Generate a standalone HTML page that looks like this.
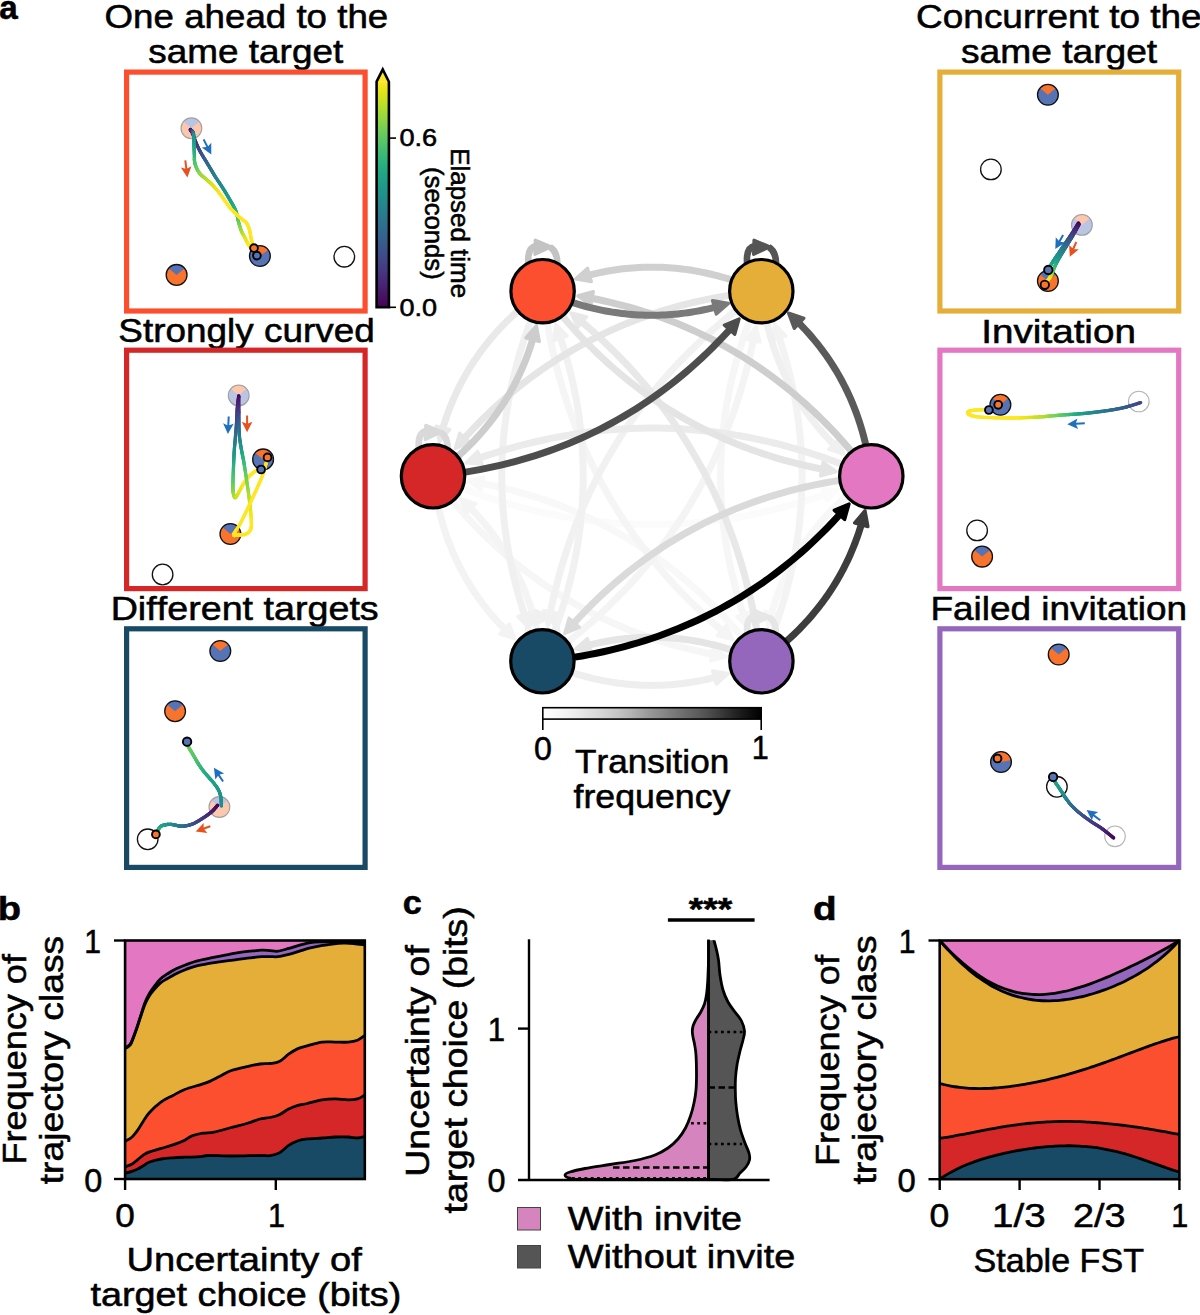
<!DOCTYPE html>
<html><head><meta charset="utf-8"><style>html,body{margin:0;padding:0;background:#fff;width:1200px;height:1315px;overflow:hidden}text{font-family:"Liberation Sans", sans-serif;font-kerning:none;stroke:#000;stroke-width:0.55px;paint-order:fill}</style></head><body>
<svg width="1200" height="1315" viewBox="0 0 1200 1315" style="display:block;font-family:'Liberation Sans', sans-serif"><text transform="translate(-0.67,18.60) scale(0.9763,1)" font-size="34" font-weight="bold" fill="#000">a</text>
<text transform="translate(-2.21,920.00) scale(1.1207,1)" font-size="34" font-weight="bold" fill="#000">b</text>
<text transform="translate(402.66,913.70) scale(1.0069,1)" font-size="34" font-weight="bold" fill="#000">c</text>
<text transform="translate(812.91,919.70) scale(1.1382,1)" font-size="34" font-weight="bold" fill="#000">d</text>
<text transform="translate(104.56,28.00) scale(1.0799,1)" font-size="34" fill="#000">One ahead to the</text>
<text transform="translate(148.37,63.30) scale(1.0856,1)" font-size="34" fill="#000">same target</text>
<text transform="translate(916.12,28.00) scale(1.0868,1)" font-size="34" fill="#000">Concurrent to the</text>
<text transform="translate(960.97,63.30) scale(1.0935,1)" font-size="34" fill="#000">same target</text>
<text transform="translate(118.32,341.50) scale(1.0861,1)" font-size="34" fill="#000">Strongly curved</text>
<text transform="translate(981.33,342.50) scale(1.1366,1)" font-size="34" fill="#000">Invitation</text>
<text transform="translate(110.66,620.00) scale(1.1088,1)" font-size="34" fill="#000">Different targets</text>
<text transform="translate(930.47,619.70) scale(1.0867,1)" font-size="34" fill="#000">Failed invitation</text>
<rect x="126.60" y="72.10" width="238.50" height="238.90" fill="none" stroke="#fc4f30" stroke-width="5.2"/>
<rect x="126.60" y="350.20" width="238.50" height="238.40" fill="none" stroke="#d62728" stroke-width="5.2"/>
<rect x="126.60" y="628.80" width="238.50" height="238.60" fill="none" stroke="#184a66" stroke-width="5.2"/>
<rect x="939.90" y="72.10" width="238.80" height="238.90" fill="none" stroke="#e5ae38" stroke-width="5.2"/>
<rect x="939.90" y="350.20" width="238.80" height="238.40" fill="none" stroke="#e377c2" stroke-width="5.2"/>
<rect x="939.90" y="628.80" width="238.80" height="238.60" fill="none" stroke="#9467bd" stroke-width="5.2"/>
<defs><linearGradient id="vg" x1="0" y1="1" x2="0" y2="0"><stop offset="0.00" stop-color="#440154"/><stop offset="0.05" stop-color="#471365"/><stop offset="0.10" stop-color="#482475"/><stop offset="0.15" stop-color="#463480"/><stop offset="0.20" stop-color="#414487"/><stop offset="0.25" stop-color="#3b528b"/><stop offset="0.30" stop-color="#355f8d"/><stop offset="0.35" stop-color="#2f6c8e"/><stop offset="0.40" stop-color="#2a788e"/><stop offset="0.45" stop-color="#25848e"/><stop offset="0.50" stop-color="#21918c"/><stop offset="0.55" stop-color="#1e9c89"/><stop offset="0.60" stop-color="#22a884"/><stop offset="0.65" stop-color="#2fb47c"/><stop offset="0.70" stop-color="#44bf70"/><stop offset="0.75" stop-color="#5ec962"/><stop offset="0.80" stop-color="#7ad151"/><stop offset="0.85" stop-color="#9bd93c"/><stop offset="0.90" stop-color="#bddf26"/><stop offset="0.95" stop-color="#dfe318"/><stop offset="1.00" stop-color="#fde725"/></linearGradient><linearGradient id="gg" x1="0" y1="0" x2="1" y2="0"><stop offset="0.00" stop-color="#ffffff"/><stop offset="0.05" stop-color="#f9f9f9"/><stop offset="0.10" stop-color="#f3f3f3"/><stop offset="0.15" stop-color="#ececec"/><stop offset="0.20" stop-color="#e2e2e2"/><stop offset="0.25" stop-color="#d9d9d9"/><stop offset="0.30" stop-color="#cecece"/><stop offset="0.35" stop-color="#c3c3c3"/><stop offset="0.40" stop-color="#b5b5b5"/><stop offset="0.45" stop-color="#a5a5a5"/><stop offset="0.50" stop-color="#959595"/><stop offset="0.55" stop-color="#888888"/><stop offset="0.60" stop-color="#7a7a7a"/><stop offset="0.65" stop-color="#6c6c6c"/><stop offset="0.70" stop-color="#5f5f5f"/><stop offset="0.75" stop-color="#515151"/><stop offset="0.80" stop-color="#404040"/><stop offset="0.85" stop-color="#2e2e2e"/><stop offset="0.90" stop-color="#1d1d1d"/><stop offset="0.95" stop-color="#0e0e0e"/><stop offset="1.00" stop-color="#000000"/></linearGradient></defs>
<rect x="376.6" y="81.7" width="12.299999999999955" height="225.60000000000002" fill="url(#vg)"/>
<path d="M376.6,81.7 L382.75,69.5 L388.9,81.7 Z" fill="#fde725"/>
<path d="M376.6,81.7 L382.75,69.5 L388.9,81.7 L388.9,307.3 L376.6,307.3 Z" fill="none" stroke="#000" stroke-width="2.6" stroke-linejoin="miter"/>
<line x1="388.9" y1="138.1" x2="396" y2="138.1" stroke="#000" stroke-width="1.6"/>
<line x1="388.9" y1="307.3" x2="396" y2="307.3" stroke="#000" stroke-width="1.6"/>
<text transform="translate(399.44,146.40) scale(1.1557,1)" font-size="23.5" fill="#000">0.6</text>
<text transform="translate(399.44,316.20) scale(1.1514,1)" font-size="23.5" fill="#000">0.0</text>
<text transform="translate(451.40,148.17) rotate(90) scale(0.9828,1)" font-size="26.4" fill="#000">Elapsed time</text>
<text transform="translate(425.20,167.01) rotate(90) scale(1.0275,1)" font-size="25" fill="#000">(seconds)</text>
<rect x="542.8" y="707.7" width="218.4" height="11.4" fill="url(#gg)" stroke="#000" stroke-width="1.6"/>
<line x1="542.8" y1="719" x2="542.8" y2="730" stroke="#000" stroke-width="1.6"/>
<line x1="761.2" y1="719" x2="761.2" y2="730" stroke="#000" stroke-width="1.6"/>
<text transform="translate(533.94,759.50) scale(0.9475,1)" font-size="34" fill="#000">0</text>
<text transform="translate(751.67,759.00) scale(0.9005,1)" font-size="34" fill="#000">1</text>
<text transform="translate(575.01,773.30) scale(1.0334,1)" font-size="34" fill="#000">Transition</text>
<text transform="translate(573.49,807.50) scale(1.0513,1)" font-size="34" fill="#000">frequency</text>
<path d="M125.10,940.50 C165.05,940.50 324.85,940.50 364.80,940.50 L364.80,942.50 C363.50,942.38 359.80,941.97 357.00,941.80 C354.20,941.63 351.67,941.55 348.00,941.50 C344.33,941.45 339.67,941.45 335.00,941.50 C330.33,941.55 324.10,941.62 320.00,941.80 C315.90,941.98 313.80,942.03 310.40,942.60 C307.00,943.17 303.20,944.23 299.60,945.20 C296.00,946.17 292.42,947.40 288.80,948.40 C285.18,949.40 281.03,950.83 277.90,951.20 C274.77,951.57 272.70,950.77 270.00,950.60 C267.30,950.43 265.03,950.10 261.70,950.20 C258.37,950.30 253.62,950.85 250.00,951.20 C246.38,951.55 243.62,951.74 240.00,952.30 C236.38,952.86 232.05,953.85 228.30,954.56 C224.55,955.28 221.10,955.89 217.50,956.61 C213.90,957.32 210.45,958.03 206.70,958.85 C202.95,959.66 198.47,960.52 195.00,961.50 C191.53,962.48 188.95,963.52 185.90,964.70 C182.85,965.88 179.75,967.10 176.70,968.60 C173.65,970.10 170.33,971.95 167.60,973.70 C164.87,975.45 162.58,976.88 160.30,979.08 C158.02,981.27 155.72,984.48 153.90,986.89 C152.08,989.30 150.92,990.84 149.40,993.55 C147.88,996.25 146.33,999.18 144.80,1003.12 C143.27,1007.06 141.72,1012.57 140.20,1017.18 C138.68,1021.80 137.22,1026.55 135.70,1030.80 C134.18,1035.05 132.38,1040.15 131.10,1042.70 C129.82,1045.25 129.00,1045.28 128.00,1046.10 C127.00,1046.92 125.58,1047.35 125.10,1047.60 Z" fill="#e377c2"/>
<path d="M125.10,1047.60 C125.58,1047.35 127.00,1046.92 128.00,1046.10 C129.00,1045.28 129.82,1045.25 131.10,1042.70 C132.38,1040.15 134.18,1035.05 135.70,1030.80 C137.22,1026.55 138.68,1021.80 140.20,1017.18 C141.72,1012.57 143.27,1007.06 144.80,1003.12 C146.33,999.18 147.88,996.25 149.40,993.55 C150.92,990.84 152.08,989.30 153.90,986.89 C155.72,984.48 158.02,981.27 160.30,979.08 C162.58,976.88 164.87,975.45 167.60,973.70 C170.33,971.95 173.65,970.10 176.70,968.60 C179.75,967.10 182.85,965.88 185.90,964.70 C188.95,963.52 191.53,962.48 195.00,961.50 C198.47,960.52 202.95,959.66 206.70,958.85 C210.45,958.03 213.90,957.32 217.50,956.61 C221.10,955.89 224.55,955.28 228.30,954.56 C232.05,953.85 236.38,952.86 240.00,952.30 C243.62,951.74 246.38,951.55 250.00,951.20 C253.62,950.85 258.37,950.30 261.70,950.20 C265.03,950.10 267.30,950.43 270.00,950.60 C272.70,950.77 274.77,951.57 277.90,951.20 C281.03,950.83 285.18,949.40 288.80,948.40 C292.42,947.40 296.00,946.17 299.60,945.20 C303.20,944.23 307.00,943.17 310.40,942.60 C313.80,942.03 315.90,941.98 320.00,941.80 C324.10,941.62 330.33,941.55 335.00,941.50 C339.67,941.45 344.33,941.45 348.00,941.50 C351.67,941.55 354.20,941.63 357.00,941.80 C359.80,941.97 363.50,942.38 364.80,942.50 L364.80,945.00 C362.97,944.75 357.45,943.80 353.80,943.50 C350.15,943.20 346.52,943.10 342.90,943.20 C339.28,943.30 335.70,943.68 332.10,944.10 C328.50,944.52 324.92,945.07 321.30,945.70 C317.68,946.33 314.02,947.00 310.40,947.90 C306.78,948.80 303.20,950.02 299.60,951.10 C296.00,952.18 292.42,953.47 288.80,954.40 C285.18,955.33 281.03,956.33 277.90,956.70 C274.77,957.07 272.70,956.60 270.00,956.60 C267.30,956.60 265.03,956.48 261.70,956.70 C258.37,956.92 253.62,957.48 250.00,957.90 C246.38,958.32 243.62,958.74 240.00,959.20 C236.38,959.66 232.05,960.14 228.30,960.64 C224.55,961.14 221.10,961.64 217.50,962.19 C213.90,962.75 210.45,963.27 206.70,963.95 C202.95,964.64 198.47,965.38 195.00,966.30 C191.53,967.22 188.95,968.32 185.90,969.50 C182.85,970.68 179.75,971.90 176.70,973.40 C173.65,974.90 170.33,976.88 167.60,978.50 C164.87,980.12 162.58,981.22 160.30,983.12 C158.02,985.03 155.72,987.79 153.90,989.91 C152.08,992.03 150.92,993.39 149.40,995.85 C147.88,998.31 146.33,1000.99 144.80,1004.68 C143.27,1008.38 141.72,1013.53 140.20,1018.02 C138.68,1022.50 137.22,1027.35 135.70,1031.60 C134.18,1035.85 132.38,1040.95 131.10,1043.50 C129.82,1046.05 129.00,1046.08 128.00,1046.90 C127.00,1047.72 125.58,1048.15 125.10,1048.40 Z" fill="#9467bd"/>
<path d="M125.10,1048.40 C125.58,1048.15 127.00,1047.72 128.00,1046.90 C129.00,1046.08 129.82,1046.05 131.10,1043.50 C132.38,1040.95 134.18,1035.85 135.70,1031.60 C137.22,1027.35 138.68,1022.50 140.20,1018.02 C141.72,1013.53 143.27,1008.38 144.80,1004.68 C146.33,1000.99 147.88,998.31 149.40,995.85 C150.92,993.39 152.08,992.03 153.90,989.91 C155.72,987.79 158.02,985.03 160.30,983.12 C162.58,981.22 164.87,980.12 167.60,978.50 C170.33,976.88 173.65,974.90 176.70,973.40 C179.75,971.90 182.85,970.68 185.90,969.50 C188.95,968.32 191.53,967.22 195.00,966.30 C198.47,965.38 202.95,964.64 206.70,963.95 C210.45,963.27 213.90,962.75 217.50,962.19 C221.10,961.64 224.55,961.14 228.30,960.64 C232.05,960.14 236.38,959.66 240.00,959.20 C243.62,958.74 246.38,958.32 250.00,957.90 C253.62,957.48 258.37,956.92 261.70,956.70 C265.03,956.48 267.30,956.60 270.00,956.60 C272.70,956.60 274.77,957.07 277.90,956.70 C281.03,956.33 285.18,955.33 288.80,954.40 C292.42,953.47 296.00,952.18 299.60,951.10 C303.20,950.02 306.78,948.80 310.40,947.90 C314.02,947.00 317.68,946.33 321.30,945.70 C324.92,945.07 328.50,944.52 332.10,944.10 C335.70,943.68 339.28,943.30 342.90,943.20 C346.52,943.10 350.15,943.20 353.80,943.50 C357.45,943.80 362.97,944.75 364.80,945.00 L364.80,1035.50 C363.58,1036.28 360.27,1039.10 357.50,1040.20 C354.73,1041.30 351.92,1041.78 348.20,1042.10 C344.48,1042.42 339.55,1042.10 335.20,1042.10 C330.85,1042.10 326.77,1041.48 322.10,1042.10 C317.43,1042.72 311.23,1044.72 307.20,1045.80 C303.17,1046.88 301.00,1047.20 297.90,1048.60 C294.80,1050.00 291.70,1052.03 288.60,1054.20 C285.50,1056.37 282.40,1060.05 279.30,1061.60 C276.20,1063.15 273.25,1063.10 270.00,1063.50 C266.75,1063.90 263.40,1063.53 259.80,1064.00 C256.20,1064.47 253.15,1065.22 248.40,1066.30 C243.65,1067.38 236.05,1068.85 231.30,1070.50 C226.55,1072.15 223.70,1074.30 219.90,1076.20 C216.10,1078.10 211.82,1080.47 208.50,1081.90 C205.18,1083.33 203.95,1083.53 200.00,1084.80 C196.05,1086.07 189.30,1087.73 184.80,1089.50 C180.30,1091.27 176.93,1093.33 173.00,1095.40 C169.07,1097.47 165.12,1099.05 161.20,1101.90 C157.28,1104.75 152.43,1109.37 149.50,1112.50 C146.57,1115.63 145.57,1117.77 143.60,1120.70 C141.63,1123.63 139.67,1127.35 137.70,1130.10 C135.73,1132.85 133.90,1135.33 131.80,1137.20 C129.70,1139.07 126.22,1140.62 125.10,1141.30 Z" fill="#e5ae38"/>
<path d="M125.10,1141.30 C126.22,1140.62 129.70,1139.07 131.80,1137.20 C133.90,1135.33 135.73,1132.85 137.70,1130.10 C139.67,1127.35 141.63,1123.63 143.60,1120.70 C145.57,1117.77 146.57,1115.63 149.50,1112.50 C152.43,1109.37 157.28,1104.75 161.20,1101.90 C165.12,1099.05 169.07,1097.47 173.00,1095.40 C176.93,1093.33 180.30,1091.27 184.80,1089.50 C189.30,1087.73 196.05,1086.07 200.00,1084.80 C203.95,1083.53 205.18,1083.33 208.50,1081.90 C211.82,1080.47 216.10,1078.10 219.90,1076.20 C223.70,1074.30 226.55,1072.15 231.30,1070.50 C236.05,1068.85 243.65,1067.38 248.40,1066.30 C253.15,1065.22 256.20,1064.47 259.80,1064.00 C263.40,1063.53 266.75,1063.90 270.00,1063.50 C273.25,1063.10 276.20,1063.15 279.30,1061.60 C282.40,1060.05 285.50,1056.37 288.60,1054.20 C291.70,1052.03 294.80,1050.00 297.90,1048.60 C301.00,1047.20 303.17,1046.88 307.20,1045.80 C311.23,1044.72 317.43,1042.72 322.10,1042.10 C326.77,1041.48 330.85,1042.10 335.20,1042.10 C339.55,1042.10 344.48,1042.42 348.20,1042.10 C351.92,1041.78 354.73,1041.30 357.50,1040.20 C360.27,1039.10 363.58,1036.28 364.80,1035.50 L364.80,1095.00 C363.58,1095.65 360.27,1098.10 357.50,1098.90 C354.73,1099.70 351.92,1099.80 348.20,1099.80 C344.48,1099.80 339.55,1098.90 335.20,1098.90 C330.85,1098.90 326.77,1099.03 322.10,1099.80 C317.43,1100.57 311.23,1102.57 307.20,1103.50 C303.17,1104.43 301.00,1104.47 297.90,1105.40 C294.80,1106.33 291.70,1107.55 288.60,1109.10 C285.50,1110.65 282.40,1113.30 279.30,1114.70 C276.20,1116.10 273.25,1116.78 270.00,1117.50 C266.75,1118.22 263.40,1118.08 259.80,1119.00 C256.20,1119.92 253.15,1121.58 248.40,1123.00 C243.65,1124.42 237.00,1125.98 231.30,1127.50 C225.60,1129.02 218.95,1131.15 214.20,1132.10 C209.45,1133.05 206.60,1132.53 202.80,1133.20 C199.00,1133.87 194.40,1134.93 191.40,1136.10 C188.40,1137.27 187.87,1138.73 184.80,1140.20 C181.73,1141.67 176.93,1143.53 173.00,1144.90 C169.07,1146.27 165.12,1147.23 161.20,1148.40 C157.28,1149.57 152.43,1150.82 149.50,1151.90 C146.57,1152.98 145.57,1153.62 143.60,1154.90 C141.63,1156.18 139.67,1158.03 137.70,1159.60 C135.73,1161.17 133.90,1163.12 131.80,1164.30 C129.70,1165.48 126.22,1166.30 125.10,1166.70 Z" fill="#fc4f30"/>
<path d="M125.10,1166.70 C126.22,1166.30 129.70,1165.48 131.80,1164.30 C133.90,1163.12 135.73,1161.17 137.70,1159.60 C139.67,1158.03 141.63,1156.18 143.60,1154.90 C145.57,1153.62 146.57,1152.98 149.50,1151.90 C152.43,1150.82 157.28,1149.57 161.20,1148.40 C165.12,1147.23 169.07,1146.27 173.00,1144.90 C176.93,1143.53 181.73,1141.67 184.80,1140.20 C187.87,1138.73 188.40,1137.27 191.40,1136.10 C194.40,1134.93 199.00,1133.87 202.80,1133.20 C206.60,1132.53 209.45,1133.05 214.20,1132.10 C218.95,1131.15 225.60,1129.02 231.30,1127.50 C237.00,1125.98 243.65,1124.42 248.40,1123.00 C253.15,1121.58 256.20,1119.92 259.80,1119.00 C263.40,1118.08 266.75,1118.22 270.00,1117.50 C273.25,1116.78 276.20,1116.10 279.30,1114.70 C282.40,1113.30 285.50,1110.65 288.60,1109.10 C291.70,1107.55 294.80,1106.33 297.90,1105.40 C301.00,1104.47 303.17,1104.43 307.20,1103.50 C311.23,1102.57 317.43,1100.57 322.10,1099.80 C326.77,1099.03 330.85,1098.90 335.20,1098.90 C339.55,1098.90 344.48,1099.80 348.20,1099.80 C351.92,1099.80 354.73,1099.70 357.50,1098.90 C360.27,1098.10 363.58,1095.65 364.80,1095.00 L364.80,1136.50 C363.58,1136.75 360.27,1137.92 357.50,1138.00 C354.73,1138.08 351.92,1137.17 348.20,1137.00 C344.48,1136.83 339.55,1136.83 335.20,1137.00 C330.85,1137.17 326.77,1137.68 322.10,1138.00 C317.43,1138.32 311.23,1138.43 307.20,1138.90 C303.17,1139.37 301.00,1139.72 297.90,1140.80 C294.80,1141.88 291.70,1143.38 288.60,1145.40 C285.50,1147.42 282.40,1151.18 279.30,1152.90 C276.20,1154.62 273.25,1155.27 270.00,1155.70 C266.75,1156.13 266.25,1155.45 259.80,1155.50 C253.35,1155.55 239.85,1156.00 231.30,1156.00 C222.75,1156.00 213.72,1155.38 208.50,1155.50 C203.28,1155.62 203.95,1156.42 200.00,1156.70 C196.05,1156.98 189.30,1157.02 184.80,1157.20 C180.30,1157.38 176.93,1157.50 173.00,1157.80 C169.07,1158.10 165.12,1158.30 161.20,1159.00 C157.28,1159.70 152.43,1160.92 149.50,1162.00 C146.57,1163.08 145.57,1164.33 143.60,1165.50 C141.63,1166.67 139.67,1168.02 137.70,1169.00 C135.73,1169.98 133.90,1170.70 131.80,1171.40 C129.70,1172.10 126.22,1172.90 125.10,1173.20 Z" fill="#d62728"/>
<path d="M125.10,1173.20 C126.22,1172.90 129.70,1172.10 131.80,1171.40 C133.90,1170.70 135.73,1169.98 137.70,1169.00 C139.67,1168.02 141.63,1166.67 143.60,1165.50 C145.57,1164.33 146.57,1163.08 149.50,1162.00 C152.43,1160.92 157.28,1159.70 161.20,1159.00 C165.12,1158.30 169.07,1158.10 173.00,1157.80 C176.93,1157.50 180.30,1157.38 184.80,1157.20 C189.30,1157.02 196.05,1156.98 200.00,1156.70 C203.95,1156.42 203.28,1155.62 208.50,1155.50 C213.72,1155.38 222.75,1156.00 231.30,1156.00 C239.85,1156.00 253.35,1155.55 259.80,1155.50 C266.25,1155.45 266.75,1156.13 270.00,1155.70 C273.25,1155.27 276.20,1154.62 279.30,1152.90 C282.40,1151.18 285.50,1147.42 288.60,1145.40 C291.70,1143.38 294.80,1141.88 297.90,1140.80 C301.00,1139.72 303.17,1139.37 307.20,1138.90 C311.23,1138.43 317.43,1138.32 322.10,1138.00 C326.77,1137.68 330.85,1137.17 335.20,1137.00 C339.55,1136.83 344.48,1136.83 348.20,1137.00 C351.92,1137.17 354.73,1138.08 357.50,1138.00 C360.27,1137.92 363.58,1136.75 364.80,1136.50 L364.80,1179.00 C324.85,1179.00 165.05,1179.00 125.10,1179.00 Z" fill="#184a66"/>
<path d="M125.10,1047.60 C125.58,1047.35 127.00,1046.92 128.00,1046.10 C129.00,1045.28 129.82,1045.25 131.10,1042.70 C132.38,1040.15 134.18,1035.05 135.70,1030.80 C137.22,1026.55 138.68,1021.80 140.20,1017.18 C141.72,1012.57 143.27,1007.06 144.80,1003.12 C146.33,999.18 147.88,996.25 149.40,993.55 C150.92,990.84 152.08,989.30 153.90,986.89 C155.72,984.48 158.02,981.27 160.30,979.08 C162.58,976.88 164.87,975.45 167.60,973.70 C170.33,971.95 173.65,970.10 176.70,968.60 C179.75,967.10 182.85,965.88 185.90,964.70 C188.95,963.52 191.53,962.48 195.00,961.50 C198.47,960.52 202.95,959.66 206.70,958.85 C210.45,958.03 213.90,957.32 217.50,956.61 C221.10,955.89 224.55,955.28 228.30,954.56 C232.05,953.85 236.38,952.86 240.00,952.30 C243.62,951.74 246.38,951.55 250.00,951.20 C253.62,950.85 258.37,950.30 261.70,950.20 C265.03,950.10 267.30,950.43 270.00,950.60 C272.70,950.77 274.77,951.57 277.90,951.20 C281.03,950.83 285.18,949.40 288.80,948.40 C292.42,947.40 296.00,946.17 299.60,945.20 C303.20,944.23 307.00,943.17 310.40,942.60 C313.80,942.03 315.90,941.98 320.00,941.80 C324.10,941.62 330.33,941.55 335.00,941.50 C339.67,941.45 344.33,941.45 348.00,941.50 C351.67,941.55 354.20,941.63 357.00,941.80 C359.80,941.97 363.50,942.38 364.80,942.50" fill="none" stroke="#000" stroke-width="2.8" stroke-linejoin="round"/>
<path d="M125.10,1048.40 C125.58,1048.15 127.00,1047.72 128.00,1046.90 C129.00,1046.08 129.82,1046.05 131.10,1043.50 C132.38,1040.95 134.18,1035.85 135.70,1031.60 C137.22,1027.35 138.68,1022.50 140.20,1018.02 C141.72,1013.53 143.27,1008.38 144.80,1004.68 C146.33,1000.99 147.88,998.31 149.40,995.85 C150.92,993.39 152.08,992.03 153.90,989.91 C155.72,987.79 158.02,985.03 160.30,983.12 C162.58,981.22 164.87,980.12 167.60,978.50 C170.33,976.88 173.65,974.90 176.70,973.40 C179.75,971.90 182.85,970.68 185.90,969.50 C188.95,968.32 191.53,967.22 195.00,966.30 C198.47,965.38 202.95,964.64 206.70,963.95 C210.45,963.27 213.90,962.75 217.50,962.19 C221.10,961.64 224.55,961.14 228.30,960.64 C232.05,960.14 236.38,959.66 240.00,959.20 C243.62,958.74 246.38,958.32 250.00,957.90 C253.62,957.48 258.37,956.92 261.70,956.70 C265.03,956.48 267.30,956.60 270.00,956.60 C272.70,956.60 274.77,957.07 277.90,956.70 C281.03,956.33 285.18,955.33 288.80,954.40 C292.42,953.47 296.00,952.18 299.60,951.10 C303.20,950.02 306.78,948.80 310.40,947.90 C314.02,947.00 317.68,946.33 321.30,945.70 C324.92,945.07 328.50,944.52 332.10,944.10 C335.70,943.68 339.28,943.30 342.90,943.20 C346.52,943.10 350.15,943.20 353.80,943.50 C357.45,943.80 362.97,944.75 364.80,945.00" fill="none" stroke="#000" stroke-width="2.8" stroke-linejoin="round"/>
<path d="M125.10,1141.30 C126.22,1140.62 129.70,1139.07 131.80,1137.20 C133.90,1135.33 135.73,1132.85 137.70,1130.10 C139.67,1127.35 141.63,1123.63 143.60,1120.70 C145.57,1117.77 146.57,1115.63 149.50,1112.50 C152.43,1109.37 157.28,1104.75 161.20,1101.90 C165.12,1099.05 169.07,1097.47 173.00,1095.40 C176.93,1093.33 180.30,1091.27 184.80,1089.50 C189.30,1087.73 196.05,1086.07 200.00,1084.80 C203.95,1083.53 205.18,1083.33 208.50,1081.90 C211.82,1080.47 216.10,1078.10 219.90,1076.20 C223.70,1074.30 226.55,1072.15 231.30,1070.50 C236.05,1068.85 243.65,1067.38 248.40,1066.30 C253.15,1065.22 256.20,1064.47 259.80,1064.00 C263.40,1063.53 266.75,1063.90 270.00,1063.50 C273.25,1063.10 276.20,1063.15 279.30,1061.60 C282.40,1060.05 285.50,1056.37 288.60,1054.20 C291.70,1052.03 294.80,1050.00 297.90,1048.60 C301.00,1047.20 303.17,1046.88 307.20,1045.80 C311.23,1044.72 317.43,1042.72 322.10,1042.10 C326.77,1041.48 330.85,1042.10 335.20,1042.10 C339.55,1042.10 344.48,1042.42 348.20,1042.10 C351.92,1041.78 354.73,1041.30 357.50,1040.20 C360.27,1039.10 363.58,1036.28 364.80,1035.50" fill="none" stroke="#000" stroke-width="2.8" stroke-linejoin="round"/>
<path d="M125.10,1166.70 C126.22,1166.30 129.70,1165.48 131.80,1164.30 C133.90,1163.12 135.73,1161.17 137.70,1159.60 C139.67,1158.03 141.63,1156.18 143.60,1154.90 C145.57,1153.62 146.57,1152.98 149.50,1151.90 C152.43,1150.82 157.28,1149.57 161.20,1148.40 C165.12,1147.23 169.07,1146.27 173.00,1144.90 C176.93,1143.53 181.73,1141.67 184.80,1140.20 C187.87,1138.73 188.40,1137.27 191.40,1136.10 C194.40,1134.93 199.00,1133.87 202.80,1133.20 C206.60,1132.53 209.45,1133.05 214.20,1132.10 C218.95,1131.15 225.60,1129.02 231.30,1127.50 C237.00,1125.98 243.65,1124.42 248.40,1123.00 C253.15,1121.58 256.20,1119.92 259.80,1119.00 C263.40,1118.08 266.75,1118.22 270.00,1117.50 C273.25,1116.78 276.20,1116.10 279.30,1114.70 C282.40,1113.30 285.50,1110.65 288.60,1109.10 C291.70,1107.55 294.80,1106.33 297.90,1105.40 C301.00,1104.47 303.17,1104.43 307.20,1103.50 C311.23,1102.57 317.43,1100.57 322.10,1099.80 C326.77,1099.03 330.85,1098.90 335.20,1098.90 C339.55,1098.90 344.48,1099.80 348.20,1099.80 C351.92,1099.80 354.73,1099.70 357.50,1098.90 C360.27,1098.10 363.58,1095.65 364.80,1095.00" fill="none" stroke="#000" stroke-width="2.8" stroke-linejoin="round"/>
<path d="M125.10,1173.20 C126.22,1172.90 129.70,1172.10 131.80,1171.40 C133.90,1170.70 135.73,1169.98 137.70,1169.00 C139.67,1168.02 141.63,1166.67 143.60,1165.50 C145.57,1164.33 146.57,1163.08 149.50,1162.00 C152.43,1160.92 157.28,1159.70 161.20,1159.00 C165.12,1158.30 169.07,1158.10 173.00,1157.80 C176.93,1157.50 180.30,1157.38 184.80,1157.20 C189.30,1157.02 196.05,1156.98 200.00,1156.70 C203.95,1156.42 203.28,1155.62 208.50,1155.50 C213.72,1155.38 222.75,1156.00 231.30,1156.00 C239.85,1156.00 253.35,1155.55 259.80,1155.50 C266.25,1155.45 266.75,1156.13 270.00,1155.70 C273.25,1155.27 276.20,1154.62 279.30,1152.90 C282.40,1151.18 285.50,1147.42 288.60,1145.40 C291.70,1143.38 294.80,1141.88 297.90,1140.80 C301.00,1139.72 303.17,1139.37 307.20,1138.90 C311.23,1138.43 317.43,1138.32 322.10,1138.00 C326.77,1137.68 330.85,1137.17 335.20,1137.00 C339.55,1136.83 344.48,1136.83 348.20,1137.00 C351.92,1137.17 354.73,1138.08 357.50,1138.00 C360.27,1137.92 363.58,1136.75 364.80,1136.50" fill="none" stroke="#000" stroke-width="2.8" stroke-linejoin="round"/>
<rect x="125.1" y="940.5" width="239.70000000000002" height="238.5" fill="none" stroke="#000" stroke-width="2.6"/>
<line x1="125.1" y1="1179.0" x2="125.1" y2="1190" stroke="#000" stroke-width="2.4"/>
<line x1="275.8" y1="1179.0" x2="275.8" y2="1190" stroke="#000" stroke-width="2.4"/>
<line x1="114" y1="940.5" x2="125.1" y2="940.5" stroke="#000" stroke-width="2.4"/>
<line x1="114" y1="1179.0" x2="125.1" y2="1179.0" stroke="#000" stroke-width="2.4"/>
<text transform="translate(84.20,953.00) scale(0.8868,1)" font-size="34" fill="#000">1</text>
<text transform="translate(84.23,1191.50) scale(0.9537,1)" font-size="34" fill="#000">0</text>
<text transform="translate(115.13,1227.00) scale(1.0337,1)" font-size="34" fill="#000">0</text>
<text transform="translate(267.97,1226.50) scale(0.9005,1)" font-size="34" fill="#000">1</text>
<text transform="translate(126.56,1271.30) scale(1.1217,1)" font-size="34" fill="#000">Uncertainty of</text>
<text transform="translate(90.43,1305.60) scale(1.1117,1)" font-size="34" fill="#000">target choice (bits)</text>
<text transform="translate(25.50,1164.46) rotate(-90) scale(1.0603,1)" font-size="34" fill="#000">Frequency of</text>
<text transform="translate(62.80,1184.36) rotate(-90) scale(1.0970,1)" font-size="34" fill="#000">trajectory class</text>
<path d="M939.70,940.50 C979.65,940.50 1139.45,940.50 1179.40,940.50 L1179.40,940.48 C1178.57,940.99 1176.07,942.53 1174.41,943.53 C1172.74,944.53 1171.08,945.50 1169.41,946.46 C1167.75,947.42 1166.08,948.36 1164.42,949.29 C1162.75,950.21 1161.09,951.13 1159.43,952.03 C1157.76,952.93 1156.10,953.81 1154.43,954.69 C1152.77,955.57 1151.10,956.43 1149.44,957.29 C1147.77,958.15 1146.11,958.99 1144.44,959.83 C1142.78,960.67 1141.11,961.50 1139.45,962.32 C1137.79,963.14 1136.12,963.95 1134.46,964.75 C1132.79,965.56 1131.13,966.35 1129.46,967.14 C1127.80,967.93 1126.13,968.71 1124.47,969.48 C1122.80,970.25 1121.14,971.01 1119.48,971.77 C1117.81,972.52 1116.15,973.26 1114.48,974.00 C1112.82,974.73 1111.15,975.45 1109.49,976.17 C1107.82,976.88 1106.16,977.58 1104.49,978.27 C1102.83,978.95 1101.16,979.63 1099.50,980.29 C1097.84,980.95 1096.17,981.60 1094.51,982.23 C1092.84,982.86 1091.18,983.47 1089.51,984.07 C1087.85,984.66 1086.18,985.24 1084.52,985.80 C1082.85,986.36 1081.19,986.90 1079.53,987.42 C1077.86,987.93 1076.20,988.43 1074.53,988.90 C1072.87,989.37 1071.20,989.82 1069.54,990.24 C1067.87,990.66 1066.21,991.06 1064.54,991.42 C1062.88,991.79 1061.21,992.13 1059.55,992.44 C1057.89,992.74 1056.22,993.02 1054.56,993.27 C1052.89,993.51 1051.23,993.73 1049.56,993.90 C1047.90,994.08 1046.23,994.22 1044.57,994.33 C1042.90,994.43 1041.24,994.50 1039.58,994.53 C1037.91,994.56 1036.25,994.55 1034.58,994.49 C1032.92,994.44 1031.25,994.35 1029.59,994.22 C1027.92,994.08 1026.26,993.90 1024.59,993.68 C1022.93,993.46 1021.26,993.19 1019.60,992.88 C1017.94,992.56 1016.27,992.20 1014.61,991.79 C1012.94,991.39 1011.28,990.93 1009.61,990.43 C1007.95,989.92 1006.28,989.37 1004.62,988.77 C1002.95,988.17 1001.29,987.52 999.62,986.82 C997.96,986.11 996.30,985.36 994.63,984.56 C992.97,983.75 991.30,982.90 989.64,982.00 C987.97,981.09 986.31,980.14 984.64,979.13 C982.98,978.12 981.31,977.07 979.65,975.96 C977.99,974.85 976.32,973.69 974.66,972.49 C972.99,971.28 971.33,970.02 969.66,968.72 C968.00,967.41 966.33,966.06 964.67,964.66 C963.00,963.26 961.34,961.81 959.68,960.32 C958.01,958.83 956.35,957.30 954.68,955.72 C953.02,954.14 951.35,952.52 949.69,950.87 C948.02,949.21 946.36,947.51 944.69,945.78 C943.03,944.04 940.53,941.35 939.70,940.47 Z" fill="#e377c2"/>
<path d="M939.70,940.47 C940.53,941.35 943.03,944.04 944.69,945.78 C946.36,947.51 948.02,949.21 949.69,950.87 C951.35,952.52 953.02,954.14 954.68,955.72 C956.35,957.30 958.01,958.83 959.68,960.32 C961.34,961.81 963.00,963.26 964.67,964.66 C966.33,966.06 968.00,967.41 969.66,968.72 C971.33,970.02 972.99,971.28 974.66,972.49 C976.32,973.69 977.99,974.85 979.65,975.96 C981.31,977.07 982.98,978.12 984.64,979.13 C986.31,980.14 987.97,981.09 989.64,982.00 C991.30,982.90 992.97,983.75 994.63,984.56 C996.30,985.36 997.96,986.11 999.62,986.82 C1001.29,987.52 1002.95,988.17 1004.62,988.77 C1006.28,989.37 1007.95,989.92 1009.61,990.43 C1011.28,990.93 1012.94,991.39 1014.61,991.79 C1016.27,992.20 1017.94,992.56 1019.60,992.88 C1021.26,993.19 1022.93,993.46 1024.59,993.68 C1026.26,993.90 1027.92,994.08 1029.59,994.22 C1031.25,994.35 1032.92,994.44 1034.58,994.49 C1036.25,994.55 1037.91,994.56 1039.58,994.53 C1041.24,994.50 1042.90,994.43 1044.57,994.33 C1046.23,994.22 1047.90,994.08 1049.56,993.90 C1051.23,993.73 1052.89,993.51 1054.56,993.27 C1056.22,993.02 1057.89,992.74 1059.55,992.44 C1061.21,992.13 1062.88,991.79 1064.54,991.42 C1066.21,991.06 1067.87,990.66 1069.54,990.24 C1071.20,989.82 1072.87,989.37 1074.53,988.90 C1076.20,988.43 1077.86,987.93 1079.53,987.42 C1081.19,986.90 1082.85,986.36 1084.52,985.80 C1086.18,985.24 1087.85,984.66 1089.51,984.07 C1091.18,983.47 1092.84,982.86 1094.51,982.23 C1096.17,981.60 1097.84,980.95 1099.50,980.29 C1101.16,979.63 1102.83,978.95 1104.49,978.27 C1106.16,977.58 1107.82,976.88 1109.49,976.17 C1111.15,975.45 1112.82,974.73 1114.48,974.00 C1116.15,973.26 1117.81,972.52 1119.48,971.77 C1121.14,971.01 1122.80,970.25 1124.47,969.48 C1126.13,968.71 1127.80,967.93 1129.46,967.14 C1131.13,966.35 1132.79,965.56 1134.46,964.75 C1136.12,963.95 1137.79,963.14 1139.45,962.32 C1141.11,961.50 1142.78,960.67 1144.44,959.83 C1146.11,958.99 1147.77,958.15 1149.44,957.29 C1151.10,956.43 1152.77,955.57 1154.43,954.69 C1156.10,953.81 1157.76,952.93 1159.43,952.03 C1161.09,951.13 1162.75,950.21 1164.42,949.29 C1166.08,948.36 1167.75,947.42 1169.41,946.46 C1171.08,945.50 1172.74,944.53 1174.41,943.53 C1176.07,942.53 1178.57,940.99 1179.40,940.48 L1179.40,940.49 C1178.57,941.37 1176.07,944.07 1174.41,945.76 C1172.74,947.45 1171.08,949.07 1169.41,950.63 C1167.75,952.20 1166.08,953.69 1164.42,955.14 C1162.75,956.58 1161.09,957.97 1159.43,959.31 C1157.76,960.65 1156.10,961.94 1154.43,963.18 C1152.77,964.43 1151.10,965.62 1149.44,966.78 C1147.77,967.94 1146.11,969.05 1144.44,970.13 C1142.78,971.20 1141.11,972.24 1139.45,973.25 C1137.79,974.25 1136.12,975.22 1134.46,976.15 C1132.79,977.09 1131.13,977.99 1129.46,978.86 C1127.80,979.74 1126.13,980.58 1124.47,981.40 C1122.80,982.21 1121.14,983.00 1119.48,983.76 C1117.81,984.52 1116.15,985.25 1114.48,985.96 C1112.82,986.66 1111.15,987.34 1109.49,988.00 C1107.82,988.66 1106.16,989.29 1104.49,989.90 C1102.83,990.51 1101.16,991.09 1099.50,991.65 C1097.84,992.21 1096.17,992.75 1094.51,993.26 C1092.84,993.77 1091.18,994.26 1089.51,994.72 C1087.85,995.18 1086.18,995.62 1084.52,996.04 C1082.85,996.45 1081.19,996.84 1079.53,997.20 C1077.86,997.57 1076.20,997.90 1074.53,998.22 C1072.87,998.53 1071.20,998.81 1069.54,999.07 C1067.87,999.33 1066.21,999.56 1064.54,999.76 C1062.88,999.97 1061.21,1000.14 1059.55,1000.28 C1057.89,1000.43 1056.22,1000.54 1054.56,1000.63 C1052.89,1000.71 1051.23,1000.76 1049.56,1000.78 C1047.90,1000.80 1046.23,1000.79 1044.57,1000.74 C1042.90,1000.69 1041.24,1000.61 1039.58,1000.49 C1037.91,1000.37 1036.25,1000.22 1034.58,1000.03 C1032.92,999.84 1031.25,999.61 1029.59,999.34 C1027.92,999.07 1026.26,998.77 1024.59,998.42 C1022.93,998.07 1021.26,997.69 1019.60,997.26 C1017.94,996.83 1016.27,996.36 1014.61,995.84 C1012.94,995.33 1011.28,994.77 1009.61,994.17 C1007.95,993.56 1006.28,992.92 1004.62,992.22 C1002.95,991.53 1001.29,990.79 999.62,990.00 C997.96,989.21 996.30,988.38 994.63,987.50 C992.97,986.61 991.30,985.68 989.64,984.70 C987.97,983.72 986.31,982.70 984.64,981.62 C982.98,980.54 981.31,979.41 979.65,978.23 C977.99,977.06 976.32,975.83 974.66,974.55 C972.99,973.27 971.33,971.94 969.66,970.56 C968.00,969.19 966.33,967.76 964.67,966.28 C963.00,964.80 961.34,963.27 959.68,961.69 C958.01,960.12 956.35,958.49 954.68,956.82 C953.02,955.14 951.35,953.42 949.69,951.65 C948.02,949.88 946.36,948.06 944.69,946.20 C943.03,944.33 940.53,941.43 939.70,940.47 Z" fill="#9467bd"/>
<path d="M939.70,940.47 C940.53,941.43 943.03,944.33 944.69,946.20 C946.36,948.06 948.02,949.88 949.69,951.65 C951.35,953.42 953.02,955.14 954.68,956.82 C956.35,958.49 958.01,960.12 959.68,961.69 C961.34,963.27 963.00,964.80 964.67,966.28 C966.33,967.76 968.00,969.19 969.66,970.56 C971.33,971.94 972.99,973.27 974.66,974.55 C976.32,975.83 977.99,977.06 979.65,978.23 C981.31,979.41 982.98,980.54 984.64,981.62 C986.31,982.70 987.97,983.72 989.64,984.70 C991.30,985.68 992.97,986.61 994.63,987.50 C996.30,988.38 997.96,989.21 999.62,990.00 C1001.29,990.79 1002.95,991.53 1004.62,992.22 C1006.28,992.92 1007.95,993.56 1009.61,994.17 C1011.28,994.77 1012.94,995.33 1014.61,995.84 C1016.27,996.36 1017.94,996.83 1019.60,997.26 C1021.26,997.69 1022.93,998.07 1024.59,998.42 C1026.26,998.77 1027.92,999.07 1029.59,999.34 C1031.25,999.61 1032.92,999.84 1034.58,1000.03 C1036.25,1000.22 1037.91,1000.37 1039.58,1000.49 C1041.24,1000.61 1042.90,1000.69 1044.57,1000.74 C1046.23,1000.79 1047.90,1000.80 1049.56,1000.78 C1051.23,1000.76 1052.89,1000.71 1054.56,1000.63 C1056.22,1000.54 1057.89,1000.43 1059.55,1000.28 C1061.21,1000.14 1062.88,999.97 1064.54,999.76 C1066.21,999.56 1067.87,999.33 1069.54,999.07 C1071.20,998.81 1072.87,998.53 1074.53,998.22 C1076.20,997.90 1077.86,997.57 1079.53,997.20 C1081.19,996.84 1082.85,996.45 1084.52,996.04 C1086.18,995.62 1087.85,995.18 1089.51,994.72 C1091.18,994.26 1092.84,993.77 1094.51,993.26 C1096.17,992.75 1097.84,992.21 1099.50,991.65 C1101.16,991.09 1102.83,990.51 1104.49,989.90 C1106.16,989.29 1107.82,988.66 1109.49,988.00 C1111.15,987.34 1112.82,986.66 1114.48,985.96 C1116.15,985.25 1117.81,984.52 1119.48,983.76 C1121.14,983.00 1122.80,982.21 1124.47,981.40 C1126.13,980.58 1127.80,979.74 1129.46,978.86 C1131.13,977.99 1132.79,977.09 1134.46,976.15 C1136.12,975.22 1137.79,974.25 1139.45,973.25 C1141.11,972.24 1142.78,971.20 1144.44,970.13 C1146.11,969.05 1147.77,967.94 1149.44,966.78 C1151.10,965.62 1152.77,964.43 1154.43,963.18 C1156.10,961.94 1157.76,960.65 1159.43,959.31 C1161.09,957.97 1162.75,956.58 1164.42,955.14 C1166.08,953.69 1167.75,952.20 1169.41,950.63 C1171.08,949.07 1172.74,947.45 1174.41,945.76 C1176.07,944.07 1178.57,941.37 1179.40,940.49 L1179.40,1036.70 C1178.57,1036.91 1176.07,1037.51 1174.41,1037.95 C1172.74,1038.39 1171.08,1038.86 1169.41,1039.34 C1167.75,1039.83 1166.08,1040.33 1164.42,1040.86 C1162.75,1041.38 1161.09,1041.92 1159.43,1042.48 C1157.76,1043.03 1156.10,1043.60 1154.43,1044.18 C1152.77,1044.75 1151.10,1045.35 1149.44,1045.94 C1147.77,1046.54 1146.11,1047.15 1144.44,1047.76 C1142.78,1048.37 1141.11,1048.99 1139.45,1049.61 C1137.79,1050.23 1136.12,1050.86 1134.46,1051.48 C1132.79,1052.11 1131.13,1052.74 1129.46,1053.36 C1127.80,1053.99 1126.13,1054.62 1124.47,1055.25 C1122.80,1055.87 1121.14,1056.50 1119.48,1057.12 C1117.81,1057.74 1116.15,1058.36 1114.48,1058.97 C1112.82,1059.58 1111.15,1060.19 1109.49,1060.80 C1107.82,1061.40 1106.16,1062.00 1104.49,1062.60 C1102.83,1063.19 1101.16,1063.78 1099.50,1064.36 C1097.84,1064.93 1096.17,1065.51 1094.51,1066.07 C1092.84,1066.64 1091.18,1067.20 1089.51,1067.75 C1087.85,1068.29 1086.18,1068.84 1084.52,1069.37 C1082.85,1069.90 1081.19,1070.43 1079.53,1070.94 C1077.86,1071.46 1076.20,1071.96 1074.53,1072.46 C1072.87,1072.96 1071.20,1073.44 1069.54,1073.92 C1067.87,1074.40 1066.21,1074.87 1064.54,1075.33 C1062.88,1075.78 1061.21,1076.23 1059.55,1076.67 C1057.89,1077.11 1056.22,1077.54 1054.56,1077.95 C1052.89,1078.37 1051.23,1078.78 1049.56,1079.18 C1047.90,1079.58 1046.23,1079.96 1044.57,1080.34 C1042.90,1080.71 1041.24,1081.08 1039.58,1081.43 C1037.91,1081.79 1036.25,1082.13 1034.58,1082.46 C1032.92,1082.80 1031.25,1083.12 1029.59,1083.43 C1027.92,1083.74 1026.26,1084.03 1024.59,1084.32 C1022.93,1084.60 1021.26,1084.88 1019.60,1085.14 C1017.94,1085.40 1016.27,1085.65 1014.61,1085.88 C1012.94,1086.12 1011.28,1086.34 1009.61,1086.55 C1007.95,1086.76 1006.28,1086.95 1004.62,1087.13 C1002.95,1087.31 1001.29,1087.47 999.62,1087.62 C997.96,1087.77 996.30,1087.90 994.63,1088.02 C992.97,1088.14 991.30,1088.24 989.64,1088.32 C987.97,1088.40 986.31,1088.46 984.64,1088.50 C982.98,1088.55 981.31,1088.57 979.65,1088.57 C977.99,1088.57 976.32,1088.56 974.66,1088.51 C972.99,1088.47 971.33,1088.41 969.66,1088.32 C968.00,1088.22 966.33,1088.11 964.67,1087.97 C963.00,1087.82 961.34,1087.65 959.68,1087.45 C958.01,1087.25 956.35,1087.02 954.68,1086.75 C953.02,1086.49 951.35,1086.19 949.69,1085.86 C948.02,1085.52 946.36,1085.16 944.69,1084.75 C943.03,1084.34 940.53,1083.62 939.70,1083.40 Z" fill="#e5ae38"/>
<path d="M939.70,1083.40 C940.53,1083.62 943.03,1084.34 944.69,1084.75 C946.36,1085.16 948.02,1085.52 949.69,1085.86 C951.35,1086.19 953.02,1086.49 954.68,1086.75 C956.35,1087.02 958.01,1087.25 959.68,1087.45 C961.34,1087.65 963.00,1087.82 964.67,1087.97 C966.33,1088.11 968.00,1088.22 969.66,1088.32 C971.33,1088.41 972.99,1088.47 974.66,1088.51 C976.32,1088.56 977.99,1088.57 979.65,1088.57 C981.31,1088.57 982.98,1088.55 984.64,1088.50 C986.31,1088.46 987.97,1088.40 989.64,1088.32 C991.30,1088.24 992.97,1088.14 994.63,1088.02 C996.30,1087.90 997.96,1087.77 999.62,1087.62 C1001.29,1087.47 1002.95,1087.31 1004.62,1087.13 C1006.28,1086.95 1007.95,1086.76 1009.61,1086.55 C1011.28,1086.34 1012.94,1086.12 1014.61,1085.88 C1016.27,1085.65 1017.94,1085.40 1019.60,1085.14 C1021.26,1084.88 1022.93,1084.60 1024.59,1084.32 C1026.26,1084.03 1027.92,1083.74 1029.59,1083.43 C1031.25,1083.12 1032.92,1082.80 1034.58,1082.46 C1036.25,1082.13 1037.91,1081.79 1039.58,1081.43 C1041.24,1081.08 1042.90,1080.71 1044.57,1080.34 C1046.23,1079.96 1047.90,1079.58 1049.56,1079.18 C1051.23,1078.78 1052.89,1078.37 1054.56,1077.95 C1056.22,1077.54 1057.89,1077.11 1059.55,1076.67 C1061.21,1076.23 1062.88,1075.78 1064.54,1075.33 C1066.21,1074.87 1067.87,1074.40 1069.54,1073.92 C1071.20,1073.44 1072.87,1072.96 1074.53,1072.46 C1076.20,1071.96 1077.86,1071.46 1079.53,1070.94 C1081.19,1070.43 1082.85,1069.90 1084.52,1069.37 C1086.18,1068.84 1087.85,1068.29 1089.51,1067.75 C1091.18,1067.20 1092.84,1066.64 1094.51,1066.07 C1096.17,1065.51 1097.84,1064.93 1099.50,1064.36 C1101.16,1063.78 1102.83,1063.19 1104.49,1062.60 C1106.16,1062.00 1107.82,1061.40 1109.49,1060.80 C1111.15,1060.19 1112.82,1059.58 1114.48,1058.97 C1116.15,1058.36 1117.81,1057.74 1119.48,1057.12 C1121.14,1056.50 1122.80,1055.87 1124.47,1055.25 C1126.13,1054.62 1127.80,1053.99 1129.46,1053.36 C1131.13,1052.74 1132.79,1052.11 1134.46,1051.48 C1136.12,1050.86 1137.79,1050.23 1139.45,1049.61 C1141.11,1048.99 1142.78,1048.37 1144.44,1047.76 C1146.11,1047.15 1147.77,1046.54 1149.44,1045.94 C1151.10,1045.35 1152.77,1044.75 1154.43,1044.18 C1156.10,1043.60 1157.76,1043.03 1159.43,1042.48 C1161.09,1041.92 1162.75,1041.38 1164.42,1040.86 C1166.08,1040.33 1167.75,1039.83 1169.41,1039.34 C1171.08,1038.86 1172.74,1038.39 1174.41,1037.95 C1176.07,1037.51 1178.57,1036.91 1179.40,1036.70 L1179.40,1134.50 C1178.57,1134.33 1176.07,1133.84 1174.41,1133.52 C1172.74,1133.20 1171.08,1132.89 1169.41,1132.58 C1167.75,1132.27 1166.08,1131.96 1164.42,1131.66 C1162.75,1131.36 1161.09,1131.07 1159.43,1130.78 C1157.76,1130.49 1156.10,1130.21 1154.43,1129.93 C1152.77,1129.65 1151.10,1129.38 1149.44,1129.11 C1147.77,1128.84 1146.11,1128.58 1144.44,1128.32 C1142.78,1128.06 1141.11,1127.81 1139.45,1127.56 C1137.79,1127.32 1136.12,1127.07 1134.46,1126.84 C1132.79,1126.60 1131.13,1126.37 1129.46,1126.15 C1127.80,1125.93 1126.13,1125.71 1124.47,1125.50 C1122.80,1125.29 1121.14,1125.08 1119.48,1124.89 C1117.81,1124.69 1116.15,1124.50 1114.48,1124.31 C1112.82,1124.13 1111.15,1123.95 1109.49,1123.79 C1107.82,1123.62 1106.16,1123.46 1104.49,1123.31 C1102.83,1123.15 1101.16,1123.01 1099.50,1122.88 C1097.84,1122.74 1096.17,1122.61 1094.51,1122.50 C1092.84,1122.38 1091.18,1122.27 1089.51,1122.17 C1087.85,1122.07 1086.18,1121.98 1084.52,1121.90 C1082.85,1121.82 1081.19,1121.75 1079.53,1121.69 C1077.86,1121.64 1076.20,1121.59 1074.53,1121.55 C1072.87,1121.51 1071.20,1121.48 1069.54,1121.47 C1067.87,1121.45 1066.21,1121.44 1064.54,1121.45 C1062.88,1121.45 1061.21,1121.47 1059.55,1121.50 C1057.89,1121.53 1056.22,1121.57 1054.56,1121.62 C1052.89,1121.67 1051.23,1121.73 1049.56,1121.81 C1047.90,1121.88 1046.23,1121.97 1044.57,1122.06 C1042.90,1122.16 1041.24,1122.27 1039.58,1122.39 C1037.91,1122.51 1036.25,1122.65 1034.58,1122.79 C1032.92,1122.94 1031.25,1123.09 1029.59,1123.26 C1027.92,1123.43 1026.26,1123.61 1024.59,1123.79 C1022.93,1123.98 1021.26,1124.19 1019.60,1124.40 C1017.94,1124.61 1016.27,1124.83 1014.61,1125.06 C1012.94,1125.29 1011.28,1125.53 1009.61,1125.78 C1007.95,1126.03 1006.28,1126.29 1004.62,1126.56 C1002.95,1126.83 1001.29,1127.11 999.62,1127.39 C997.96,1127.67 996.30,1127.97 994.63,1128.27 C992.97,1128.56 991.30,1128.87 989.64,1129.18 C987.97,1129.49 986.31,1129.80 984.64,1130.12 C982.98,1130.44 981.31,1130.76 979.65,1131.09 C977.99,1131.41 976.32,1131.74 974.66,1132.07 C972.99,1132.39 971.33,1132.72 969.66,1133.05 C968.00,1133.38 966.33,1133.70 964.67,1134.03 C963.00,1134.35 961.34,1134.67 959.68,1134.98 C958.01,1135.29 956.35,1135.60 954.68,1135.90 C953.02,1136.20 951.35,1136.49 949.69,1136.77 C948.02,1137.05 946.36,1137.32 944.69,1137.57 C943.03,1137.83 940.53,1138.18 939.70,1138.30 Z" fill="#fc4f30"/>
<path d="M939.70,1138.30 C940.53,1138.18 943.03,1137.83 944.69,1137.57 C946.36,1137.32 948.02,1137.05 949.69,1136.77 C951.35,1136.49 953.02,1136.20 954.68,1135.90 C956.35,1135.60 958.01,1135.29 959.68,1134.98 C961.34,1134.67 963.00,1134.35 964.67,1134.03 C966.33,1133.70 968.00,1133.38 969.66,1133.05 C971.33,1132.72 972.99,1132.39 974.66,1132.07 C976.32,1131.74 977.99,1131.41 979.65,1131.09 C981.31,1130.76 982.98,1130.44 984.64,1130.12 C986.31,1129.80 987.97,1129.49 989.64,1129.18 C991.30,1128.87 992.97,1128.56 994.63,1128.27 C996.30,1127.97 997.96,1127.67 999.62,1127.39 C1001.29,1127.11 1002.95,1126.83 1004.62,1126.56 C1006.28,1126.29 1007.95,1126.03 1009.61,1125.78 C1011.28,1125.53 1012.94,1125.29 1014.61,1125.06 C1016.27,1124.83 1017.94,1124.61 1019.60,1124.40 C1021.26,1124.19 1022.93,1123.98 1024.59,1123.79 C1026.26,1123.61 1027.92,1123.43 1029.59,1123.26 C1031.25,1123.09 1032.92,1122.94 1034.58,1122.79 C1036.25,1122.65 1037.91,1122.51 1039.58,1122.39 C1041.24,1122.27 1042.90,1122.16 1044.57,1122.06 C1046.23,1121.97 1047.90,1121.88 1049.56,1121.81 C1051.23,1121.73 1052.89,1121.67 1054.56,1121.62 C1056.22,1121.57 1057.89,1121.53 1059.55,1121.50 C1061.21,1121.47 1062.88,1121.45 1064.54,1121.45 C1066.21,1121.44 1067.87,1121.45 1069.54,1121.47 C1071.20,1121.48 1072.87,1121.51 1074.53,1121.55 C1076.20,1121.59 1077.86,1121.64 1079.53,1121.69 C1081.19,1121.75 1082.85,1121.82 1084.52,1121.90 C1086.18,1121.98 1087.85,1122.07 1089.51,1122.17 C1091.18,1122.27 1092.84,1122.38 1094.51,1122.50 C1096.17,1122.61 1097.84,1122.74 1099.50,1122.88 C1101.16,1123.01 1102.83,1123.15 1104.49,1123.31 C1106.16,1123.46 1107.82,1123.62 1109.49,1123.79 C1111.15,1123.95 1112.82,1124.13 1114.48,1124.31 C1116.15,1124.50 1117.81,1124.69 1119.48,1124.89 C1121.14,1125.08 1122.80,1125.29 1124.47,1125.50 C1126.13,1125.71 1127.80,1125.93 1129.46,1126.15 C1131.13,1126.37 1132.79,1126.60 1134.46,1126.84 C1136.12,1127.07 1137.79,1127.32 1139.45,1127.56 C1141.11,1127.81 1142.78,1128.06 1144.44,1128.32 C1146.11,1128.58 1147.77,1128.84 1149.44,1129.11 C1151.10,1129.38 1152.77,1129.65 1154.43,1129.93 C1156.10,1130.21 1157.76,1130.49 1159.43,1130.78 C1161.09,1131.07 1162.75,1131.36 1164.42,1131.66 C1166.08,1131.96 1167.75,1132.27 1169.41,1132.58 C1171.08,1132.89 1172.74,1133.20 1174.41,1133.52 C1176.07,1133.84 1178.57,1134.33 1179.40,1134.50 L1179.40,1172.00 C1178.57,1171.75 1176.07,1171.02 1174.41,1170.50 C1172.74,1169.98 1171.08,1169.43 1169.41,1168.87 C1167.75,1168.31 1166.08,1167.74 1164.42,1167.16 C1162.75,1166.58 1161.09,1165.98 1159.43,1165.39 C1157.76,1164.80 1156.10,1164.20 1154.43,1163.60 C1152.77,1163.01 1151.10,1162.41 1149.44,1161.82 C1147.77,1161.23 1146.11,1160.64 1144.44,1160.06 C1142.78,1159.49 1141.11,1158.92 1139.45,1158.36 C1137.79,1157.81 1136.12,1157.26 1134.46,1156.73 C1132.79,1156.20 1131.13,1155.68 1129.46,1155.18 C1127.80,1154.68 1126.13,1154.19 1124.47,1153.72 C1122.80,1153.26 1121.14,1152.81 1119.48,1152.38 C1117.81,1151.95 1116.15,1151.54 1114.48,1151.15 C1112.82,1150.76 1111.15,1150.39 1109.49,1150.04 C1107.82,1149.69 1106.16,1149.36 1104.49,1149.06 C1102.83,1148.75 1101.16,1148.47 1099.50,1148.21 C1097.84,1147.94 1096.17,1147.70 1094.51,1147.48 C1092.84,1147.26 1091.18,1147.07 1089.51,1146.89 C1087.85,1146.71 1086.18,1146.56 1084.52,1146.42 C1082.85,1146.29 1081.19,1146.18 1079.53,1146.09 C1077.86,1145.99 1076.20,1145.92 1074.53,1145.87 C1072.87,1145.82 1071.20,1145.78 1069.54,1145.77 C1067.87,1145.76 1066.21,1145.76 1064.54,1145.79 C1062.88,1145.81 1061.21,1145.85 1059.55,1145.91 C1057.89,1145.97 1056.22,1146.05 1054.56,1146.14 C1052.89,1146.23 1051.23,1146.34 1049.56,1146.46 C1047.90,1146.59 1046.23,1146.73 1044.57,1146.89 C1042.90,1147.04 1041.24,1147.21 1039.58,1147.39 C1037.91,1147.58 1036.25,1147.78 1034.58,1147.99 C1032.92,1148.20 1031.25,1148.43 1029.59,1148.66 C1027.92,1148.90 1026.26,1149.15 1024.59,1149.42 C1022.93,1149.68 1021.26,1149.96 1019.60,1150.25 C1017.94,1150.54 1016.27,1150.84 1014.61,1151.16 C1012.94,1151.47 1011.28,1151.80 1009.61,1152.14 C1007.95,1152.49 1006.28,1152.84 1004.62,1153.21 C1002.95,1153.58 1001.29,1153.96 999.62,1154.36 C997.96,1154.76 996.30,1155.17 994.63,1155.60 C992.97,1156.03 991.30,1156.47 989.64,1156.93 C987.97,1157.40 986.31,1157.88 984.64,1158.38 C982.98,1158.88 981.31,1159.40 979.65,1159.94 C977.99,1160.49 976.32,1161.05 974.66,1161.64 C972.99,1162.23 971.33,1162.85 969.66,1163.50 C968.00,1164.14 966.33,1164.81 964.67,1165.52 C963.00,1166.23 961.34,1166.97 959.68,1167.74 C958.01,1168.52 956.35,1169.33 954.68,1170.19 C953.02,1171.05 951.35,1171.94 949.69,1172.89 C948.02,1173.84 946.36,1174.83 944.69,1175.88 C943.03,1176.93 940.53,1178.64 939.70,1179.19 Z" fill="#d62728"/>
<path d="M939.70,1179.19 C940.53,1178.64 943.03,1176.93 944.69,1175.88 C946.36,1174.83 948.02,1173.84 949.69,1172.89 C951.35,1171.94 953.02,1171.05 954.68,1170.19 C956.35,1169.33 958.01,1168.52 959.68,1167.74 C961.34,1166.97 963.00,1166.23 964.67,1165.52 C966.33,1164.81 968.00,1164.14 969.66,1163.50 C971.33,1162.85 972.99,1162.23 974.66,1161.64 C976.32,1161.05 977.99,1160.49 979.65,1159.94 C981.31,1159.40 982.98,1158.88 984.64,1158.38 C986.31,1157.88 987.97,1157.40 989.64,1156.93 C991.30,1156.47 992.97,1156.03 994.63,1155.60 C996.30,1155.17 997.96,1154.76 999.62,1154.36 C1001.29,1153.96 1002.95,1153.58 1004.62,1153.21 C1006.28,1152.84 1007.95,1152.49 1009.61,1152.14 C1011.28,1151.80 1012.94,1151.47 1014.61,1151.16 C1016.27,1150.84 1017.94,1150.54 1019.60,1150.25 C1021.26,1149.96 1022.93,1149.68 1024.59,1149.42 C1026.26,1149.15 1027.92,1148.90 1029.59,1148.66 C1031.25,1148.43 1032.92,1148.20 1034.58,1147.99 C1036.25,1147.78 1037.91,1147.58 1039.58,1147.39 C1041.24,1147.21 1042.90,1147.04 1044.57,1146.89 C1046.23,1146.73 1047.90,1146.59 1049.56,1146.46 C1051.23,1146.34 1052.89,1146.23 1054.56,1146.14 C1056.22,1146.05 1057.89,1145.97 1059.55,1145.91 C1061.21,1145.85 1062.88,1145.81 1064.54,1145.79 C1066.21,1145.76 1067.87,1145.76 1069.54,1145.77 C1071.20,1145.78 1072.87,1145.82 1074.53,1145.87 C1076.20,1145.92 1077.86,1145.99 1079.53,1146.09 C1081.19,1146.18 1082.85,1146.29 1084.52,1146.42 C1086.18,1146.56 1087.85,1146.71 1089.51,1146.89 C1091.18,1147.07 1092.84,1147.26 1094.51,1147.48 C1096.17,1147.70 1097.84,1147.94 1099.50,1148.21 C1101.16,1148.47 1102.83,1148.75 1104.49,1149.06 C1106.16,1149.36 1107.82,1149.69 1109.49,1150.04 C1111.15,1150.39 1112.82,1150.76 1114.48,1151.15 C1116.15,1151.54 1117.81,1151.95 1119.48,1152.38 C1121.14,1152.81 1122.80,1153.26 1124.47,1153.72 C1126.13,1154.19 1127.80,1154.68 1129.46,1155.18 C1131.13,1155.68 1132.79,1156.20 1134.46,1156.73 C1136.12,1157.26 1137.79,1157.81 1139.45,1158.36 C1141.11,1158.92 1142.78,1159.49 1144.44,1160.06 C1146.11,1160.64 1147.77,1161.23 1149.44,1161.82 C1151.10,1162.41 1152.77,1163.01 1154.43,1163.60 C1156.10,1164.20 1157.76,1164.80 1159.43,1165.39 C1161.09,1165.98 1162.75,1166.58 1164.42,1167.16 C1166.08,1167.74 1167.75,1168.31 1169.41,1168.87 C1171.08,1169.43 1172.74,1169.98 1174.41,1170.50 C1176.07,1171.02 1178.57,1171.75 1179.40,1172.00 L1179.40,1179.20 C1139.45,1179.20 979.65,1179.20 939.70,1179.20 Z" fill="#184a66"/>
<path d="M939.70,940.47 C940.53,941.35 943.03,944.04 944.69,945.78 C946.36,947.51 948.02,949.21 949.69,950.87 C951.35,952.52 953.02,954.14 954.68,955.72 C956.35,957.30 958.01,958.83 959.68,960.32 C961.34,961.81 963.00,963.26 964.67,964.66 C966.33,966.06 968.00,967.41 969.66,968.72 C971.33,970.02 972.99,971.28 974.66,972.49 C976.32,973.69 977.99,974.85 979.65,975.96 C981.31,977.07 982.98,978.12 984.64,979.13 C986.31,980.14 987.97,981.09 989.64,982.00 C991.30,982.90 992.97,983.75 994.63,984.56 C996.30,985.36 997.96,986.11 999.62,986.82 C1001.29,987.52 1002.95,988.17 1004.62,988.77 C1006.28,989.37 1007.95,989.92 1009.61,990.43 C1011.28,990.93 1012.94,991.39 1014.61,991.79 C1016.27,992.20 1017.94,992.56 1019.60,992.88 C1021.26,993.19 1022.93,993.46 1024.59,993.68 C1026.26,993.90 1027.92,994.08 1029.59,994.22 C1031.25,994.35 1032.92,994.44 1034.58,994.49 C1036.25,994.55 1037.91,994.56 1039.58,994.53 C1041.24,994.50 1042.90,994.43 1044.57,994.33 C1046.23,994.22 1047.90,994.08 1049.56,993.90 C1051.23,993.73 1052.89,993.51 1054.56,993.27 C1056.22,993.02 1057.89,992.74 1059.55,992.44 C1061.21,992.13 1062.88,991.79 1064.54,991.42 C1066.21,991.06 1067.87,990.66 1069.54,990.24 C1071.20,989.82 1072.87,989.37 1074.53,988.90 C1076.20,988.43 1077.86,987.93 1079.53,987.42 C1081.19,986.90 1082.85,986.36 1084.52,985.80 C1086.18,985.24 1087.85,984.66 1089.51,984.07 C1091.18,983.47 1092.84,982.86 1094.51,982.23 C1096.17,981.60 1097.84,980.95 1099.50,980.29 C1101.16,979.63 1102.83,978.95 1104.49,978.27 C1106.16,977.58 1107.82,976.88 1109.49,976.17 C1111.15,975.45 1112.82,974.73 1114.48,974.00 C1116.15,973.26 1117.81,972.52 1119.48,971.77 C1121.14,971.01 1122.80,970.25 1124.47,969.48 C1126.13,968.71 1127.80,967.93 1129.46,967.14 C1131.13,966.35 1132.79,965.56 1134.46,964.75 C1136.12,963.95 1137.79,963.14 1139.45,962.32 C1141.11,961.50 1142.78,960.67 1144.44,959.83 C1146.11,958.99 1147.77,958.15 1149.44,957.29 C1151.10,956.43 1152.77,955.57 1154.43,954.69 C1156.10,953.81 1157.76,952.93 1159.43,952.03 C1161.09,951.13 1162.75,950.21 1164.42,949.29 C1166.08,948.36 1167.75,947.42 1169.41,946.46 C1171.08,945.50 1172.74,944.53 1174.41,943.53 C1176.07,942.53 1178.57,940.99 1179.40,940.48" fill="none" stroke="#000" stroke-width="2.8" stroke-linejoin="round"/>
<path d="M939.70,940.47 C940.53,941.43 943.03,944.33 944.69,946.20 C946.36,948.06 948.02,949.88 949.69,951.65 C951.35,953.42 953.02,955.14 954.68,956.82 C956.35,958.49 958.01,960.12 959.68,961.69 C961.34,963.27 963.00,964.80 964.67,966.28 C966.33,967.76 968.00,969.19 969.66,970.56 C971.33,971.94 972.99,973.27 974.66,974.55 C976.32,975.83 977.99,977.06 979.65,978.23 C981.31,979.41 982.98,980.54 984.64,981.62 C986.31,982.70 987.97,983.72 989.64,984.70 C991.30,985.68 992.97,986.61 994.63,987.50 C996.30,988.38 997.96,989.21 999.62,990.00 C1001.29,990.79 1002.95,991.53 1004.62,992.22 C1006.28,992.92 1007.95,993.56 1009.61,994.17 C1011.28,994.77 1012.94,995.33 1014.61,995.84 C1016.27,996.36 1017.94,996.83 1019.60,997.26 C1021.26,997.69 1022.93,998.07 1024.59,998.42 C1026.26,998.77 1027.92,999.07 1029.59,999.34 C1031.25,999.61 1032.92,999.84 1034.58,1000.03 C1036.25,1000.22 1037.91,1000.37 1039.58,1000.49 C1041.24,1000.61 1042.90,1000.69 1044.57,1000.74 C1046.23,1000.79 1047.90,1000.80 1049.56,1000.78 C1051.23,1000.76 1052.89,1000.71 1054.56,1000.63 C1056.22,1000.54 1057.89,1000.43 1059.55,1000.28 C1061.21,1000.14 1062.88,999.97 1064.54,999.76 C1066.21,999.56 1067.87,999.33 1069.54,999.07 C1071.20,998.81 1072.87,998.53 1074.53,998.22 C1076.20,997.90 1077.86,997.57 1079.53,997.20 C1081.19,996.84 1082.85,996.45 1084.52,996.04 C1086.18,995.62 1087.85,995.18 1089.51,994.72 C1091.18,994.26 1092.84,993.77 1094.51,993.26 C1096.17,992.75 1097.84,992.21 1099.50,991.65 C1101.16,991.09 1102.83,990.51 1104.49,989.90 C1106.16,989.29 1107.82,988.66 1109.49,988.00 C1111.15,987.34 1112.82,986.66 1114.48,985.96 C1116.15,985.25 1117.81,984.52 1119.48,983.76 C1121.14,983.00 1122.80,982.21 1124.47,981.40 C1126.13,980.58 1127.80,979.74 1129.46,978.86 C1131.13,977.99 1132.79,977.09 1134.46,976.15 C1136.12,975.22 1137.79,974.25 1139.45,973.25 C1141.11,972.24 1142.78,971.20 1144.44,970.13 C1146.11,969.05 1147.77,967.94 1149.44,966.78 C1151.10,965.62 1152.77,964.43 1154.43,963.18 C1156.10,961.94 1157.76,960.65 1159.43,959.31 C1161.09,957.97 1162.75,956.58 1164.42,955.14 C1166.08,953.69 1167.75,952.20 1169.41,950.63 C1171.08,949.07 1172.74,947.45 1174.41,945.76 C1176.07,944.07 1178.57,941.37 1179.40,940.49" fill="none" stroke="#000" stroke-width="2.8" stroke-linejoin="round"/>
<path d="M939.70,1083.40 C940.53,1083.62 943.03,1084.34 944.69,1084.75 C946.36,1085.16 948.02,1085.52 949.69,1085.86 C951.35,1086.19 953.02,1086.49 954.68,1086.75 C956.35,1087.02 958.01,1087.25 959.68,1087.45 C961.34,1087.65 963.00,1087.82 964.67,1087.97 C966.33,1088.11 968.00,1088.22 969.66,1088.32 C971.33,1088.41 972.99,1088.47 974.66,1088.51 C976.32,1088.56 977.99,1088.57 979.65,1088.57 C981.31,1088.57 982.98,1088.55 984.64,1088.50 C986.31,1088.46 987.97,1088.40 989.64,1088.32 C991.30,1088.24 992.97,1088.14 994.63,1088.02 C996.30,1087.90 997.96,1087.77 999.62,1087.62 C1001.29,1087.47 1002.95,1087.31 1004.62,1087.13 C1006.28,1086.95 1007.95,1086.76 1009.61,1086.55 C1011.28,1086.34 1012.94,1086.12 1014.61,1085.88 C1016.27,1085.65 1017.94,1085.40 1019.60,1085.14 C1021.26,1084.88 1022.93,1084.60 1024.59,1084.32 C1026.26,1084.03 1027.92,1083.74 1029.59,1083.43 C1031.25,1083.12 1032.92,1082.80 1034.58,1082.46 C1036.25,1082.13 1037.91,1081.79 1039.58,1081.43 C1041.24,1081.08 1042.90,1080.71 1044.57,1080.34 C1046.23,1079.96 1047.90,1079.58 1049.56,1079.18 C1051.23,1078.78 1052.89,1078.37 1054.56,1077.95 C1056.22,1077.54 1057.89,1077.11 1059.55,1076.67 C1061.21,1076.23 1062.88,1075.78 1064.54,1075.33 C1066.21,1074.87 1067.87,1074.40 1069.54,1073.92 C1071.20,1073.44 1072.87,1072.96 1074.53,1072.46 C1076.20,1071.96 1077.86,1071.46 1079.53,1070.94 C1081.19,1070.43 1082.85,1069.90 1084.52,1069.37 C1086.18,1068.84 1087.85,1068.29 1089.51,1067.75 C1091.18,1067.20 1092.84,1066.64 1094.51,1066.07 C1096.17,1065.51 1097.84,1064.93 1099.50,1064.36 C1101.16,1063.78 1102.83,1063.19 1104.49,1062.60 C1106.16,1062.00 1107.82,1061.40 1109.49,1060.80 C1111.15,1060.19 1112.82,1059.58 1114.48,1058.97 C1116.15,1058.36 1117.81,1057.74 1119.48,1057.12 C1121.14,1056.50 1122.80,1055.87 1124.47,1055.25 C1126.13,1054.62 1127.80,1053.99 1129.46,1053.36 C1131.13,1052.74 1132.79,1052.11 1134.46,1051.48 C1136.12,1050.86 1137.79,1050.23 1139.45,1049.61 C1141.11,1048.99 1142.78,1048.37 1144.44,1047.76 C1146.11,1047.15 1147.77,1046.54 1149.44,1045.94 C1151.10,1045.35 1152.77,1044.75 1154.43,1044.18 C1156.10,1043.60 1157.76,1043.03 1159.43,1042.48 C1161.09,1041.92 1162.75,1041.38 1164.42,1040.86 C1166.08,1040.33 1167.75,1039.83 1169.41,1039.34 C1171.08,1038.86 1172.74,1038.39 1174.41,1037.95 C1176.07,1037.51 1178.57,1036.91 1179.40,1036.70" fill="none" stroke="#000" stroke-width="2.8" stroke-linejoin="round"/>
<path d="M939.70,1138.30 C940.53,1138.18 943.03,1137.83 944.69,1137.57 C946.36,1137.32 948.02,1137.05 949.69,1136.77 C951.35,1136.49 953.02,1136.20 954.68,1135.90 C956.35,1135.60 958.01,1135.29 959.68,1134.98 C961.34,1134.67 963.00,1134.35 964.67,1134.03 C966.33,1133.70 968.00,1133.38 969.66,1133.05 C971.33,1132.72 972.99,1132.39 974.66,1132.07 C976.32,1131.74 977.99,1131.41 979.65,1131.09 C981.31,1130.76 982.98,1130.44 984.64,1130.12 C986.31,1129.80 987.97,1129.49 989.64,1129.18 C991.30,1128.87 992.97,1128.56 994.63,1128.27 C996.30,1127.97 997.96,1127.67 999.62,1127.39 C1001.29,1127.11 1002.95,1126.83 1004.62,1126.56 C1006.28,1126.29 1007.95,1126.03 1009.61,1125.78 C1011.28,1125.53 1012.94,1125.29 1014.61,1125.06 C1016.27,1124.83 1017.94,1124.61 1019.60,1124.40 C1021.26,1124.19 1022.93,1123.98 1024.59,1123.79 C1026.26,1123.61 1027.92,1123.43 1029.59,1123.26 C1031.25,1123.09 1032.92,1122.94 1034.58,1122.79 C1036.25,1122.65 1037.91,1122.51 1039.58,1122.39 C1041.24,1122.27 1042.90,1122.16 1044.57,1122.06 C1046.23,1121.97 1047.90,1121.88 1049.56,1121.81 C1051.23,1121.73 1052.89,1121.67 1054.56,1121.62 C1056.22,1121.57 1057.89,1121.53 1059.55,1121.50 C1061.21,1121.47 1062.88,1121.45 1064.54,1121.45 C1066.21,1121.44 1067.87,1121.45 1069.54,1121.47 C1071.20,1121.48 1072.87,1121.51 1074.53,1121.55 C1076.20,1121.59 1077.86,1121.64 1079.53,1121.69 C1081.19,1121.75 1082.85,1121.82 1084.52,1121.90 C1086.18,1121.98 1087.85,1122.07 1089.51,1122.17 C1091.18,1122.27 1092.84,1122.38 1094.51,1122.50 C1096.17,1122.61 1097.84,1122.74 1099.50,1122.88 C1101.16,1123.01 1102.83,1123.15 1104.49,1123.31 C1106.16,1123.46 1107.82,1123.62 1109.49,1123.79 C1111.15,1123.95 1112.82,1124.13 1114.48,1124.31 C1116.15,1124.50 1117.81,1124.69 1119.48,1124.89 C1121.14,1125.08 1122.80,1125.29 1124.47,1125.50 C1126.13,1125.71 1127.80,1125.93 1129.46,1126.15 C1131.13,1126.37 1132.79,1126.60 1134.46,1126.84 C1136.12,1127.07 1137.79,1127.32 1139.45,1127.56 C1141.11,1127.81 1142.78,1128.06 1144.44,1128.32 C1146.11,1128.58 1147.77,1128.84 1149.44,1129.11 C1151.10,1129.38 1152.77,1129.65 1154.43,1129.93 C1156.10,1130.21 1157.76,1130.49 1159.43,1130.78 C1161.09,1131.07 1162.75,1131.36 1164.42,1131.66 C1166.08,1131.96 1167.75,1132.27 1169.41,1132.58 C1171.08,1132.89 1172.74,1133.20 1174.41,1133.52 C1176.07,1133.84 1178.57,1134.33 1179.40,1134.50" fill="none" stroke="#000" stroke-width="2.8" stroke-linejoin="round"/>
<path d="M939.70,1179.19 C940.53,1178.64 943.03,1176.93 944.69,1175.88 C946.36,1174.83 948.02,1173.84 949.69,1172.89 C951.35,1171.94 953.02,1171.05 954.68,1170.19 C956.35,1169.33 958.01,1168.52 959.68,1167.74 C961.34,1166.97 963.00,1166.23 964.67,1165.52 C966.33,1164.81 968.00,1164.14 969.66,1163.50 C971.33,1162.85 972.99,1162.23 974.66,1161.64 C976.32,1161.05 977.99,1160.49 979.65,1159.94 C981.31,1159.40 982.98,1158.88 984.64,1158.38 C986.31,1157.88 987.97,1157.40 989.64,1156.93 C991.30,1156.47 992.97,1156.03 994.63,1155.60 C996.30,1155.17 997.96,1154.76 999.62,1154.36 C1001.29,1153.96 1002.95,1153.58 1004.62,1153.21 C1006.28,1152.84 1007.95,1152.49 1009.61,1152.14 C1011.28,1151.80 1012.94,1151.47 1014.61,1151.16 C1016.27,1150.84 1017.94,1150.54 1019.60,1150.25 C1021.26,1149.96 1022.93,1149.68 1024.59,1149.42 C1026.26,1149.15 1027.92,1148.90 1029.59,1148.66 C1031.25,1148.43 1032.92,1148.20 1034.58,1147.99 C1036.25,1147.78 1037.91,1147.58 1039.58,1147.39 C1041.24,1147.21 1042.90,1147.04 1044.57,1146.89 C1046.23,1146.73 1047.90,1146.59 1049.56,1146.46 C1051.23,1146.34 1052.89,1146.23 1054.56,1146.14 C1056.22,1146.05 1057.89,1145.97 1059.55,1145.91 C1061.21,1145.85 1062.88,1145.81 1064.54,1145.79 C1066.21,1145.76 1067.87,1145.76 1069.54,1145.77 C1071.20,1145.78 1072.87,1145.82 1074.53,1145.87 C1076.20,1145.92 1077.86,1145.99 1079.53,1146.09 C1081.19,1146.18 1082.85,1146.29 1084.52,1146.42 C1086.18,1146.56 1087.85,1146.71 1089.51,1146.89 C1091.18,1147.07 1092.84,1147.26 1094.51,1147.48 C1096.17,1147.70 1097.84,1147.94 1099.50,1148.21 C1101.16,1148.47 1102.83,1148.75 1104.49,1149.06 C1106.16,1149.36 1107.82,1149.69 1109.49,1150.04 C1111.15,1150.39 1112.82,1150.76 1114.48,1151.15 C1116.15,1151.54 1117.81,1151.95 1119.48,1152.38 C1121.14,1152.81 1122.80,1153.26 1124.47,1153.72 C1126.13,1154.19 1127.80,1154.68 1129.46,1155.18 C1131.13,1155.68 1132.79,1156.20 1134.46,1156.73 C1136.12,1157.26 1137.79,1157.81 1139.45,1158.36 C1141.11,1158.92 1142.78,1159.49 1144.44,1160.06 C1146.11,1160.64 1147.77,1161.23 1149.44,1161.82 C1151.10,1162.41 1152.77,1163.01 1154.43,1163.60 C1156.10,1164.20 1157.76,1164.80 1159.43,1165.39 C1161.09,1165.98 1162.75,1166.58 1164.42,1167.16 C1166.08,1167.74 1167.75,1168.31 1169.41,1168.87 C1171.08,1169.43 1172.74,1169.98 1174.41,1170.50 C1176.07,1171.02 1178.57,1171.75 1179.40,1172.00" fill="none" stroke="#000" stroke-width="2.8" stroke-linejoin="round"/>
<rect x="939.7" y="940.5" width="239.70000000000005" height="238.70000000000005" fill="none" stroke="#000" stroke-width="2.6"/>
<line x1="939.7" y1="1179.2" x2="939.7" y2="1190" stroke="#000" stroke-width="2.4"/>
<line x1="1019.6" y1="1179.2" x2="1019.6" y2="1190" stroke="#000" stroke-width="2.4"/>
<line x1="1099.5" y1="1179.2" x2="1099.5" y2="1190" stroke="#000" stroke-width="2.4"/>
<line x1="1179.4" y1="1179.2" x2="1179.4" y2="1190" stroke="#000" stroke-width="2.4"/>
<line x1="928.5" y1="940.5" x2="939.7" y2="940.5" stroke="#000" stroke-width="2.4"/>
<line x1="928.5" y1="1179.2" x2="939.7" y2="1179.2" stroke="#000" stroke-width="2.4"/>
<text transform="translate(898.70,953.30) scale(0.8868,1)" font-size="34" fill="#000">1</text>
<text transform="translate(897.52,1192.00) scale(0.9660,1)" font-size="34" fill="#000">0</text>
<text transform="translate(929.61,1227.00) scale(1.0460,1)" font-size="34" fill="#000">0</text>
<text transform="translate(992.06,1227.00) scale(1.1348,1)" font-size="34" fill="#000">1/3</text>
<text transform="translate(1073.10,1227.00) scale(1.1121,1)" font-size="34" fill="#000">2/3</text>
<text transform="translate(1171.17,1226.50) scale(0.9005,1)" font-size="34" fill="#000">1</text>
<text transform="translate(973.45,1271.70) scale(1.0033,1)" font-size="34" fill="#000">Stable FST</text>
<text transform="translate(838.50,1165.96) rotate(-90) scale(1.0629,1)" font-size="34" fill="#000">Frequency of</text>
<text transform="translate(875.50,1184.57) rotate(-90) scale(1.0992,1)" font-size="34" fill="#000">trajectory class</text>
<path d="M708.50,962.00 C708.38,965.00 708.12,974.67 707.80,980.00 C707.48,985.33 707.15,990.00 706.60,994.00 C706.05,998.00 705.52,1000.92 704.50,1004.00 C703.48,1007.08 701.92,1009.92 700.50,1012.50 C699.08,1015.08 697.22,1017.33 696.00,1019.50 C694.78,1021.67 693.82,1023.58 693.20,1025.50 C692.58,1027.42 692.33,1029.08 692.30,1031.00 C692.27,1032.92 692.63,1034.83 693.00,1037.00 C693.37,1039.17 694.00,1041.00 694.50,1044.00 C695.00,1047.00 695.67,1049.83 696.00,1055.00 C696.33,1060.17 696.50,1069.17 696.50,1075.00 C696.50,1080.83 696.42,1085.33 696.00,1090.00 C695.58,1094.67 694.92,1098.67 694.00,1103.00 C693.08,1107.33 691.92,1111.83 690.50,1116.00 C689.08,1120.17 687.58,1124.17 685.50,1128.00 C683.42,1131.83 680.92,1135.67 678.00,1139.00 C675.08,1142.33 671.83,1145.33 668.00,1148.00 C664.17,1150.67 660.50,1152.92 655.00,1155.00 C649.50,1157.08 642.50,1158.92 635.00,1160.50 C627.50,1162.08 618.33,1163.17 610.00,1164.50 C601.67,1165.83 591.67,1167.25 585.00,1168.50 C578.33,1169.75 573.33,1170.92 570.00,1172.00 C566.67,1173.08 565.00,1173.97 565.00,1175.00 C565.00,1176.03 566.67,1177.48 570.00,1178.20 C573.33,1178.92 561.92,1179.12 585.00,1179.30 C608.08,1179.48 687.92,1179.30 708.50,1179.30 Z" fill="#d684bd" stroke="#000" stroke-width="2.8" stroke-linejoin="round"/>
<clipPath id="vclip"><rect x="500" y="940.3" width="300" height="260"/></clipPath>
<path d="M708.5,934 L714,934 L714.00,940.30 C714.38,941.75 715.55,945.72 716.30,949.00 C717.05,952.28 717.88,955.67 718.50,960.00 C719.12,964.33 719.25,970.00 720.00,975.00 C720.75,980.00 721.67,985.50 723.00,990.00 C724.33,994.50 726.00,998.33 728.00,1002.00 C730.00,1005.67 732.75,1008.83 735.00,1012.00 C737.25,1015.17 739.92,1017.83 741.50,1021.00 C743.08,1024.17 744.25,1027.83 744.50,1031.00 C744.75,1034.17 743.78,1036.50 743.00,1040.00 C742.22,1043.50 740.80,1047.83 739.80,1052.00 C738.80,1056.17 737.72,1060.67 737.00,1065.00 C736.28,1069.33 735.78,1073.83 735.50,1078.00 C735.22,1082.17 735.25,1086.00 735.30,1090.00 C735.35,1094.00 735.43,1097.67 735.80,1102.00 C736.17,1106.33 736.72,1111.33 737.50,1116.00 C738.28,1120.67 739.25,1125.50 740.50,1130.00 C741.75,1134.50 743.58,1139.17 745.00,1143.00 C746.42,1146.83 748.25,1150.17 749.00,1153.00 C749.75,1155.83 750.00,1157.67 749.50,1160.00 C749.00,1162.33 747.58,1164.83 746.00,1167.00 C744.42,1169.17 742.17,1170.95 740.00,1173.00 C737.83,1175.05 738.25,1178.25 733.00,1179.30 C727.75,1180.35 712.58,1179.30 708.50,1179.30 Z" fill="#555555" stroke="#000" stroke-width="2.8" stroke-linejoin="round" clip-path="url(#vclip)"/>
<line x1="691" y1="1123.2" x2="708.5" y2="1123.2" stroke="#000" stroke-width="2.5" stroke-dasharray="2.8,3.45"/>
<line x1="613" y1="1167.5" x2="708.5" y2="1167.5" stroke="#000" stroke-width="2.5" stroke-dasharray="6.5,3.5"/>
<line x1="572" y1="1178.3" x2="708.5" y2="1178.3" stroke="#000" stroke-width="2.5" stroke-dasharray="2.8,3.45"/>
<line x1="708.5" y1="1031.9" x2="744" y2="1031.9" stroke="#000" stroke-width="2.5" stroke-dasharray="2.8,3.45"/>
<line x1="708.5" y1="1087.4" x2="735.5" y2="1087.4" stroke="#000" stroke-width="2.5" stroke-dasharray="6.5,3.5"/>
<line x1="708.5" y1="1144.1" x2="742" y2="1144.1" stroke="#000" stroke-width="2.5" stroke-dasharray="2.8,3.45"/>
<line x1="708.5" y1="939.5" x2="708.5" y2="1180.5" stroke="#000" stroke-width="2.6"/>
<line x1="529.0" y1="939.3" x2="529.0" y2="1181.0" stroke="#000" stroke-width="2.4"/>
<line x1="518" y1="1180.0" x2="769.6" y2="1180.0" stroke="#000" stroke-width="2.4"/>
<line x1="518" y1="1028.6" x2="529.0" y2="1028.6" stroke="#000" stroke-width="2.4"/>
<text transform="translate(487.63,1041.00) scale(0.9141,1)" font-size="34" fill="#000">1</text>
<text transform="translate(487.43,1192.00) scale(0.9537,1)" font-size="34" fill="#000">0</text>
<text transform="translate(429.00,1176.80) rotate(-90) scale(1.1048,1)" font-size="34" fill="#000">Uncertainty of</text>
<text transform="translate(466.80,1213.47) rotate(-90) scale(1.0987,1)" font-size="34" fill="#000">target choice (bits)</text>
<line x1="667.9" y1="920" x2="754.6" y2="920" stroke="#000" stroke-width="3.3"/>
<text transform="translate(688.64,919.50) scale(1.1827,1)" font-size="31.5" font-weight="bold" fill="#000">***</text>
<rect x="517.5" y="1207.5" width="23" height="22.5" fill="#d684bd" stroke="#444" stroke-width="1"/>
<rect x="517.5" y="1245.5" width="23" height="22.5" fill="#555555" stroke="#444" stroke-width="1"/>
<text transform="translate(567.83,1229.50) scale(1.1118,1)" font-size="34" fill="#000">With invite</text>
<text transform="translate(567.83,1267.50) scale(1.1152,1)" font-size="34" fill="#000">Without invite</text>
<path d="M462.95,488.58 L471.72,491.83 L480.48,494.93 L489.25,497.87 L498.01,500.66 L506.78,503.30 L515.55,505.78 L524.31,508.11 L533.08,510.28 L541.84,512.30 L550.61,514.16 L559.38,515.87 L568.14,517.43 L576.91,518.83 L585.67,520.08 L594.44,521.17 L603.21,522.11 L611.97,522.89 L620.74,523.52 L629.50,524.00 L638.27,524.32 L647.04,524.49 L655.80,524.50 L664.57,524.36 L673.33,524.06 L682.10,523.61 L690.87,523.01 L699.63,522.25 L708.40,521.34 L717.16,520.27 L725.93,519.05 L734.70,517.67 L743.46,516.14 L752.23,514.46 L760.99,512.62 L769.76,510.63 L778.53,508.48 L787.29,506.18 L796.06,503.72 L804.82,501.11 L813.59,498.35 L822.36,495.43 L823.82,494.93" fill="none" stroke="#fbfbfb" stroke-width="7.0"/><polygon points="838.38,489.67 826.66,501.34 821.91,488.17" fill="#fbfbfb" stroke="#fbfbfb" stroke-width="3.2" stroke-linejoin="round"/>
<path d="M741.12,635.87 L736.32,630.30 L731.48,624.83 L726.57,619.45 L721.61,614.17 L716.60,608.99 L711.53,603.91 L706.41,598.93 L701.23,594.04 L696.00,589.25 L690.71,584.55 L685.37,579.96 L679.97,575.46 L674.52,571.05 L669.02,566.75 L663.46,562.54 L657.84,558.43 L652.17,554.41 L646.45,550.50 L640.67,546.68 L634.83,542.95 L628.94,539.33 L623.00,535.80 L617.00,532.37 L610.95,529.03 L604.84,525.80 L598.68,522.66 L592.46,519.61 L586.19,516.67 L579.86,513.82 L573.48,511.07 L567.05,508.41 L560.56,505.86 L554.01,503.40 L547.41,501.03 L540.75,498.77 L534.05,496.60 L527.28,494.53 L520.46,492.55 L513.59,490.68 L506.66,488.90 L499.68,487.21 L492.64,485.63 L485.55,484.14 L482.95,483.62" fill="none" stroke="#f8f8f8" stroke-width="7.0"/><polygon points="468.16,480.96 483.70,476.64 481.22,490.42" fill="#f8f8f8" stroke="#f8f8f8" stroke-width="3.2" stroke-linejoin="round"/>
<path d="M845.83,496.63 L843.33,498.89 L840.86,501.18 L838.43,503.49 L836.03,505.82 L833.67,508.18 L831.35,510.55 L829.07,512.95 L826.82,515.37 L824.60,517.81 L822.43,520.27 L820.29,522.75 L818.19,525.26 L816.12,527.78 L814.09,530.33 L812.10,532.90 L810.14,535.50 L808.23,538.11 L806.34,540.75 L804.50,543.40 L802.69,546.08 L800.92,548.79 L799.18,551.51 L797.48,554.25 L795.82,557.02 L794.19,559.81 L792.60,562.62 L791.05,565.45 L789.53,568.30 L788.05,571.18 L786.61,574.08 L785.20,576.99 L783.83,579.94 L782.50,582.90 L781.20,585.88 L779.94,588.89 L778.72,591.92 L777.53,594.96 L776.38,598.04 L775.27,601.13 L774.19,604.24 L773.15,607.38 L772.15,610.54 L771.61,612.30" fill="none" stroke="#f7f7f7" stroke-width="7.0"/><polygon points="767.66,626.94 764.72,610.96 778.24,614.61" fill="#f7f7f7" stroke="#f7f7f7" stroke-width="3.2" stroke-linejoin="round"/>
<path d="M749.10,321.43 L746.65,328.21 L744.32,335.00 L742.10,341.79 L739.99,348.57 L737.98,355.36 L736.09,362.14 L734.31,368.93 L732.63,375.71 L731.06,382.50 L729.61,389.29 L728.26,396.07 L727.02,402.86 L725.90,409.64 L724.88,416.43 L723.97,423.21 L723.17,430.00 L722.48,436.78 L721.90,443.57 L721.43,450.35 L721.07,457.14 L720.82,463.92 L720.67,470.71 L720.64,477.49 L720.72,484.28 L720.90,491.06 L721.20,497.85 L721.60,504.64 L722.12,511.42 L722.74,518.21 L723.48,524.99 L724.32,531.78 L725.27,538.56 L726.33,545.34 L727.50,552.13 L728.78,558.91 L730.17,565.70 L731.67,572.48 L733.28,579.27 L735.00,586.05 L736.83,592.84 L738.77,599.62 L740.81,606.41 L742.97,613.19 L743.17,613.81" fill="none" stroke="#f6f6f6" stroke-width="7.0"/><polygon points="748.20,628.33 736.72,616.57 749.95,611.99" fill="#f6f6f6" stroke="#f6f6f6" stroke-width="3.2" stroke-linejoin="round"/>
<path d="M453.28,501.73 L458.08,507.30 L462.92,512.77 L467.83,518.15 L472.79,523.43 L477.80,528.61 L482.87,533.69 L487.99,538.67 L493.17,543.56 L498.40,548.35 L503.69,553.05 L509.03,557.64 L514.43,562.14 L519.88,566.55 L525.38,570.85 L530.94,575.06 L536.56,579.17 L542.23,583.19 L547.95,587.10 L553.73,590.92 L559.57,594.65 L565.46,598.27 L571.40,601.80 L577.40,605.23 L583.45,608.57 L589.56,611.80 L595.72,614.94 L601.94,617.99 L608.21,620.93 L614.54,623.78 L620.92,626.53 L627.35,629.19 L633.84,631.74 L640.39,634.20 L646.99,636.57 L653.65,638.83 L660.35,641.00 L667.12,643.07 L673.94,645.05 L680.81,646.92 L687.74,648.70 L694.72,650.39 L701.76,651.97 L708.85,653.46 L711.45,653.98" fill="none" stroke="#f6f6f6" stroke-width="7.0"/><polygon points="726.24,656.64 710.70,660.96 713.18,647.18" fill="#f6f6f6" stroke="#f6f6f6" stroke-width="3.2" stroke-linejoin="round"/>
<path d="M547.31,323.37 L548.96,332.39 L550.73,341.34 L552.63,350.20 L554.66,358.99 L556.82,367.70 L559.11,376.34 L561.53,384.89 L564.08,393.37 L566.77,401.78 L569.58,410.10 L572.52,418.35 L575.60,426.52 L578.80,434.62 L582.13,442.64 L585.60,450.58 L589.19,458.44 L592.92,466.23 L596.77,473.94 L600.76,481.57 L604.87,489.13 L609.12,496.61 L613.49,504.01 L618.00,511.33 L622.64,518.58 L627.40,525.75 L632.30,532.85 L637.33,539.86 L642.49,546.80 L647.77,553.67 L653.19,560.45 L658.74,567.16 L664.42,573.79 L670.23,580.35 L676.17,586.83 L682.24,593.23 L688.44,599.55 L694.77,605.80 L701.23,611.97 L707.82,618.06 L714.54,624.08 L721.39,630.01" fill="none" stroke="#f5f5f5" stroke-width="7.0"/><polygon points="733.06,639.68 717.31,635.72 726.24,624.94" fill="#f5f5f5" stroke="#f5f5f5" stroke-width="3.2" stroke-linejoin="round"/>
<path d="M568.32,641.66 L575.44,635.88 L582.42,630.02 L589.27,624.08 L596.00,618.07 L602.59,611.97 L609.05,605.80 L615.38,599.56 L621.59,593.23 L627.66,586.83 L633.60,580.36 L639.41,573.80 L645.09,567.17 L650.64,560.46 L656.06,553.68 L661.35,546.81 L666.51,539.87 L671.54,532.86 L676.44,525.76 L681.21,518.59 L685.85,511.35 L690.36,504.02 L694.73,496.62 L698.98,489.14 L703.10,481.58 L707.09,473.95 L710.94,466.24 L714.67,458.45 L718.27,450.59 L721.73,442.65 L725.07,434.63 L728.27,426.53 L731.35,418.36 L734.29,410.11 L737.11,401.78 L739.79,393.38 L742.35,384.90 L744.77,376.34 L747.06,367.71 L749.23,359.00 L751.26,350.21 L753.16,341.34" fill="none" stroke="#f4f4f4" stroke-width="7.0"/><polygon points="756.01,326.46 760.13,342.17 746.38,339.53" fill="#f4f4f4" stroke="#f4f4f4" stroke-width="3.2" stroke-linejoin="round"/>
<path d="M536.80,629.24 L536.02,625.96 L535.19,622.70 L534.34,619.46 L533.44,616.24 L532.51,613.05 L531.54,609.87 L530.54,606.72 L529.50,603.59 L528.42,600.48 L527.31,597.40 L526.16,594.33 L524.97,591.29 L523.75,588.27 L522.49,585.27 L521.19,582.29 L519.86,579.33 L518.49,576.40 L517.08,573.48 L515.63,570.59 L514.15,567.72 L512.64,564.87 L511.08,562.05 L509.49,559.24 L507.87,556.46 L506.20,553.70 L504.50,550.96 L502.77,548.24 L500.99,545.54 L499.18,542.87 L497.34,540.21 L495.45,537.58 L493.53,534.97 L491.58,532.38 L489.59,529.81 L487.56,527.27 L485.49,524.75 L483.39,522.24 L481.25,519.76 L479.07,517.31 L476.86,514.87 L474.61,512.45 L472.32,510.06 L471.29,509.00" fill="none" stroke="#f4f4f4" stroke-width="7.0"/><polygon points="460.39,498.52 475.78,503.61 466.08,513.70" fill="#f4f4f4" stroke="#f4f4f4" stroke-width="3.2" stroke-linejoin="round"/>
<path d="M773.60,631.07 L776.05,624.29 L778.38,617.50 L780.60,610.71 L782.71,603.93 L784.72,597.14 L786.61,590.36 L788.39,583.57 L790.07,576.79 L791.64,570.00 L793.09,563.21 L794.44,556.43 L795.68,549.64 L796.80,542.86 L797.82,536.07 L798.73,529.29 L799.53,522.50 L800.22,515.72 L800.80,508.93 L801.27,502.15 L801.63,495.36 L801.88,488.58 L802.03,481.79 L802.06,475.01 L801.98,468.22 L801.80,461.44 L801.50,454.65 L801.10,447.86 L800.58,441.08 L799.96,434.29 L799.22,427.51 L798.38,420.72 L797.43,413.94 L796.37,407.16 L795.20,400.37 L793.92,393.59 L792.53,386.80 L791.03,380.02 L789.42,373.23 L787.70,366.45 L785.87,359.66 L783.93,352.88 L781.89,346.09 L779.73,339.31 L779.53,338.69" fill="none" stroke="#f3f3f3" stroke-width="7.0"/><polygon points="774.50,324.17 785.98,335.93 772.75,340.51" fill="#f3f3f3" stroke="#f3f3f3" stroke-width="3.2" stroke-linejoin="round"/>
<path d="M438.60,508.36 L439.38,511.64 L440.21,514.90 L441.06,518.14 L441.96,521.36 L442.89,524.55 L443.86,527.73 L444.86,530.88 L445.90,534.01 L446.98,537.12 L448.09,540.20 L449.24,543.27 L450.43,546.31 L451.65,549.33 L452.91,552.33 L454.21,555.31 L455.54,558.27 L456.91,561.20 L458.32,564.12 L459.77,567.01 L461.25,569.88 L462.76,572.73 L464.32,575.55 L465.91,578.36 L467.53,581.14 L469.20,583.90 L470.90,586.64 L472.63,589.36 L474.41,592.06 L476.22,594.73 L478.06,597.39 L479.95,600.02 L481.87,602.63 L483.82,605.22 L485.81,607.79 L487.84,610.33 L489.91,612.85 L492.01,615.36 L494.15,617.84 L496.33,620.29 L498.54,622.73 L500.79,625.15 L503.08,627.54 L504.11,628.60" fill="none" stroke="#f3f3f3" stroke-width="7.0"/><polygon points="515.01,639.08 499.62,633.99 509.32,623.90" fill="#f3f3f3" stroke="#f3f3f3" stroke-width="3.2" stroke-linejoin="round"/>
<path d="M554.63,631.08 L557.08,624.30 L559.41,617.51 L561.64,610.73 L563.76,603.95 L565.77,597.16 L567.67,590.38 L569.46,583.59 L571.14,576.81 L572.71,570.03 L574.17,563.24 L575.52,556.46 L576.77,549.67 L577.90,542.89 L578.92,536.10 L579.84,529.32 L580.64,522.53 L581.34,515.75 L581.92,508.96 L582.40,502.18 L582.77,495.39 L583.02,488.61 L583.17,481.82 L583.21,475.04 L583.14,468.25 L582.96,461.47 L582.67,454.68 L582.27,447.90 L581.76,441.11 L581.14,434.33 L580.41,427.54 L579.58,420.76 L578.63,413.97 L577.57,407.18 L576.41,400.40 L575.13,393.61 L573.75,386.83 L572.25,380.04 L570.65,373.25 L568.94,366.47 L567.12,359.68 L565.18,352.90 L563.14,346.11 L560.99,339.32 L560.79,338.71" fill="none" stroke="#f1f1f1" stroke-width="7.0"/><polygon points="555.77,324.18 567.24,335.95 554.01,340.52" fill="#f1f1f1" stroke="#f1f1f1" stroke-width="3.2" stroke-linejoin="round"/>
<path d="M735.38,310.84 L728.26,316.62 L721.28,322.48 L714.43,328.42 L707.70,334.43 L701.11,340.53 L694.65,346.70 L688.32,352.94 L682.11,359.27 L676.04,365.67 L670.10,372.14 L664.29,378.70 L658.61,385.33 L653.06,392.04 L647.64,398.82 L642.35,405.69 L637.19,412.63 L632.16,419.64 L627.26,426.74 L622.49,433.91 L617.85,441.15 L613.34,448.48 L608.97,455.88 L604.72,463.36 L600.60,470.92 L596.61,478.55 L592.76,486.26 L589.03,494.05 L585.43,501.91 L581.97,509.85 L578.63,517.87 L575.43,525.97 L572.35,534.14 L569.41,542.39 L566.59,550.72 L563.91,559.12 L561.35,567.60 L558.93,576.16 L556.64,584.79 L554.47,593.50 L552.44,602.29 L550.54,611.16" fill="none" stroke="#f1f1f1" stroke-width="7.0"/><polygon points="547.69,626.04 543.57,610.33 557.32,612.97" fill="#f1f1f1" stroke="#f1f1f1" stroke-width="3.2" stroke-linejoin="round"/>
<path d="M766.98,323.31 L767.77,326.59 L768.60,329.86 L769.47,333.10 L770.37,336.32 L771.31,339.52 L772.29,342.70 L773.30,345.85 L774.35,348.99 L775.43,352.10 L776.56,355.19 L777.72,358.25 L778.91,361.30 L780.15,364.33 L781.41,367.33 L782.72,370.31 L784.06,373.27 L785.44,376.21 L786.86,379.12 L788.31,382.02 L789.80,384.89 L791.33,387.74 L792.89,390.57 L794.49,393.37 L796.12,396.16 L797.79,398.92 L799.50,401.66 L801.25,404.38 L803.03,407.08 L804.85,409.76 L806.71,412.41 L808.60,415.04 L810.53,417.65 L812.49,420.24 L814.50,422.81 L816.53,425.36 L818.61,427.88 L820.72,430.38 L822.87,432.86 L825.06,435.32 L827.28,437.76 L829.54,440.17 L831.83,442.56 L833.12,443.88" fill="none" stroke="#f0f0f0" stroke-width="7.0"/><polygon points="844.10,454.36 828.65,449.29 838.32,439.17" fill="#f0f0f0" stroke="#f0f0f0" stroke-width="3.2" stroke-linejoin="round"/>
<path d="M530.37,321.42 L527.92,328.20 L525.59,334.99 L523.36,341.77 L521.24,348.55 L519.23,355.34 L517.33,362.12 L515.54,368.91 L513.86,375.69 L512.29,382.47 L510.83,389.26 L509.48,396.04 L508.23,402.83 L507.10,409.61 L506.08,416.40 L505.16,423.18 L504.36,429.97 L503.66,436.75 L503.08,443.54 L502.60,450.32 L502.23,457.11 L501.98,463.89 L501.83,470.68 L501.79,477.46 L501.86,484.25 L502.04,491.03 L502.33,497.82 L502.73,504.60 L503.24,511.39 L503.86,518.17 L504.59,524.96 L505.42,531.74 L506.37,538.53 L507.43,545.32 L508.59,552.10 L509.87,558.89 L511.25,565.67 L512.75,572.46 L514.35,579.25 L516.06,586.03 L517.88,592.82 L519.82,599.60 L521.86,606.39 L524.01,613.18 L524.21,613.79" fill="none" stroke="#f0f0f0" stroke-width="7.0"/><polygon points="529.23,628.32 517.76,616.55 530.99,611.98" fill="#f0f0f0" stroke="#f0f0f0" stroke-width="3.2" stroke-linejoin="round"/>
<path d="M528.20,633.30 Q526.90,617.30 536.40,615.80 M549.90,617.30 Q556.90,621.30 557.20,633.30" fill="none" stroke="#f0f0f0" stroke-width="6.6"/><polygon points="535.10,610.30 550.70,616.80 534.70,624.50" fill="#f0f0f0" stroke="#f0f0f0" stroke-width="3.2" stroke-linejoin="round"/>
<path d="M572.70,672.79 L575.98,673.81 L579.26,674.79 L582.55,675.73 L585.83,676.62 L589.12,677.47 L592.40,678.28 L595.69,679.04 L598.98,679.76 L602.26,680.44 L605.55,681.07 L608.83,681.66 L612.12,682.21 L615.40,682.71 L618.68,683.17 L621.97,683.59 L625.25,683.96 L628.54,684.29 L631.82,684.58 L635.11,684.82 L638.39,685.02 L641.68,685.18 L644.97,685.29 L648.25,685.36 L651.54,685.39 L654.82,685.37 L658.11,685.31 L661.39,685.21 L664.67,685.06 L667.96,684.87 L671.25,684.64 L674.53,684.36 L677.81,684.04 L681.10,683.68 L684.38,683.27 L687.67,682.82 L690.95,682.33 L694.24,681.79 L697.52,681.21 L700.81,680.58 L704.10,679.92 L707.38,679.21 L710.66,678.45 L713.95,677.65" fill="none" stroke="#eeeeee" stroke-width="7.0"/><polygon points="728.47,673.57 716.33,684.26 712.53,670.78" fill="#eeeeee" stroke="#eeeeee" stroke-width="3.2" stroke-linejoin="round"/>
<path d="M841.35,464.02 L832.58,460.77 L823.82,457.67 L815.05,454.73 L806.29,451.94 L797.52,449.30 L788.75,446.82 L779.99,444.49 L771.22,442.32 L762.46,440.30 L753.69,438.44 L744.92,436.73 L736.16,435.17 L727.39,433.77 L718.63,432.52 L709.86,431.43 L701.09,430.49 L692.33,429.71 L683.56,429.08 L674.80,428.60 L666.03,428.28 L657.26,428.11 L648.50,428.10 L639.73,428.24 L630.97,428.54 L622.20,428.99 L613.43,429.59 L604.67,430.35 L595.90,431.26 L587.14,432.33 L578.37,433.55 L569.60,434.93 L560.84,436.46 L552.07,438.14 L543.31,439.98 L534.54,441.97 L525.77,444.12 L517.01,446.42 L508.24,448.88 L499.48,451.49 L490.71,454.25 L481.94,457.17 L480.48,457.67" fill="none" stroke="#ebebeb" stroke-width="7.0"/><polygon points="465.92,462.93 477.64,451.26 482.39,464.43" fill="#ebebeb" stroke="#ebebeb" stroke-width="3.2" stroke-linejoin="round"/>
<path d="M517.17,311.56 L514.67,313.83 L512.20,316.12 L509.78,318.43 L507.39,320.76 L505.03,323.12 L502.71,325.50 L500.43,327.90 L498.19,330.32 L495.98,332.76 L493.81,335.22 L491.67,337.71 L489.57,340.22 L487.51,342.75 L485.49,345.30 L483.50,347.87 L481.55,350.47 L479.63,353.08 L477.76,355.72 L475.91,358.38 L474.11,361.06 L472.34,363.76 L470.61,366.49 L468.91,369.23 L467.26,372.00 L465.63,374.79 L464.05,377.60 L462.50,380.44 L460.99,383.29 L459.52,386.17 L458.08,389.07 L456.67,391.99 L455.31,394.93 L453.98,397.89 L452.69,400.88 L451.43,403.88 L450.22,406.91 L449.03,409.96 L447.89,413.03 L446.78,416.13 L445.71,419.24 L444.67,422.38 L443.68,425.54 L443.14,427.30" fill="none" stroke="#e9e9e9" stroke-width="7.0"/><polygon points="439.21,441.94 436.25,425.97 449.77,429.60" fill="#e9e9e9" stroke="#e9e9e9" stroke-width="3.2" stroke-linejoin="round"/>
<path d="M756.69,629.13 L755.04,620.11 L753.27,611.16 L751.37,602.30 L749.34,593.51 L747.18,584.80 L744.89,576.16 L742.47,567.61 L739.92,559.13 L737.23,550.72 L734.42,542.40 L731.48,534.15 L728.40,525.98 L725.20,517.88 L721.87,509.86 L718.40,501.92 L714.81,494.06 L711.08,486.27 L707.23,478.56 L703.24,470.93 L699.13,463.37 L694.88,455.89 L690.51,448.49 L686.00,441.17 L681.36,433.92 L676.60,426.75 L671.70,419.65 L666.67,412.64 L661.51,405.70 L656.23,398.83 L650.81,392.05 L645.26,385.34 L639.58,378.71 L633.77,372.15 L627.83,365.67 L621.76,359.27 L615.56,352.95 L609.23,346.70 L602.77,340.53 L596.18,334.44 L589.46,328.42 L582.61,322.49" fill="none" stroke="#e8e8e8" stroke-width="7.0"/><polygon points="570.94,312.82 586.69,316.78 577.76,327.56" fill="#e8e8e8" stroke="#e8e8e8" stroke-width="3.2" stroke-linejoin="round"/>
<path d="M747.20,633.30 Q745.90,617.30 755.40,615.80 M768.90,617.30 Q775.90,621.30 776.20,633.30" fill="none" stroke="#e6e6e6" stroke-width="6.6"/><polygon points="754.10,610.30 769.70,616.80 753.70,624.50" fill="#e6e6e6" stroke="#e6e6e6" stroke-width="3.2" stroke-linejoin="round"/>
<path d="M729.04,295.38 L721.80,296.59 L714.61,297.91 L707.47,299.32 L700.39,300.83 L693.36,302.43 L686.39,304.14 L679.47,305.94 L672.61,307.84 L665.80,309.83 L659.05,311.92 L652.35,314.11 L645.71,316.40 L639.12,318.78 L632.58,321.26 L626.10,323.83 L619.68,326.51 L613.31,329.28 L607.00,332.15 L600.74,335.11 L594.53,338.18 L588.38,341.34 L582.28,344.59 L576.24,347.95 L570.26,351.40 L564.32,354.94 L558.45,358.59 L552.62,362.33 L546.86,366.17 L541.14,370.11 L535.49,374.14 L529.88,378.27 L524.33,382.50 L518.84,386.82 L513.40,391.25 L508.02,395.77 L502.69,400.38 L497.41,405.09 L492.19,409.90 L487.03,414.81 L481.92,419.82 L476.86,424.92 L471.86,430.12 L466.91,435.41 L465.13,437.36" fill="none" stroke="#e5e5e5" stroke-width="7.0"/><polygon points="455.19,448.64 459.55,433.11 470.05,442.37" fill="#e5e5e5" stroke="#e5e5e5" stroke-width="3.2" stroke-linejoin="round"/>
<path d="M731.11,649.81 L727.82,648.79 L724.53,647.81 L721.25,646.87 L717.96,645.98 L714.68,645.13 L711.40,644.32 L708.11,643.56 L704.83,642.84 L701.54,642.16 L698.25,641.53 L694.97,640.94 L691.68,640.39 L688.40,639.89 L685.12,639.43 L681.83,639.01 L678.54,638.64 L675.26,638.31 L671.97,638.02 L668.69,637.78 L665.40,637.58 L662.12,637.42 L658.84,637.31 L655.55,637.24 L652.27,637.21 L648.98,637.23 L645.69,637.29 L642.41,637.39 L639.12,637.54 L635.84,637.73 L632.55,637.96 L629.27,638.24 L625.99,638.56 L622.70,638.92 L619.41,639.33 L616.13,639.78 L612.85,640.27 L609.56,640.81 L606.27,641.39 L602.99,642.02 L599.70,642.68 L596.42,643.39 L593.13,644.15 L589.85,644.95" fill="none" stroke="#e5e5e5" stroke-width="7.0"/><polygon points="575.33,649.03 587.47,638.34 591.27,651.82" fill="#e5e5e5" stroke="#e5e5e5" stroke-width="3.2" stroke-linejoin="round"/>
<path d="M562.90,316.65 L567.70,322.22 L572.56,327.70 L577.46,333.08 L582.43,338.36 L587.45,343.54 L592.52,348.63 L597.65,353.62 L602.83,358.51 L608.07,363.30 L613.36,368.00 L618.71,372.60 L624.11,377.10 L629.56,381.51 L635.07,385.82 L640.64,390.03 L646.26,394.14 L651.94,398.16 L657.67,402.08 L663.45,405.90 L669.29,409.62 L675.18,413.25 L681.13,416.78 L687.14,420.22 L693.20,423.55 L699.31,426.79 L705.48,429.93 L711.70,432.98 L717.98,435.92 L724.31,438.77 L730.70,441.53 L737.14,444.18 L743.63,446.74 L750.19,449.20 L756.79,451.56 L763.45,453.83 L770.17,456.00 L776.94,458.07 L783.76,460.05 L790.64,461.93 L797.58,463.71 L804.57,465.39 L811.61,466.98 L818.71,468.46 L821.30,468.98" fill="none" stroke="#e4e4e4" stroke-width="7.0"/><polygon points="836.11,471.64 820.56,475.96 823.03,462.18" fill="#e4e4e4" stroke="#e4e4e4" stroke-width="3.2" stroke-linejoin="round"/>
<path d="M839.00,480.45 L831.74,481.66 L824.54,482.97 L817.39,484.38 L810.30,485.88 L803.26,487.48 L796.28,489.18 L789.35,490.97 L782.48,492.87 L775.66,494.86 L768.90,496.94 L762.19,499.13 L755.54,501.41 L748.94,503.79 L742.39,506.27 L735.90,508.84 L729.47,511.51 L723.09,514.28 L716.76,517.14 L710.49,520.11 L704.27,523.17 L698.11,526.32 L692.00,529.58 L685.95,532.93 L679.95,536.38 L674.01,539.93 L668.12,543.57 L662.29,547.31 L656.51,551.15 L650.79,555.08 L645.12,559.12 L639.50,563.25 L633.94,567.47 L628.44,571.80 L622.99,576.22 L617.59,580.74 L612.25,585.36 L606.97,590.07 L601.74,594.88 L596.56,599.79 L591.44,604.80 L586.37,609.90 L581.36,615.10 L576.40,620.40 L574.61,622.35" fill="none" stroke="#dadada" stroke-width="7.0"/><polygon points="564.65,633.63 569.03,618.09 579.53,627.35" fill="#dadada" stroke="#dadada" stroke-width="3.2" stroke-linejoin="round"/>
<path d="M418.80,448.30 Q417.50,432.30 427.00,430.80 M440.50,432.30 Q447.50,436.30 447.80,448.30" fill="none" stroke="#d9d9d9" stroke-width="6.6"/><polygon points="425.70,425.30 441.30,431.80 425.30,439.50" fill="#d9d9d9" stroke="#d9d9d9" stroke-width="3.2" stroke-linejoin="round"/>
<path d="M731.05,279.73 L727.77,278.71 L724.49,277.73 L721.20,276.79 L717.92,275.90 L714.64,275.05 L711.36,274.24 L708.08,273.48 L704.80,272.76 L701.52,272.09 L698.24,271.45 L694.96,270.86 L691.68,270.32 L688.40,269.82 L685.12,269.36 L681.84,268.94 L678.56,268.57 L675.28,268.24 L672.00,267.95 L668.72,267.71 L665.44,267.51 L662.16,267.35 L658.88,267.24 L655.59,267.17 L652.31,267.14 L649.03,267.16 L645.75,267.22 L642.47,267.32 L639.19,267.47 L635.91,267.66 L632.63,267.89 L629.35,268.17 L626.07,268.49 L622.79,268.85 L619.51,269.26 L616.23,269.71 L612.95,270.20 L609.67,270.74 L606.39,271.32 L603.11,271.94 L599.83,272.61 L596.55,273.32 L593.27,274.07 L589.99,274.87" fill="none" stroke="#d0d0d0" stroke-width="7.0"/><polygon points="575.49,278.95 587.61,268.27 591.40,281.74" fill="#d0d0d0" stroke="#d0d0d0" stroke-width="3.2" stroke-linejoin="round"/>
<path d="M851.00,450.85 L846.20,445.28 L841.34,439.80 L836.44,434.42 L831.47,429.14 L826.45,423.96 L821.38,418.87 L816.25,413.88 L811.07,408.99 L805.83,404.20 L800.54,399.50 L795.19,394.90 L789.79,390.40 L784.34,385.99 L778.83,381.68 L773.26,377.47 L767.64,373.36 L761.96,369.34 L756.23,365.42 L750.45,361.60 L744.61,357.88 L738.72,354.25 L732.77,350.72 L726.76,347.28 L720.70,343.95 L714.59,340.71 L708.42,337.57 L702.20,334.52 L695.92,331.58 L689.59,328.73 L683.20,325.97 L676.76,323.32 L670.27,320.76 L663.71,318.30 L657.11,315.94 L650.45,313.67 L643.73,311.50 L636.96,309.43 L630.14,307.45 L623.26,305.57 L616.32,303.79 L609.33,302.11 L602.29,300.52 L595.19,299.04 L592.60,298.52" fill="none" stroke="#cecece" stroke-width="7.0"/><polygon points="577.79,295.86 593.34,291.54 590.87,305.32" fill="#cecece" stroke="#cecece" stroke-width="3.2" stroke-linejoin="round"/>
<path d="M458.43,455.94 L460.93,453.67 L463.40,451.38 L465.82,449.07 L468.21,446.74 L470.57,444.38 L472.89,442.00 L475.17,439.60 L477.41,437.18 L479.62,434.74 L481.79,432.28 L483.93,429.79 L486.03,427.28 L488.09,424.75 L490.11,422.20 L492.10,419.63 L494.05,417.03 L495.97,414.42 L497.84,411.78 L499.69,409.12 L501.49,406.44 L503.26,403.74 L504.99,401.01 L506.69,398.27 L508.34,395.50 L509.97,392.71 L511.55,389.90 L513.10,387.06 L514.61,384.21 L516.08,381.33 L517.52,378.43 L518.93,375.51 L520.29,372.57 L521.62,369.61 L522.91,366.62 L524.17,363.62 L525.38,360.59 L526.57,357.54 L527.71,354.47 L528.82,351.37 L529.89,348.26 L530.93,345.12 L531.92,341.96 L532.46,340.20" fill="none" stroke="#cdcdcd" stroke-width="7.0"/><polygon points="536.39,325.56 539.35,341.53 525.83,337.90" fill="#cdcdcd" stroke="#cdcdcd" stroke-width="3.2" stroke-linejoin="round"/>
<path d="M528.40,263.20 Q527.10,247.20 536.60,245.70 M550.10,247.20 Q557.10,251.20 557.40,263.20" fill="none" stroke="#c3c3c3" stroke-width="6.6"/><polygon points="535.30,240.20 550.90,246.70 534.90,254.40" fill="#c3c3c3" stroke="#c3c3c3" stroke-width="3.2" stroke-linejoin="round"/>
<path d="M572.85,302.67 L576.13,303.69 L579.41,304.67 L582.70,305.61 L585.98,306.50 L589.26,307.35 L592.54,308.16 L595.82,308.92 L599.10,309.64 L602.38,310.31 L605.66,310.95 L608.94,311.54 L612.22,312.08 L615.50,312.58 L618.78,313.04 L622.06,313.46 L625.34,313.83 L628.62,314.16 L631.90,314.45 L635.18,314.69 L638.46,314.89 L641.74,315.05 L645.02,315.16 L648.30,315.23 L651.59,315.26 L654.87,315.24 L658.15,315.18 L661.43,315.08 L664.71,314.93 L667.99,314.74 L671.27,314.51 L674.55,314.23 L677.83,313.91 L681.11,313.55 L684.39,313.14 L687.67,312.69 L690.95,312.20 L694.23,311.66 L697.51,311.08 L700.79,310.46 L704.07,309.79 L707.35,309.08 L710.63,308.33 L713.91,307.53" fill="none" stroke="#7a7a7a" stroke-width="7.0"/><polygon points="728.41,303.45 716.29,314.13 712.50,300.66" fill="#7a7a7a" stroke="#7a7a7a" stroke-width="3.2" stroke-linejoin="round"/>
<path d="M865.62,444.19 L864.83,440.91 L864.00,437.64 L863.13,434.40 L862.23,431.18 L861.29,427.98 L860.31,424.80 L859.30,421.65 L858.25,418.51 L857.17,415.40 L856.04,412.31 L854.88,409.25 L853.69,406.20 L852.45,403.17 L851.19,400.17 L849.88,397.19 L848.54,394.23 L847.16,391.29 L845.74,388.38 L844.29,385.48 L842.80,382.61 L841.27,379.76 L839.71,376.93 L838.11,374.13 L836.48,371.34 L834.81,368.58 L833.10,365.84 L831.35,363.12 L829.57,360.42 L827.75,357.74 L825.89,355.09 L824.00,352.46 L822.07,349.85 L820.11,347.26 L818.10,344.69 L816.07,342.14 L813.99,339.62 L811.88,337.12 L809.73,334.64 L807.54,332.18 L805.32,329.74 L803.06,327.33 L800.77,324.94 L799.48,323.62" fill="none" stroke="#5a5a5a" stroke-width="7.0"/><polygon points="788.50,313.14 803.95,318.21 794.28,328.33" fill="#5a5a5a" stroke="#5a5a5a" stroke-width="3.2" stroke-linejoin="round"/>
<path d="M747.10,263.20 Q745.80,247.20 755.30,245.70 M768.80,247.20 Q775.80,251.20 776.10,263.20" fill="none" stroke="#555555" stroke-width="6.6"/><polygon points="754.00,240.20 769.60,246.70 753.60,254.40" fill="#555555" stroke="#555555" stroke-width="3.2" stroke-linejoin="round"/>
<path d="M465.26,472.12 L472.50,470.91 L479.69,469.59 L486.83,468.18 L493.91,466.67 L500.94,465.07 L507.91,463.36 L514.83,461.56 L521.69,459.66 L528.50,457.67 L535.25,455.58 L541.95,453.39 L548.59,451.10 L555.18,448.72 L561.72,446.24 L568.20,443.67 L574.62,440.99 L580.99,438.22 L587.30,435.35 L593.56,432.39 L599.77,429.32 L605.92,426.16 L612.02,422.91 L618.06,419.55 L624.04,416.10 L629.98,412.56 L635.85,408.91 L641.68,405.17 L647.44,401.33 L653.16,397.39 L658.81,393.36 L664.42,389.23 L669.97,385.00 L675.46,380.68 L680.90,376.25 L686.28,371.73 L691.61,367.12 L696.89,362.41 L702.11,357.60 L707.27,352.69 L712.38,347.68 L717.44,342.58 L722.44,337.38 L727.39,332.09 L729.17,330.14" fill="none" stroke="#4d4d4d" stroke-width="7.0"/><polygon points="739.11,318.86 734.75,334.39 724.25,325.13" fill="#4d4d4d" stroke="#4d4d4d" stroke-width="3.2" stroke-linejoin="round"/>
<path d="M786.87,640.97 L789.37,638.71 L791.84,636.42 L794.27,634.11 L796.67,631.78 L799.03,629.42 L801.35,627.05 L803.63,624.65 L805.88,622.23 L808.10,619.79 L810.27,617.33 L812.41,614.85 L814.51,612.34 L816.58,609.82 L818.61,607.27 L820.60,604.70 L822.56,602.10 L824.47,599.49 L826.36,596.85 L828.20,594.20 L830.01,591.52 L831.78,588.81 L833.52,586.09 L835.22,583.35 L836.88,580.58 L838.51,577.79 L840.10,574.98 L841.65,572.15 L843.17,569.30 L844.65,566.42 L846.09,563.52 L847.50,560.61 L848.87,557.66 L850.20,554.70 L851.50,551.72 L852.76,548.71 L853.98,545.68 L855.17,542.64 L856.32,539.56 L857.43,536.47 L858.51,533.36 L859.55,530.22 L860.55,527.06 L861.09,525.30" fill="none" stroke="#3d3d3d" stroke-width="7.0"/><polygon points="865.04,510.66 867.98,526.64 854.46,522.99" fill="#3d3d3d" stroke="#3d3d3d" stroke-width="3.2" stroke-linejoin="round"/>
<path d="M574.70,657.15 L581.96,655.94 L589.16,654.63 L596.31,653.22 L603.40,651.72 L610.44,650.12 L617.42,648.42 L624.35,646.63 L631.22,644.73 L638.04,642.74 L644.80,640.66 L651.51,638.47 L658.16,636.19 L664.76,633.81 L671.31,631.33 L677.80,628.76 L684.23,626.09 L690.61,623.32 L696.94,620.46 L703.21,617.49 L709.43,614.43 L715.59,611.28 L721.70,608.02 L727.75,604.67 L733.75,601.22 L739.69,597.67 L745.58,594.03 L751.41,590.29 L757.19,586.45 L762.91,582.52 L768.58,578.48 L774.20,574.35 L779.76,570.13 L785.26,565.80 L790.71,561.38 L796.11,556.86 L801.45,552.24 L806.73,547.53 L811.96,542.72 L817.14,537.81 L822.26,532.80 L827.33,527.70 L832.34,522.50 L837.30,517.20 L839.09,515.25" fill="none" stroke="#000000" stroke-width="7.0"/><polygon points="849.05,503.97 844.67,519.51 834.17,510.25" fill="#000000" stroke="#000000" stroke-width="3.2" stroke-linejoin="round"/>
<circle cx="542.6" cy="291.2" r="31.7" fill="#fc4f30" stroke="#000" stroke-width="3.2"/><circle cx="761.3" cy="291.2" r="31.7" fill="#e5ae38" stroke="#000" stroke-width="3.2"/><circle cx="433.0" cy="476.3" r="31.7" fill="#d62728" stroke="#000" stroke-width="3.2"/><circle cx="871.3" cy="476.3" r="31.7" fill="#e377c2" stroke="#000" stroke-width="3.2"/><circle cx="542.4" cy="661.3" r="31.7" fill="#184a66" stroke="#000" stroke-width="3.2"/><circle cx="761.4" cy="661.3" r="31.7" fill="#9467bd" stroke="#000" stroke-width="3.2"/>
<circle cx="191.4" cy="128.3" r="10.4" fill="#fbc7ad"/>
<path d="M191.4,128.3 L199.37,121.62 A10.4,10.4 0 0 0 183.43,121.62 Z" fill="#b9c5e2"/>
<circle cx="191.4" cy="128.3" r="10.4" fill="none" stroke="#a0a0a0" stroke-width="1.1"/>
<circle cx="176.6" cy="274.9" r="10.4" fill="#f8732c"/>
<path d="M176.6,274.9 L184.57,268.22 A10.4,10.4 0 0 0 168.63,268.22 Z" fill="#5573b5"/>
<circle cx="176.6" cy="274.9" r="10.4" fill="none" stroke="#111" stroke-width="1.3"/>
<circle cx="259.9" cy="256.0" r="10.4" fill="#5573b5"/>
<path d="M259.9,256.0 L268.31,249.89 A10.4,10.4 0 0 0 252.42,248.78 Z" fill="#f8732c"/>
<circle cx="259.9" cy="256.0" r="10.4" fill="none" stroke="#111" stroke-width="1.3"/>
<circle cx="344.3" cy="256.7" r="10.3" fill="#fff" stroke="#111" stroke-width="1.3"/>
<circle cx="238.7" cy="395.4" r="10.4" fill="#b9c5e2"/>
<path d="M238.7,395.4 L246.67,388.72 A10.4,10.4 0 0 0 230.73,388.72 Z" fill="#fbc7ad"/>
<circle cx="238.7" cy="395.4" r="10.4" fill="none" stroke="#a0a0a0" stroke-width="1.1"/>
<circle cx="230.4" cy="534.0" r="10.4" fill="#f8732c"/>
<path d="M230.4,534.0 L238.37,527.32 A10.4,10.4 0 0 0 222.43,527.32 Z" fill="#5573b5"/>
<circle cx="230.4" cy="534.0" r="10.4" fill="none" stroke="#111" stroke-width="1.3"/>
<circle cx="263.1" cy="459.4" r="10.4" fill="#5573b5"/>
<path d="M263.1,459.4 L271.07,452.72 A10.4,10.4 0 0 0 255.13,452.72 Z" fill="#f8732c"/>
<circle cx="263.1" cy="459.4" r="10.4" fill="none" stroke="#111" stroke-width="1.3"/>
<circle cx="162.6" cy="574.5" r="10.3" fill="#fff" stroke="#111" stroke-width="1.3"/>
<circle cx="220.3" cy="651.0" r="10.4" fill="#5573b5"/>
<path d="M220.3,651.0 L228.27,644.32 A10.4,10.4 0 0 0 212.33,644.32 Z" fill="#f8732c"/>
<circle cx="220.3" cy="651.0" r="10.4" fill="none" stroke="#111" stroke-width="1.3"/>
<circle cx="175.1" cy="711.2" r="10.4" fill="#f8732c"/>
<path d="M175.1,711.2 L183.07,704.52 A10.4,10.4 0 0 0 167.13,704.52 Z" fill="#5573b5"/>
<circle cx="175.1" cy="711.2" r="10.4" fill="none" stroke="#111" stroke-width="1.3"/>
<circle cx="219.4" cy="807.0" r="10.4" fill="#fbc7ad"/>
<path d="M219.4,807.0 L227.37,800.32 A10.4,10.4 0 0 0 211.43,800.32 Z" fill="#b9c5e2"/>
<circle cx="219.4" cy="807.0" r="10.4" fill="none" stroke="#a0a0a0" stroke-width="1.1"/>
<circle cx="147.7" cy="839.3" r="10.3" fill="#fff" stroke="#111" stroke-width="1.3"/>
<circle cx="1047.9" cy="94.8" r="10.4" fill="#5573b5"/>
<path d="M1047.9,94.8 L1055.87,88.12 A10.4,10.4 0 0 0 1039.93,88.12 Z" fill="#f8732c"/>
<circle cx="1047.9" cy="94.8" r="10.4" fill="none" stroke="#111" stroke-width="1.3"/>
<circle cx="990.9" cy="169.4" r="10.3" fill="#fff" stroke="#111" stroke-width="1.3"/>
<circle cx="1081.9" cy="224.9" r="10.4" fill="#b9c5e2"/>
<path d="M1081.9,224.9 L1089.87,218.22 A10.4,10.4 0 0 0 1073.93,218.22 Z" fill="#fbc7ad"/>
<circle cx="1081.9" cy="224.9" r="10.4" fill="none" stroke="#a0a0a0" stroke-width="1.1"/>
<circle cx="1047.9" cy="281.0" r="10.4" fill="#f8732c"/>
<path d="M1047.9,281.0 L1055.87,274.32 A10.4,10.4 0 0 0 1039.93,274.32 Z" fill="#5573b5"/>
<circle cx="1047.9" cy="281.0" r="10.4" fill="none" stroke="#111" stroke-width="1.3"/>
<circle cx="1138.8" cy="401.5" r="10.3" fill="#fff" stroke="#b4b4b4" stroke-width="1.1"/>
<circle cx="1000.4" cy="404.8" r="10.4" fill="#5573b5"/>
<path d="M1000.4,404.8 L1008.37,398.12 A10.4,10.4 0 0 0 992.43,398.12 Z" fill="#f8732c"/>
<circle cx="1000.4" cy="404.8" r="10.4" fill="none" stroke="#111" stroke-width="1.3"/>
<circle cx="977.1" cy="530.4" r="10.3" fill="#fff" stroke="#111" stroke-width="1.3"/>
<circle cx="982.1" cy="556.6" r="10.4" fill="#f8732c"/>
<path d="M982.1,556.6 L990.07,549.92 A10.4,10.4 0 0 0 974.13,549.92 Z" fill="#5573b5"/>
<circle cx="982.1" cy="556.6" r="10.4" fill="none" stroke="#111" stroke-width="1.3"/>
<circle cx="1058.7" cy="654.5" r="10.4" fill="#f8732c"/>
<path d="M1058.7,654.5 L1066.67,647.82 A10.4,10.4 0 0 0 1050.73,647.82 Z" fill="#5573b5"/>
<circle cx="1058.7" cy="654.5" r="10.4" fill="none" stroke="#111" stroke-width="1.3"/>
<circle cx="1001.0" cy="762.0" r="10.4" fill="#5573b5"/>
<path d="M1001.0,762.0 L1011.24,760.19 A10.4,10.4 0 0 0 997.44,752.23 Z" fill="#f8732c"/>
<circle cx="1001.0" cy="762.0" r="10.4" fill="none" stroke="#111" stroke-width="1.3"/>
<circle cx="1056.9" cy="786.8" r="10.3" fill="#fff" stroke="#111" stroke-width="1.3"/>
<circle cx="1115.0" cy="836.3" r="10.3" fill="#fff" stroke="#b4b4b4" stroke-width="1.1"/>
<line x1="190.30" y1="129.50" x2="190.38" y2="129.62" stroke="#440154" stroke-width="3.3" stroke-linecap="round"/>
<line x1="190.38" y1="129.62" x2="190.48" y2="129.73" stroke="#450457" stroke-width="3.3" stroke-linecap="round"/>
<line x1="190.48" y1="129.73" x2="190.59" y2="129.85" stroke="#46075a" stroke-width="3.3" stroke-linecap="round"/>
<line x1="190.59" y1="129.85" x2="190.71" y2="129.98" stroke="#46085c" stroke-width="3.3" stroke-linecap="round"/>
<line x1="190.71" y1="129.98" x2="190.84" y2="130.13" stroke="#460b5e" stroke-width="3.3" stroke-linecap="round"/>
<line x1="190.84" y1="130.13" x2="190.99" y2="130.31" stroke="#470e61" stroke-width="3.3" stroke-linecap="round"/>
<line x1="190.99" y1="130.31" x2="191.15" y2="130.52" stroke="#471164" stroke-width="3.3" stroke-linecap="round"/>
<line x1="191.15" y1="130.52" x2="191.33" y2="130.79" stroke="#471365" stroke-width="3.3" stroke-linecap="round"/>
<line x1="191.33" y1="130.79" x2="191.52" y2="131.11" stroke="#481668" stroke-width="3.3" stroke-linecap="round"/>
<line x1="191.52" y1="131.11" x2="191.73" y2="131.50" stroke="#48186a" stroke-width="3.3" stroke-linecap="round"/>
<line x1="191.73" y1="131.50" x2="191.96" y2="131.96" stroke="#481a6c" stroke-width="3.3" stroke-linecap="round"/>
<line x1="191.96" y1="131.96" x2="192.20" y2="132.50" stroke="#481c6e" stroke-width="3.3" stroke-linecap="round"/>
<line x1="192.20" y1="132.50" x2="192.47" y2="133.15" stroke="#481f70" stroke-width="3.3" stroke-linecap="round"/>
<line x1="192.47" y1="133.15" x2="192.77" y2="133.91" stroke="#482071" stroke-width="3.3" stroke-linecap="round"/>
<line x1="192.77" y1="133.91" x2="193.09" y2="134.77" stroke="#482374" stroke-width="3.3" stroke-linecap="round"/>
<line x1="193.09" y1="134.77" x2="193.43" y2="135.70" stroke="#482475" stroke-width="3.3" stroke-linecap="round"/>
<line x1="193.43" y1="135.70" x2="193.79" y2="136.68" stroke="#482677" stroke-width="3.3" stroke-linecap="round"/>
<line x1="193.79" y1="136.68" x2="194.16" y2="137.71" stroke="#482878" stroke-width="3.3" stroke-linecap="round"/>
<line x1="194.16" y1="137.71" x2="194.54" y2="138.75" stroke="#472a7a" stroke-width="3.3" stroke-linecap="round"/>
<line x1="194.54" y1="138.75" x2="194.92" y2="139.79" stroke="#472c7a" stroke-width="3.3" stroke-linecap="round"/>
<line x1="194.92" y1="139.79" x2="195.30" y2="140.82" stroke="#472e7c" stroke-width="3.3" stroke-linecap="round"/>
<line x1="195.30" y1="140.82" x2="195.68" y2="141.81" stroke="#472f7d" stroke-width="3.3" stroke-linecap="round"/>
<line x1="195.68" y1="141.81" x2="196.05" y2="142.74" stroke="#46327e" stroke-width="3.3" stroke-linecap="round"/>
<line x1="196.05" y1="142.74" x2="196.40" y2="143.60" stroke="#46337f" stroke-width="3.3" stroke-linecap="round"/>
<line x1="196.40" y1="143.60" x2="196.74" y2="144.40" stroke="#453581" stroke-width="3.3" stroke-linecap="round"/>
<line x1="196.74" y1="144.40" x2="197.08" y2="145.17" stroke="#453781" stroke-width="3.3" stroke-linecap="round"/>
<line x1="197.08" y1="145.17" x2="197.41" y2="145.91" stroke="#443983" stroke-width="3.3" stroke-linecap="round"/>
<line x1="197.41" y1="145.91" x2="197.73" y2="146.62" stroke="#443a83" stroke-width="3.3" stroke-linecap="round"/>
<line x1="197.73" y1="146.62" x2="198.06" y2="147.32" stroke="#433d84" stroke-width="3.3" stroke-linecap="round"/>
<line x1="198.06" y1="147.32" x2="198.39" y2="148.01" stroke="#433e85" stroke-width="3.3" stroke-linecap="round"/>
<line x1="198.39" y1="148.01" x2="198.72" y2="148.68" stroke="#424086" stroke-width="3.3" stroke-linecap="round"/>
<line x1="198.72" y1="148.68" x2="199.06" y2="149.36" stroke="#424186" stroke-width="3.3" stroke-linecap="round"/>
<line x1="199.06" y1="149.36" x2="199.40" y2="150.03" stroke="#414487" stroke-width="3.3" stroke-linecap="round"/>
<line x1="199.40" y1="150.03" x2="199.75" y2="150.71" stroke="#404588" stroke-width="3.3" stroke-linecap="round"/>
<line x1="199.75" y1="150.71" x2="200.12" y2="151.40" stroke="#3f4788" stroke-width="3.3" stroke-linecap="round"/>
<line x1="200.12" y1="151.40" x2="200.50" y2="152.10" stroke="#3f4889" stroke-width="3.3" stroke-linecap="round"/>
<line x1="200.50" y1="152.10" x2="200.90" y2="152.81" stroke="#3e4a89" stroke-width="3.3" stroke-linecap="round"/>
<line x1="200.90" y1="152.81" x2="201.30" y2="153.53" stroke="#3e4c8a" stroke-width="3.3" stroke-linecap="round"/>
<line x1="201.30" y1="153.53" x2="201.72" y2="154.25" stroke="#3d4e8a" stroke-width="3.3" stroke-linecap="round"/>
<line x1="201.72" y1="154.25" x2="202.16" y2="154.96" stroke="#3c508b" stroke-width="3.3" stroke-linecap="round"/>
<line x1="202.16" y1="154.96" x2="202.59" y2="155.68" stroke="#3b528b" stroke-width="3.3" stroke-linecap="round"/>
<line x1="202.59" y1="155.68" x2="203.04" y2="156.40" stroke="#3a538b" stroke-width="3.3" stroke-linecap="round"/>
<line x1="203.04" y1="156.40" x2="203.48" y2="157.12" stroke="#39558c" stroke-width="3.3" stroke-linecap="round"/>
<line x1="203.48" y1="157.12" x2="203.93" y2="157.84" stroke="#38588c" stroke-width="3.3" stroke-linecap="round"/>
<line x1="203.93" y1="157.84" x2="204.38" y2="158.55" stroke="#38598c" stroke-width="3.3" stroke-linecap="round"/>
<line x1="204.38" y1="158.55" x2="204.83" y2="159.27" stroke="#375b8d" stroke-width="3.3" stroke-linecap="round"/>
<line x1="204.83" y1="159.27" x2="205.27" y2="159.99" stroke="#365d8d" stroke-width="3.3" stroke-linecap="round"/>
<line x1="205.27" y1="159.99" x2="205.70" y2="160.70" stroke="#355e8d" stroke-width="3.3" stroke-linecap="round"/>
<line x1="205.70" y1="160.70" x2="206.13" y2="161.41" stroke="#34608d" stroke-width="3.3" stroke-linecap="round"/>
<line x1="206.13" y1="161.41" x2="206.56" y2="162.13" stroke="#33628d" stroke-width="3.3" stroke-linecap="round"/>
<line x1="206.56" y1="162.13" x2="206.99" y2="162.85" stroke="#33638d" stroke-width="3.3" stroke-linecap="round"/>
<line x1="206.99" y1="162.85" x2="207.42" y2="163.57" stroke="#32658e" stroke-width="3.3" stroke-linecap="round"/>
<line x1="207.42" y1="163.57" x2="207.85" y2="164.28" stroke="#31668e" stroke-width="3.3" stroke-linecap="round"/>
<line x1="207.85" y1="164.28" x2="208.28" y2="165.00" stroke="#31688e" stroke-width="3.3" stroke-linecap="round"/>
<line x1="208.28" y1="165.00" x2="208.71" y2="165.71" stroke="#30698e" stroke-width="3.3" stroke-linecap="round"/>
<line x1="208.71" y1="165.71" x2="209.13" y2="166.42" stroke="#2f6b8e" stroke-width="3.3" stroke-linecap="round"/>
<line x1="209.13" y1="166.42" x2="209.56" y2="167.13" stroke="#2f6c8e" stroke-width="3.3" stroke-linecap="round"/>
<line x1="209.56" y1="167.13" x2="209.97" y2="167.82" stroke="#2e6d8e" stroke-width="3.3" stroke-linecap="round"/>
<line x1="209.97" y1="167.82" x2="210.39" y2="168.52" stroke="#2e6f8e" stroke-width="3.3" stroke-linecap="round"/>
<line x1="210.39" y1="168.52" x2="210.80" y2="169.20" stroke="#2d708e" stroke-width="3.3" stroke-linecap="round"/>
<line x1="210.80" y1="169.20" x2="211.20" y2="169.87" stroke="#2c718e" stroke-width="3.3" stroke-linecap="round"/>
<line x1="211.20" y1="169.87" x2="211.59" y2="170.53" stroke="#2c728e" stroke-width="3.3" stroke-linecap="round"/>
<line x1="211.59" y1="170.53" x2="211.97" y2="171.17" stroke="#2c738e" stroke-width="3.3" stroke-linecap="round"/>
<line x1="211.97" y1="171.17" x2="212.35" y2="171.81" stroke="#2b758e" stroke-width="3.3" stroke-linecap="round"/>
<line x1="212.35" y1="171.81" x2="212.72" y2="172.44" stroke="#2a768e" stroke-width="3.3" stroke-linecap="round"/>
<line x1="212.72" y1="172.44" x2="213.09" y2="173.07" stroke="#2a778e" stroke-width="3.3" stroke-linecap="round"/>
<line x1="213.09" y1="173.07" x2="213.47" y2="173.70" stroke="#29798e" stroke-width="3.3" stroke-linecap="round"/>
<line x1="213.47" y1="173.70" x2="213.85" y2="174.34" stroke="#297a8e" stroke-width="3.3" stroke-linecap="round"/>
<line x1="213.85" y1="174.34" x2="214.24" y2="174.98" stroke="#297b8e" stroke-width="3.3" stroke-linecap="round"/>
<line x1="214.24" y1="174.98" x2="214.65" y2="175.64" stroke="#287c8e" stroke-width="3.3" stroke-linecap="round"/>
<line x1="214.65" y1="175.64" x2="215.06" y2="176.31" stroke="#277e8e" stroke-width="3.3" stroke-linecap="round"/>
<line x1="215.06" y1="176.31" x2="215.50" y2="177.00" stroke="#277f8e" stroke-width="3.3" stroke-linecap="round"/>
<line x1="215.50" y1="177.00" x2="215.96" y2="177.71" stroke="#27808e" stroke-width="3.3" stroke-linecap="round"/>
<line x1="215.96" y1="177.71" x2="216.44" y2="178.44" stroke="#26818e" stroke-width="3.3" stroke-linecap="round"/>
<line x1="216.44" y1="178.44" x2="216.93" y2="179.19" stroke="#26828e" stroke-width="3.3" stroke-linecap="round"/>
<line x1="216.93" y1="179.19" x2="217.44" y2="179.95" stroke="#26828e" stroke-width="3.3" stroke-linecap="round"/>
<line x1="217.44" y1="179.95" x2="217.96" y2="180.72" stroke="#25838e" stroke-width="3.3" stroke-linecap="round"/>
<line x1="217.96" y1="180.72" x2="218.48" y2="181.49" stroke="#25848e" stroke-width="3.3" stroke-linecap="round"/>
<line x1="218.48" y1="181.49" x2="219.01" y2="182.26" stroke="#24868e" stroke-width="3.3" stroke-linecap="round"/>
<line x1="219.01" y1="182.26" x2="219.53" y2="183.03" stroke="#24878e" stroke-width="3.3" stroke-linecap="round"/>
<line x1="219.53" y1="183.03" x2="220.04" y2="183.79" stroke="#23888e" stroke-width="3.3" stroke-linecap="round"/>
<line x1="220.04" y1="183.79" x2="220.54" y2="184.54" stroke="#23898e" stroke-width="3.3" stroke-linecap="round"/>
<line x1="220.54" y1="184.54" x2="221.03" y2="185.28" stroke="#238a8d" stroke-width="3.3" stroke-linecap="round"/>
<line x1="221.03" y1="185.28" x2="221.50" y2="186.00" stroke="#228b8d" stroke-width="3.3" stroke-linecap="round"/>
<line x1="221.50" y1="186.00" x2="221.95" y2="186.70" stroke="#228c8d" stroke-width="3.3" stroke-linecap="round"/>
<line x1="221.95" y1="186.70" x2="222.40" y2="187.40" stroke="#228d8d" stroke-width="3.3" stroke-linecap="round"/>
<line x1="222.40" y1="187.40" x2="222.84" y2="188.09" stroke="#218e8d" stroke-width="3.3" stroke-linecap="round"/>
<line x1="222.84" y1="188.09" x2="223.27" y2="188.78" stroke="#218e8d" stroke-width="3.3" stroke-linecap="round"/>
<line x1="223.27" y1="188.78" x2="223.70" y2="189.45" stroke="#218f8d" stroke-width="3.3" stroke-linecap="round"/>
<line x1="223.70" y1="189.45" x2="224.12" y2="190.12" stroke="#21908d" stroke-width="3.3" stroke-linecap="round"/>
<line x1="224.12" y1="190.12" x2="224.53" y2="190.79" stroke="#21918c" stroke-width="3.3" stroke-linecap="round"/>
<line x1="224.53" y1="190.79" x2="224.94" y2="191.44" stroke="#20928c" stroke-width="3.3" stroke-linecap="round"/>
<line x1="224.94" y1="191.44" x2="225.34" y2="192.09" stroke="#20928c" stroke-width="3.3" stroke-linecap="round"/>
<line x1="225.34" y1="192.09" x2="225.73" y2="192.74" stroke="#20928c" stroke-width="3.3" stroke-linecap="round"/>
<line x1="225.73" y1="192.74" x2="226.12" y2="193.37" stroke="#20938c" stroke-width="3.3" stroke-linecap="round"/>
<line x1="226.12" y1="193.37" x2="226.50" y2="194.00" stroke="#1f948c" stroke-width="3.3" stroke-linecap="round"/>
<line x1="226.50" y1="194.00" x2="226.87" y2="194.62" stroke="#1f958b" stroke-width="3.3" stroke-linecap="round"/>
<line x1="226.87" y1="194.62" x2="227.24" y2="195.22" stroke="#1f968b" stroke-width="3.3" stroke-linecap="round"/>
<line x1="227.24" y1="195.22" x2="227.59" y2="195.82" stroke="#1f978b" stroke-width="3.3" stroke-linecap="round"/>
<line x1="227.59" y1="195.82" x2="227.94" y2="196.41" stroke="#1f988b" stroke-width="3.3" stroke-linecap="round"/>
<line x1="227.94" y1="196.41" x2="228.28" y2="196.99" stroke="#1f988b" stroke-width="3.3" stroke-linecap="round"/>
<line x1="228.28" y1="196.99" x2="228.62" y2="197.56" stroke="#1f998a" stroke-width="3.3" stroke-linecap="round"/>
<line x1="228.62" y1="197.56" x2="228.95" y2="198.13" stroke="#1f9a8a" stroke-width="3.3" stroke-linecap="round"/>
<line x1="228.95" y1="198.13" x2="229.28" y2="198.70" stroke="#1e9b8a" stroke-width="3.3" stroke-linecap="round"/>
<line x1="229.28" y1="198.70" x2="229.61" y2="199.27" stroke="#1e9c89" stroke-width="3.3" stroke-linecap="round"/>
<line x1="229.61" y1="199.27" x2="229.94" y2="199.84" stroke="#1e9d89" stroke-width="3.3" stroke-linecap="round"/>
<line x1="229.94" y1="199.84" x2="230.27" y2="200.42" stroke="#1f9e89" stroke-width="3.3" stroke-linecap="round"/>
<line x1="230.27" y1="200.42" x2="230.60" y2="201.00" stroke="#1f9e89" stroke-width="3.3" stroke-linecap="round"/>
<line x1="230.60" y1="201.00" x2="230.94" y2="201.59" stroke="#1fa088" stroke-width="3.3" stroke-linecap="round"/>
<line x1="230.94" y1="201.59" x2="231.28" y2="202.18" stroke="#1fa188" stroke-width="3.3" stroke-linecap="round"/>
<line x1="231.28" y1="202.18" x2="231.63" y2="202.77" stroke="#1fa187" stroke-width="3.3" stroke-linecap="round"/>
<line x1="231.63" y1="202.77" x2="231.97" y2="203.37" stroke="#1fa287" stroke-width="3.3" stroke-linecap="round"/>
<line x1="231.97" y1="203.37" x2="232.32" y2="203.97" stroke="#20a486" stroke-width="3.3" stroke-linecap="round"/>
<line x1="232.32" y1="203.97" x2="232.66" y2="204.56" stroke="#21a585" stroke-width="3.3" stroke-linecap="round"/>
<line x1="232.66" y1="204.56" x2="233.00" y2="205.15" stroke="#21a685" stroke-width="3.3" stroke-linecap="round"/>
<line x1="233.00" y1="205.15" x2="233.33" y2="205.74" stroke="#22a785" stroke-width="3.3" stroke-linecap="round"/>
<line x1="233.33" y1="205.74" x2="233.64" y2="206.32" stroke="#23a983" stroke-width="3.3" stroke-linecap="round"/>
<line x1="233.64" y1="206.32" x2="233.94" y2="206.89" stroke="#24aa83" stroke-width="3.3" stroke-linecap="round"/>
<line x1="233.94" y1="206.89" x2="234.23" y2="207.45" stroke="#25ab82" stroke-width="3.3" stroke-linecap="round"/>
<line x1="234.23" y1="207.45" x2="234.50" y2="208.00" stroke="#26ad81" stroke-width="3.3" stroke-linecap="round"/>
<line x1="234.50" y1="208.00" x2="234.75" y2="208.53" stroke="#27ad81" stroke-width="3.3" stroke-linecap="round"/>
<line x1="234.75" y1="208.53" x2="234.98" y2="209.04" stroke="#28ae80" stroke-width="3.3" stroke-linecap="round"/>
<line x1="234.98" y1="209.04" x2="235.20" y2="209.53" stroke="#29af7f" stroke-width="3.3" stroke-linecap="round"/>
<line x1="235.20" y1="209.53" x2="235.41" y2="210.01" stroke="#2cb17e" stroke-width="3.3" stroke-linecap="round"/>
<line x1="235.41" y1="210.01" x2="235.60" y2="210.48" stroke="#2db27d" stroke-width="3.3" stroke-linecap="round"/>
<line x1="235.60" y1="210.48" x2="235.79" y2="210.96" stroke="#2eb37c" stroke-width="3.3" stroke-linecap="round"/>
<line x1="235.79" y1="210.96" x2="235.97" y2="211.43" stroke="#31b57b" stroke-width="3.3" stroke-linecap="round"/>
<line x1="235.97" y1="211.43" x2="236.14" y2="211.91" stroke="#32b67a" stroke-width="3.3" stroke-linecap="round"/>
<line x1="236.14" y1="211.91" x2="236.30" y2="212.40" stroke="#34b679" stroke-width="3.3" stroke-linecap="round"/>
<line x1="236.30" y1="212.40" x2="236.47" y2="212.91" stroke="#35b779" stroke-width="3.3" stroke-linecap="round"/>
<line x1="236.47" y1="212.91" x2="236.63" y2="213.44" stroke="#38b977" stroke-width="3.3" stroke-linecap="round"/>
<line x1="236.63" y1="213.44" x2="236.80" y2="214.00" stroke="#3aba76" stroke-width="3.3" stroke-linecap="round"/>
<line x1="236.80" y1="214.00" x2="236.96" y2="214.58" stroke="#3bbb75" stroke-width="3.3" stroke-linecap="round"/>
<line x1="236.96" y1="214.58" x2="237.11" y2="215.17" stroke="#3fbc73" stroke-width="3.3" stroke-linecap="round"/>
<line x1="237.11" y1="215.17" x2="237.24" y2="215.77" stroke="#40bd72" stroke-width="3.3" stroke-linecap="round"/>
<line x1="237.24" y1="215.77" x2="237.37" y2="216.39" stroke="#44bf70" stroke-width="3.3" stroke-linecap="round"/>
<line x1="237.37" y1="216.39" x2="237.50" y2="217.02" stroke="#46c06f" stroke-width="3.3" stroke-linecap="round"/>
<line x1="237.50" y1="217.02" x2="237.62" y2="217.66" stroke="#4ac16d" stroke-width="3.3" stroke-linecap="round"/>
<line x1="237.62" y1="217.66" x2="237.74" y2="218.31" stroke="#4cc26c" stroke-width="3.3" stroke-linecap="round"/>
<line x1="237.74" y1="218.31" x2="237.87" y2="218.97" stroke="#50c46a" stroke-width="3.3" stroke-linecap="round"/>
<line x1="237.87" y1="218.97" x2="238.01" y2="219.64" stroke="#52c569" stroke-width="3.3" stroke-linecap="round"/>
<line x1="238.01" y1="219.64" x2="238.16" y2="220.32" stroke="#56c667" stroke-width="3.3" stroke-linecap="round"/>
<line x1="238.16" y1="220.32" x2="238.32" y2="221.00" stroke="#58c765" stroke-width="3.3" stroke-linecap="round"/>
<line x1="238.32" y1="221.00" x2="238.50" y2="221.70" stroke="#5cc863" stroke-width="3.3" stroke-linecap="round"/>
<line x1="238.50" y1="221.70" x2="238.69" y2="222.42" stroke="#60ca60" stroke-width="3.3" stroke-linecap="round"/>
<line x1="238.69" y1="222.42" x2="238.89" y2="223.16" stroke="#65cb5e" stroke-width="3.3" stroke-linecap="round"/>
<line x1="238.89" y1="223.16" x2="239.10" y2="223.92" stroke="#69cd5b" stroke-width="3.3" stroke-linecap="round"/>
<line x1="239.10" y1="223.92" x2="239.32" y2="224.70" stroke="#6ece58" stroke-width="3.3" stroke-linecap="round"/>
<line x1="239.32" y1="224.70" x2="239.54" y2="225.49" stroke="#73d056" stroke-width="3.3" stroke-linecap="round"/>
<line x1="239.54" y1="225.49" x2="239.78" y2="226.28" stroke="#77d153" stroke-width="3.3" stroke-linecap="round"/>
<line x1="239.78" y1="226.28" x2="240.01" y2="227.07" stroke="#7cd250" stroke-width="3.3" stroke-linecap="round"/>
<line x1="240.01" y1="227.07" x2="240.26" y2="227.86" stroke="#84d44b" stroke-width="3.3" stroke-linecap="round"/>
<line x1="240.26" y1="227.86" x2="240.51" y2="228.63" stroke="#89d548" stroke-width="3.3" stroke-linecap="round"/>
<line x1="240.51" y1="228.63" x2="240.77" y2="229.38" stroke="#8ed645" stroke-width="3.3" stroke-linecap="round"/>
<line x1="240.77" y1="229.38" x2="241.03" y2="230.10" stroke="#93d741" stroke-width="3.3" stroke-linecap="round"/>
<line x1="241.03" y1="230.10" x2="241.30" y2="230.80" stroke="#98d83e" stroke-width="3.3" stroke-linecap="round"/>
<line x1="241.30" y1="230.80" x2="241.58" y2="231.47" stroke="#9dd93b" stroke-width="3.3" stroke-linecap="round"/>
<line x1="241.58" y1="231.47" x2="241.86" y2="232.11" stroke="#a2da37" stroke-width="3.3" stroke-linecap="round"/>
<line x1="241.86" y1="232.11" x2="242.15" y2="232.73" stroke="#a8db34" stroke-width="3.3" stroke-linecap="round"/>
<line x1="242.15" y1="232.73" x2="242.46" y2="233.33" stroke="#b0dd2f" stroke-width="3.3" stroke-linecap="round"/>
<line x1="242.46" y1="233.33" x2="242.76" y2="233.92" stroke="#b5de2b" stroke-width="3.3" stroke-linecap="round"/>
<line x1="242.76" y1="233.92" x2="243.08" y2="234.50" stroke="#bade28" stroke-width="3.3" stroke-linecap="round"/>
<line x1="243.08" y1="234.50" x2="243.39" y2="235.07" stroke="#c0df25" stroke-width="3.3" stroke-linecap="round"/>
<line x1="243.39" y1="235.07" x2="243.71" y2="235.65" stroke="#c5e021" stroke-width="3.3" stroke-linecap="round"/>
<line x1="243.71" y1="235.65" x2="244.03" y2="236.22" stroke="#cae11f" stroke-width="3.3" stroke-linecap="round"/>
<line x1="244.03" y1="236.22" x2="244.36" y2="236.80" stroke="#d0e11c" stroke-width="3.3" stroke-linecap="round"/>
<line x1="244.36" y1="236.80" x2="244.68" y2="237.40" stroke="#d8e219" stroke-width="3.3" stroke-linecap="round"/>
<line x1="244.68" y1="237.40" x2="245.00" y2="238.00" stroke="#dde318" stroke-width="3.3" stroke-linecap="round"/>
<line x1="245.00" y1="238.00" x2="245.32" y2="238.62" stroke="#dfe318" stroke-width="3.3" stroke-linecap="round"/>
<line x1="245.32" y1="238.62" x2="245.64" y2="239.26" stroke="#e2e418" stroke-width="3.3" stroke-linecap="round"/>
<line x1="245.64" y1="239.26" x2="245.96" y2="239.90" stroke="#e5e419" stroke-width="3.3" stroke-linecap="round"/>
<line x1="245.96" y1="239.90" x2="246.27" y2="240.55" stroke="#e7e419" stroke-width="3.3" stroke-linecap="round"/>
<line x1="246.27" y1="240.55" x2="246.59" y2="241.21" stroke="#ece51b" stroke-width="3.3" stroke-linecap="round"/>
<line x1="246.59" y1="241.21" x2="246.92" y2="241.86" stroke="#efe51c" stroke-width="3.3" stroke-linecap="round"/>
<line x1="246.92" y1="241.86" x2="247.25" y2="242.50" stroke="#f1e51d" stroke-width="3.3" stroke-linecap="round"/>
<line x1="247.25" y1="242.50" x2="247.58" y2="243.14" stroke="#f4e61e" stroke-width="3.3" stroke-linecap="round"/>
<line x1="247.58" y1="243.14" x2="247.92" y2="243.76" stroke="#f6e620" stroke-width="3.3" stroke-linecap="round"/>
<line x1="247.92" y1="243.76" x2="248.27" y2="244.36" stroke="#f8e621" stroke-width="3.3" stroke-linecap="round"/>
<line x1="248.27" y1="244.36" x2="248.63" y2="244.94" stroke="#fbe723" stroke-width="3.3" stroke-linecap="round"/>
<line x1="248.63" y1="244.94" x2="249.00" y2="245.50" stroke="#fde725" stroke-width="3.3" stroke-linecap="round"/>
<line x1="249.00" y1="245.50" x2="249.40" y2="246.05" stroke="#fde725" stroke-width="3.3" stroke-linecap="round"/>
<line x1="249.40" y1="246.05" x2="249.83" y2="246.60" stroke="#fde725" stroke-width="3.3" stroke-linecap="round"/>
<line x1="249.83" y1="246.60" x2="250.30" y2="247.14" stroke="#fde725" stroke-width="3.3" stroke-linecap="round"/>
<line x1="250.30" y1="247.14" x2="250.78" y2="247.69" stroke="#fde725" stroke-width="3.3" stroke-linecap="round"/>
<line x1="250.78" y1="247.69" x2="251.27" y2="248.21" stroke="#fde725" stroke-width="3.3" stroke-linecap="round"/>
<line x1="251.27" y1="248.21" x2="251.75" y2="248.72" stroke="#fde725" stroke-width="3.3" stroke-linecap="round"/>
<line x1="251.75" y1="248.72" x2="252.22" y2="249.20" stroke="#fde725" stroke-width="3.3" stroke-linecap="round"/>
<line x1="252.22" y1="249.20" x2="252.67" y2="249.65" stroke="#fde725" stroke-width="3.3" stroke-linecap="round"/>
<line x1="252.67" y1="249.65" x2="253.08" y2="250.06" stroke="#fde725" stroke-width="3.3" stroke-linecap="round"/>
<line x1="253.08" y1="250.06" x2="253.44" y2="250.42" stroke="#fde725" stroke-width="3.3" stroke-linecap="round"/>
<line x1="253.44" y1="250.42" x2="253.76" y2="250.74" stroke="#fde725" stroke-width="3.3" stroke-linecap="round"/>
<line x1="253.76" y1="250.74" x2="254.00" y2="251.00" stroke="#fde725" stroke-width="3.3" stroke-linecap="round"/>
<line x1="190.50" y1="130.00" x2="190.60" y2="130.07" stroke="#450457" stroke-width="3.3" stroke-linecap="round"/>
<line x1="190.60" y1="130.07" x2="190.73" y2="130.14" stroke="#460a5d" stroke-width="3.3" stroke-linecap="round"/>
<line x1="190.73" y1="130.14" x2="190.88" y2="130.22" stroke="#471063" stroke-width="3.3" stroke-linecap="round"/>
<line x1="190.88" y1="130.22" x2="191.05" y2="130.31" stroke="#481668" stroke-width="3.3" stroke-linecap="round"/>
<line x1="191.05" y1="130.31" x2="191.23" y2="130.42" stroke="#481c6e" stroke-width="3.3" stroke-linecap="round"/>
<line x1="191.23" y1="130.42" x2="191.42" y2="130.53" stroke="#482173" stroke-width="3.3" stroke-linecap="round"/>
<line x1="191.42" y1="130.53" x2="191.62" y2="130.66" stroke="#482677" stroke-width="3.3" stroke-linecap="round"/>
<line x1="191.62" y1="130.66" x2="191.82" y2="130.80" stroke="#472d7b" stroke-width="3.3" stroke-linecap="round"/>
<line x1="191.82" y1="130.80" x2="192.01" y2="130.95" stroke="#46327e" stroke-width="3.3" stroke-linecap="round"/>
<line x1="192.01" y1="130.95" x2="192.19" y2="131.12" stroke="#453781" stroke-width="3.3" stroke-linecap="round"/>
<line x1="192.19" y1="131.12" x2="192.35" y2="131.30" stroke="#443b84" stroke-width="3.3" stroke-linecap="round"/>
<line x1="192.35" y1="131.30" x2="192.50" y2="131.50" stroke="#424186" stroke-width="3.3" stroke-linecap="round"/>
<line x1="192.50" y1="131.50" x2="192.63" y2="131.70" stroke="#3f4788" stroke-width="3.3" stroke-linecap="round"/>
<line x1="192.63" y1="131.70" x2="192.76" y2="131.89" stroke="#3d4e8a" stroke-width="3.3" stroke-linecap="round"/>
<line x1="192.76" y1="131.89" x2="192.88" y2="132.07" stroke="#39558c" stroke-width="3.3" stroke-linecap="round"/>
<line x1="192.88" y1="132.07" x2="192.99" y2="132.27" stroke="#365c8d" stroke-width="3.3" stroke-linecap="round"/>
<line x1="192.99" y1="132.27" x2="193.10" y2="132.47" stroke="#33638d" stroke-width="3.3" stroke-linecap="round"/>
<line x1="193.10" y1="132.47" x2="193.21" y2="132.70" stroke="#30698e" stroke-width="3.3" stroke-linecap="round"/>
<line x1="193.21" y1="132.70" x2="193.30" y2="132.96" stroke="#2e6f8e" stroke-width="3.3" stroke-linecap="round"/>
<line x1="193.30" y1="132.96" x2="193.40" y2="133.26" stroke="#2b758e" stroke-width="3.3" stroke-linecap="round"/>
<line x1="193.40" y1="133.26" x2="193.48" y2="133.60" stroke="#297b8e" stroke-width="3.3" stroke-linecap="round"/>
<line x1="193.48" y1="133.60" x2="193.56" y2="134.00" stroke="#26828e" stroke-width="3.3" stroke-linecap="round"/>
<line x1="193.56" y1="134.00" x2="193.63" y2="134.46" stroke="#24878e" stroke-width="3.3" stroke-linecap="round"/>
<line x1="193.63" y1="134.46" x2="193.70" y2="135.00" stroke="#228d8d" stroke-width="3.3" stroke-linecap="round"/>
<line x1="193.70" y1="135.00" x2="193.76" y2="135.62" stroke="#21918c" stroke-width="3.3" stroke-linecap="round"/>
<line x1="193.76" y1="135.62" x2="193.80" y2="136.32" stroke="#20928c" stroke-width="3.3" stroke-linecap="round"/>
<line x1="193.80" y1="136.32" x2="193.84" y2="137.10" stroke="#1f948c" stroke-width="3.3" stroke-linecap="round"/>
<line x1="193.84" y1="137.10" x2="193.86" y2="137.93" stroke="#1f958b" stroke-width="3.3" stroke-linecap="round"/>
<line x1="193.86" y1="137.93" x2="193.88" y2="138.81" stroke="#1f978b" stroke-width="3.3" stroke-linecap="round"/>
<line x1="193.88" y1="138.81" x2="193.90" y2="139.73" stroke="#1f998a" stroke-width="3.3" stroke-linecap="round"/>
<line x1="193.90" y1="139.73" x2="193.91" y2="140.67" stroke="#1e9b8a" stroke-width="3.3" stroke-linecap="round"/>
<line x1="193.91" y1="140.67" x2="193.93" y2="141.62" stroke="#1e9c89" stroke-width="3.3" stroke-linecap="round"/>
<line x1="193.93" y1="141.62" x2="193.94" y2="142.57" stroke="#1f9e89" stroke-width="3.3" stroke-linecap="round"/>
<line x1="193.94" y1="142.57" x2="193.95" y2="143.51" stroke="#1fa088" stroke-width="3.3" stroke-linecap="round"/>
<line x1="193.95" y1="143.51" x2="193.97" y2="144.42" stroke="#1fa188" stroke-width="3.3" stroke-linecap="round"/>
<line x1="193.97" y1="144.42" x2="194.00" y2="145.30" stroke="#1fa287" stroke-width="3.3" stroke-linecap="round"/>
<line x1="194.00" y1="145.30" x2="194.03" y2="146.16" stroke="#20a486" stroke-width="3.3" stroke-linecap="round"/>
<line x1="194.03" y1="146.16" x2="194.06" y2="147.04" stroke="#21a585" stroke-width="3.3" stroke-linecap="round"/>
<line x1="194.06" y1="147.04" x2="194.10" y2="147.93" stroke="#21a685" stroke-width="3.3" stroke-linecap="round"/>
<line x1="194.10" y1="147.93" x2="194.13" y2="148.83" stroke="#22a785" stroke-width="3.3" stroke-linecap="round"/>
<line x1="194.13" y1="148.83" x2="194.16" y2="149.72" stroke="#23a983" stroke-width="3.3" stroke-linecap="round"/>
<line x1="194.16" y1="149.72" x2="194.20" y2="150.61" stroke="#24aa83" stroke-width="3.3" stroke-linecap="round"/>
<line x1="194.20" y1="150.61" x2="194.24" y2="151.49" stroke="#25ab82" stroke-width="3.3" stroke-linecap="round"/>
<line x1="194.24" y1="151.49" x2="194.27" y2="152.35" stroke="#26ad81" stroke-width="3.3" stroke-linecap="round"/>
<line x1="194.27" y1="152.35" x2="194.30" y2="153.18" stroke="#27ad81" stroke-width="3.3" stroke-linecap="round"/>
<line x1="194.30" y1="153.18" x2="194.34" y2="153.99" stroke="#28ae80" stroke-width="3.3" stroke-linecap="round"/>
<line x1="194.34" y1="153.99" x2="194.37" y2="154.77" stroke="#29af7f" stroke-width="3.3" stroke-linecap="round"/>
<line x1="194.37" y1="154.77" x2="194.40" y2="155.50" stroke="#2cb17e" stroke-width="3.3" stroke-linecap="round"/>
<line x1="194.40" y1="155.50" x2="194.42" y2="156.19" stroke="#2db27d" stroke-width="3.3" stroke-linecap="round"/>
<line x1="194.42" y1="156.19" x2="194.43" y2="156.84" stroke="#2fb47c" stroke-width="3.3" stroke-linecap="round"/>
<line x1="194.43" y1="156.84" x2="194.43" y2="157.46" stroke="#32b67a" stroke-width="3.3" stroke-linecap="round"/>
<line x1="194.43" y1="157.46" x2="194.43" y2="158.05" stroke="#34b679" stroke-width="3.3" stroke-linecap="round"/>
<line x1="194.43" y1="158.05" x2="194.43" y2="158.61" stroke="#37b878" stroke-width="3.3" stroke-linecap="round"/>
<line x1="194.43" y1="158.61" x2="194.43" y2="159.16" stroke="#3aba76" stroke-width="3.3" stroke-linecap="round"/>
<line x1="194.43" y1="159.16" x2="194.43" y2="159.70" stroke="#3bbb75" stroke-width="3.3" stroke-linecap="round"/>
<line x1="194.43" y1="159.70" x2="194.45" y2="160.23" stroke="#3fbc73" stroke-width="3.3" stroke-linecap="round"/>
<line x1="194.45" y1="160.23" x2="194.48" y2="160.76" stroke="#42be71" stroke-width="3.3" stroke-linecap="round"/>
<line x1="194.48" y1="160.76" x2="194.53" y2="161.29" stroke="#46c06f" stroke-width="3.3" stroke-linecap="round"/>
<line x1="194.53" y1="161.29" x2="194.60" y2="161.84" stroke="#48c16e" stroke-width="3.3" stroke-linecap="round"/>
<line x1="194.60" y1="161.84" x2="194.70" y2="162.40" stroke="#4cc26c" stroke-width="3.3" stroke-linecap="round"/>
<line x1="194.70" y1="162.40" x2="194.82" y2="162.98" stroke="#4ec36b" stroke-width="3.3" stroke-linecap="round"/>
<line x1="194.82" y1="162.98" x2="194.97" y2="163.56" stroke="#50c46a" stroke-width="3.3" stroke-linecap="round"/>
<line x1="194.97" y1="163.56" x2="195.13" y2="164.15" stroke="#52c569" stroke-width="3.3" stroke-linecap="round"/>
<line x1="195.13" y1="164.15" x2="195.31" y2="164.74" stroke="#56c667" stroke-width="3.3" stroke-linecap="round"/>
<line x1="195.31" y1="164.74" x2="195.50" y2="165.33" stroke="#58c765" stroke-width="3.3" stroke-linecap="round"/>
<line x1="195.50" y1="165.33" x2="195.71" y2="165.91" stroke="#5ac864" stroke-width="3.3" stroke-linecap="round"/>
<line x1="195.71" y1="165.91" x2="195.92" y2="166.49" stroke="#5cc863" stroke-width="3.3" stroke-linecap="round"/>
<line x1="195.92" y1="166.49" x2="196.15" y2="167.06" stroke="#5ec962" stroke-width="3.3" stroke-linecap="round"/>
<line x1="196.15" y1="167.06" x2="196.38" y2="167.62" stroke="#60ca60" stroke-width="3.3" stroke-linecap="round"/>
<line x1="196.38" y1="167.62" x2="196.62" y2="168.17" stroke="#63cb5f" stroke-width="3.3" stroke-linecap="round"/>
<line x1="196.62" y1="168.17" x2="196.86" y2="168.69" stroke="#65cb5e" stroke-width="3.3" stroke-linecap="round"/>
<line x1="196.86" y1="168.69" x2="197.10" y2="169.20" stroke="#67cc5c" stroke-width="3.3" stroke-linecap="round"/>
<line x1="197.10" y1="169.20" x2="197.34" y2="169.69" stroke="#69cd5b" stroke-width="3.3" stroke-linecap="round"/>
<line x1="197.34" y1="169.69" x2="197.59" y2="170.16" stroke="#6ece58" stroke-width="3.3" stroke-linecap="round"/>
<line x1="197.59" y1="170.16" x2="197.84" y2="170.61" stroke="#70cf57" stroke-width="3.3" stroke-linecap="round"/>
<line x1="197.84" y1="170.61" x2="198.09" y2="171.05" stroke="#75d054" stroke-width="3.3" stroke-linecap="round"/>
<line x1="198.09" y1="171.05" x2="198.35" y2="171.48" stroke="#77d153" stroke-width="3.3" stroke-linecap="round"/>
<line x1="198.35" y1="171.48" x2="198.62" y2="171.89" stroke="#7cd250" stroke-width="3.3" stroke-linecap="round"/>
<line x1="198.62" y1="171.89" x2="198.91" y2="172.30" stroke="#7fd34e" stroke-width="3.3" stroke-linecap="round"/>
<line x1="198.91" y1="172.30" x2="199.20" y2="172.71" stroke="#84d44b" stroke-width="3.3" stroke-linecap="round"/>
<line x1="199.20" y1="172.71" x2="199.50" y2="173.11" stroke="#86d549" stroke-width="3.3" stroke-linecap="round"/>
<line x1="199.50" y1="173.11" x2="199.82" y2="173.50" stroke="#8bd646" stroke-width="3.3" stroke-linecap="round"/>
<line x1="199.82" y1="173.50" x2="200.15" y2="173.90" stroke="#8ed645" stroke-width="3.3" stroke-linecap="round"/>
<line x1="200.15" y1="173.90" x2="200.50" y2="174.30" stroke="#93d741" stroke-width="3.3" stroke-linecap="round"/>
<line x1="200.50" y1="174.30" x2="200.87" y2="174.70" stroke="#95d840" stroke-width="3.3" stroke-linecap="round"/>
<line x1="200.87" y1="174.70" x2="201.26" y2="175.08" stroke="#98d83e" stroke-width="3.3" stroke-linecap="round"/>
<line x1="201.26" y1="175.08" x2="201.67" y2="175.46" stroke="#9bd93c" stroke-width="3.3" stroke-linecap="round"/>
<line x1="201.67" y1="175.46" x2="202.10" y2="175.84" stroke="#9dd93b" stroke-width="3.3" stroke-linecap="round"/>
<line x1="202.10" y1="175.84" x2="202.53" y2="176.21" stroke="#9dd93b" stroke-width="3.3" stroke-linecap="round"/>
<line x1="202.53" y1="176.21" x2="202.98" y2="176.58" stroke="#a0da39" stroke-width="3.3" stroke-linecap="round"/>
<line x1="202.98" y1="176.58" x2="203.44" y2="176.94" stroke="#a2da37" stroke-width="3.3" stroke-linecap="round"/>
<line x1="203.44" y1="176.94" x2="203.89" y2="177.31" stroke="#a5db36" stroke-width="3.3" stroke-linecap="round"/>
<line x1="203.89" y1="177.31" x2="204.35" y2="177.68" stroke="#a8db34" stroke-width="3.3" stroke-linecap="round"/>
<line x1="204.35" y1="177.68" x2="204.81" y2="178.05" stroke="#aadc32" stroke-width="3.3" stroke-linecap="round"/>
<line x1="204.81" y1="178.05" x2="205.26" y2="178.42" stroke="#addc30" stroke-width="3.3" stroke-linecap="round"/>
<line x1="205.26" y1="178.42" x2="205.70" y2="178.80" stroke="#addc30" stroke-width="3.3" stroke-linecap="round"/>
<line x1="205.70" y1="178.80" x2="206.14" y2="179.18" stroke="#b0dd2f" stroke-width="3.3" stroke-linecap="round"/>
<line x1="206.14" y1="179.18" x2="206.57" y2="179.55" stroke="#b2dd2d" stroke-width="3.3" stroke-linecap="round"/>
<line x1="206.57" y1="179.55" x2="207.00" y2="179.92" stroke="#b5de2b" stroke-width="3.3" stroke-linecap="round"/>
<line x1="207.00" y1="179.92" x2="207.43" y2="180.29" stroke="#bade28" stroke-width="3.3" stroke-linecap="round"/>
<line x1="207.43" y1="180.29" x2="207.87" y2="180.65" stroke="#bddf26" stroke-width="3.3" stroke-linecap="round"/>
<line x1="207.87" y1="180.65" x2="208.30" y2="181.03" stroke="#c0df25" stroke-width="3.3" stroke-linecap="round"/>
<line x1="208.30" y1="181.03" x2="208.74" y2="181.40" stroke="#c2df23" stroke-width="3.3" stroke-linecap="round"/>
<line x1="208.74" y1="181.40" x2="209.18" y2="181.79" stroke="#c5e021" stroke-width="3.3" stroke-linecap="round"/>
<line x1="209.18" y1="181.79" x2="209.62" y2="182.19" stroke="#c8e020" stroke-width="3.3" stroke-linecap="round"/>
<line x1="209.62" y1="182.19" x2="210.07" y2="182.61" stroke="#cae11f" stroke-width="3.3" stroke-linecap="round"/>
<line x1="210.07" y1="182.61" x2="210.53" y2="183.04" stroke="#cde11d" stroke-width="3.3" stroke-linecap="round"/>
<line x1="210.53" y1="183.04" x2="211.00" y2="183.50" stroke="#d0e11c" stroke-width="3.3" stroke-linecap="round"/>
<line x1="211.00" y1="183.50" x2="211.48" y2="183.97" stroke="#d2e21b" stroke-width="3.3" stroke-linecap="round"/>
<line x1="211.48" y1="183.97" x2="211.96" y2="184.46" stroke="#d5e21a" stroke-width="3.3" stroke-linecap="round"/>
<line x1="211.96" y1="184.46" x2="212.45" y2="184.96" stroke="#d8e219" stroke-width="3.3" stroke-linecap="round"/>
<line x1="212.45" y1="184.96" x2="212.95" y2="185.48" stroke="#dae319" stroke-width="3.3" stroke-linecap="round"/>
<line x1="212.95" y1="185.48" x2="213.45" y2="186.00" stroke="#dae319" stroke-width="3.3" stroke-linecap="round"/>
<line x1="213.45" y1="186.00" x2="213.96" y2="186.54" stroke="#dde318" stroke-width="3.3" stroke-linecap="round"/>
<line x1="213.96" y1="186.54" x2="214.46" y2="187.09" stroke="#dfe318" stroke-width="3.3" stroke-linecap="round"/>
<line x1="214.46" y1="187.09" x2="214.97" y2="187.66" stroke="#e2e418" stroke-width="3.3" stroke-linecap="round"/>
<line x1="214.97" y1="187.66" x2="215.48" y2="188.23" stroke="#e5e419" stroke-width="3.3" stroke-linecap="round"/>
<line x1="215.48" y1="188.23" x2="215.99" y2="188.81" stroke="#e7e419" stroke-width="3.3" stroke-linecap="round"/>
<line x1="215.99" y1="188.81" x2="216.50" y2="189.40" stroke="#eae51a" stroke-width="3.3" stroke-linecap="round"/>
<line x1="216.50" y1="189.40" x2="217.00" y2="190.00" stroke="#eae51a" stroke-width="3.3" stroke-linecap="round"/>
<line x1="217.00" y1="190.00" x2="217.50" y2="190.61" stroke="#ece51b" stroke-width="3.3" stroke-linecap="round"/>
<line x1="217.50" y1="190.61" x2="218.00" y2="191.24" stroke="#efe51c" stroke-width="3.3" stroke-linecap="round"/>
<line x1="218.00" y1="191.24" x2="218.50" y2="191.88" stroke="#efe51c" stroke-width="3.3" stroke-linecap="round"/>
<line x1="218.50" y1="191.88" x2="219.00" y2="192.54" stroke="#f1e51d" stroke-width="3.3" stroke-linecap="round"/>
<line x1="219.00" y1="192.54" x2="219.50" y2="193.20" stroke="#f4e61e" stroke-width="3.3" stroke-linecap="round"/>
<line x1="219.50" y1="193.20" x2="220.00" y2="193.88" stroke="#f4e61e" stroke-width="3.3" stroke-linecap="round"/>
<line x1="220.00" y1="193.88" x2="220.50" y2="194.56" stroke="#f6e620" stroke-width="3.3" stroke-linecap="round"/>
<line x1="220.50" y1="194.56" x2="221.00" y2="195.24" stroke="#f8e621" stroke-width="3.3" stroke-linecap="round"/>
<line x1="221.00" y1="195.24" x2="221.50" y2="195.93" stroke="#f8e621" stroke-width="3.3" stroke-linecap="round"/>
<line x1="221.50" y1="195.93" x2="222.00" y2="196.62" stroke="#fbe723" stroke-width="3.3" stroke-linecap="round"/>
<line x1="222.00" y1="196.62" x2="222.50" y2="197.31" stroke="#fde725" stroke-width="3.3" stroke-linecap="round"/>
<line x1="222.50" y1="197.31" x2="223.00" y2="198.00" stroke="#fde725" stroke-width="3.3" stroke-linecap="round"/>
<line x1="223.00" y1="198.00" x2="223.50" y2="198.70" stroke="#fde725" stroke-width="3.3" stroke-linecap="round"/>
<line x1="223.50" y1="198.70" x2="224.00" y2="199.41" stroke="#fde725" stroke-width="3.3" stroke-linecap="round"/>
<line x1="224.00" y1="199.41" x2="224.50" y2="200.14" stroke="#fde725" stroke-width="3.3" stroke-linecap="round"/>
<line x1="224.50" y1="200.14" x2="225.00" y2="200.87" stroke="#fde725" stroke-width="3.3" stroke-linecap="round"/>
<line x1="225.00" y1="200.87" x2="225.50" y2="201.61" stroke="#fde725" stroke-width="3.3" stroke-linecap="round"/>
<line x1="225.50" y1="201.61" x2="226.00" y2="202.34" stroke="#fde725" stroke-width="3.3" stroke-linecap="round"/>
<line x1="226.00" y1="202.34" x2="226.50" y2="203.07" stroke="#fde725" stroke-width="3.3" stroke-linecap="round"/>
<line x1="226.50" y1="203.07" x2="227.00" y2="203.80" stroke="#fde725" stroke-width="3.3" stroke-linecap="round"/>
<line x1="227.00" y1="203.80" x2="227.50" y2="204.50" stroke="#fde725" stroke-width="3.3" stroke-linecap="round"/>
<line x1="227.50" y1="204.50" x2="228.00" y2="205.19" stroke="#fde725" stroke-width="3.3" stroke-linecap="round"/>
<line x1="228.00" y1="205.19" x2="228.50" y2="205.86" stroke="#fde725" stroke-width="3.3" stroke-linecap="round"/>
<line x1="228.50" y1="205.86" x2="229.00" y2="206.50" stroke="#fde725" stroke-width="3.3" stroke-linecap="round"/>
<line x1="229.00" y1="206.50" x2="229.50" y2="207.11" stroke="#fde725" stroke-width="3.3" stroke-linecap="round"/>
<line x1="229.50" y1="207.11" x2="230.00" y2="207.71" stroke="#fde725" stroke-width="3.3" stroke-linecap="round"/>
<line x1="230.00" y1="207.71" x2="230.49" y2="208.28" stroke="#fde725" stroke-width="3.3" stroke-linecap="round"/>
<line x1="230.49" y1="208.28" x2="230.99" y2="208.84" stroke="#fde725" stroke-width="3.3" stroke-linecap="round"/>
<line x1="230.99" y1="208.84" x2="231.48" y2="209.39" stroke="#fde725" stroke-width="3.3" stroke-linecap="round"/>
<line x1="231.48" y1="209.39" x2="231.98" y2="209.92" stroke="#fde725" stroke-width="3.3" stroke-linecap="round"/>
<line x1="231.98" y1="209.92" x2="232.48" y2="210.45" stroke="#fde725" stroke-width="3.3" stroke-linecap="round"/>
<line x1="232.48" y1="210.45" x2="232.98" y2="210.97" stroke="#fde725" stroke-width="3.3" stroke-linecap="round"/>
<line x1="232.98" y1="210.97" x2="233.48" y2="211.48" stroke="#fde725" stroke-width="3.3" stroke-linecap="round"/>
<line x1="233.48" y1="211.48" x2="233.98" y2="211.99" stroke="#fde725" stroke-width="3.3" stroke-linecap="round"/>
<line x1="233.98" y1="211.99" x2="234.49" y2="212.49" stroke="#fde725" stroke-width="3.3" stroke-linecap="round"/>
<line x1="234.49" y1="212.49" x2="235.00" y2="213.00" stroke="#fde725" stroke-width="3.3" stroke-linecap="round"/>
<line x1="235.00" y1="213.00" x2="235.52" y2="213.51" stroke="#fde725" stroke-width="3.3" stroke-linecap="round"/>
<line x1="235.52" y1="213.51" x2="236.05" y2="214.01" stroke="#fde725" stroke-width="3.3" stroke-linecap="round"/>
<line x1="236.05" y1="214.01" x2="236.58" y2="214.51" stroke="#fde725" stroke-width="3.3" stroke-linecap="round"/>
<line x1="236.58" y1="214.51" x2="237.12" y2="215.01" stroke="#fde725" stroke-width="3.3" stroke-linecap="round"/>
<line x1="237.12" y1="215.01" x2="237.66" y2="215.50" stroke="#fde725" stroke-width="3.3" stroke-linecap="round"/>
<line x1="237.66" y1="215.50" x2="238.20" y2="215.99" stroke="#fde725" stroke-width="3.3" stroke-linecap="round"/>
<line x1="238.20" y1="215.99" x2="238.74" y2="216.46" stroke="#fde725" stroke-width="3.3" stroke-linecap="round"/>
<line x1="238.74" y1="216.46" x2="239.27" y2="216.93" stroke="#fde725" stroke-width="3.3" stroke-linecap="round"/>
<line x1="239.27" y1="216.93" x2="239.80" y2="217.39" stroke="#fde725" stroke-width="3.3" stroke-linecap="round"/>
<line x1="239.80" y1="217.39" x2="240.31" y2="217.84" stroke="#fde725" stroke-width="3.3" stroke-linecap="round"/>
<line x1="240.31" y1="217.84" x2="240.81" y2="218.28" stroke="#fde725" stroke-width="3.3" stroke-linecap="round"/>
<line x1="240.81" y1="218.28" x2="241.30" y2="218.70" stroke="#fde725" stroke-width="3.3" stroke-linecap="round"/>
<line x1="241.30" y1="218.70" x2="241.78" y2="219.10" stroke="#fde725" stroke-width="3.3" stroke-linecap="round"/>
<line x1="241.78" y1="219.10" x2="242.26" y2="219.47" stroke="#fde725" stroke-width="3.3" stroke-linecap="round"/>
<line x1="242.26" y1="219.47" x2="242.73" y2="219.81" stroke="#fde725" stroke-width="3.3" stroke-linecap="round"/>
<line x1="242.73" y1="219.81" x2="243.20" y2="220.14" stroke="#fde725" stroke-width="3.3" stroke-linecap="round"/>
<line x1="243.20" y1="220.14" x2="243.66" y2="220.45" stroke="#fde725" stroke-width="3.3" stroke-linecap="round"/>
<line x1="243.66" y1="220.45" x2="244.11" y2="220.77" stroke="#fde725" stroke-width="3.3" stroke-linecap="round"/>
<line x1="244.11" y1="220.77" x2="244.54" y2="221.09" stroke="#fde725" stroke-width="3.3" stroke-linecap="round"/>
<line x1="244.54" y1="221.09" x2="244.97" y2="221.42" stroke="#fde725" stroke-width="3.3" stroke-linecap="round"/>
<line x1="244.97" y1="221.42" x2="245.38" y2="221.77" stroke="#fde725" stroke-width="3.3" stroke-linecap="round"/>
<line x1="245.38" y1="221.77" x2="245.77" y2="222.14" stroke="#fde725" stroke-width="3.3" stroke-linecap="round"/>
<line x1="245.77" y1="222.14" x2="246.15" y2="222.55" stroke="#fde725" stroke-width="3.3" stroke-linecap="round"/>
<line x1="246.15" y1="222.55" x2="246.50" y2="223.00" stroke="#fde725" stroke-width="3.3" stroke-linecap="round"/>
<line x1="246.50" y1="223.00" x2="246.83" y2="223.49" stroke="#fde725" stroke-width="3.3" stroke-linecap="round"/>
<line x1="246.83" y1="223.49" x2="247.14" y2="224.00" stroke="#fde725" stroke-width="3.3" stroke-linecap="round"/>
<line x1="247.14" y1="224.00" x2="247.44" y2="224.54" stroke="#fde725" stroke-width="3.3" stroke-linecap="round"/>
<line x1="247.44" y1="224.54" x2="247.72" y2="225.10" stroke="#fde725" stroke-width="3.3" stroke-linecap="round"/>
<line x1="247.72" y1="225.10" x2="247.98" y2="225.67" stroke="#fde725" stroke-width="3.3" stroke-linecap="round"/>
<line x1="247.98" y1="225.67" x2="248.23" y2="226.27" stroke="#fde725" stroke-width="3.3" stroke-linecap="round"/>
<line x1="248.23" y1="226.27" x2="248.47" y2="226.88" stroke="#fde725" stroke-width="3.3" stroke-linecap="round"/>
<line x1="248.47" y1="226.88" x2="248.69" y2="227.49" stroke="#fde725" stroke-width="3.3" stroke-linecap="round"/>
<line x1="248.69" y1="227.49" x2="248.91" y2="228.12" stroke="#fde725" stroke-width="3.3" stroke-linecap="round"/>
<line x1="248.91" y1="228.12" x2="249.11" y2="228.74" stroke="#fde725" stroke-width="3.3" stroke-linecap="round"/>
<line x1="249.11" y1="228.74" x2="249.31" y2="229.37" stroke="#fde725" stroke-width="3.3" stroke-linecap="round"/>
<line x1="249.31" y1="229.37" x2="249.50" y2="230.00" stroke="#fde725" stroke-width="3.3" stroke-linecap="round"/>
<line x1="249.50" y1="230.00" x2="249.68" y2="230.64" stroke="#fde725" stroke-width="3.3" stroke-linecap="round"/>
<line x1="249.68" y1="230.64" x2="249.84" y2="231.30" stroke="#fde725" stroke-width="3.3" stroke-linecap="round"/>
<line x1="249.84" y1="231.30" x2="249.98" y2="231.98" stroke="#fde725" stroke-width="3.3" stroke-linecap="round"/>
<line x1="249.98" y1="231.98" x2="250.11" y2="232.67" stroke="#fde725" stroke-width="3.3" stroke-linecap="round"/>
<line x1="250.11" y1="232.67" x2="250.23" y2="233.36" stroke="#fde725" stroke-width="3.3" stroke-linecap="round"/>
<line x1="250.23" y1="233.36" x2="250.34" y2="234.06" stroke="#fde725" stroke-width="3.3" stroke-linecap="round"/>
<line x1="250.34" y1="234.06" x2="250.45" y2="234.76" stroke="#fde725" stroke-width="3.3" stroke-linecap="round"/>
<line x1="250.45" y1="234.76" x2="250.56" y2="235.44" stroke="#fde725" stroke-width="3.3" stroke-linecap="round"/>
<line x1="250.56" y1="235.44" x2="250.66" y2="236.12" stroke="#fde725" stroke-width="3.3" stroke-linecap="round"/>
<line x1="250.66" y1="236.12" x2="250.77" y2="236.77" stroke="#fde725" stroke-width="3.3" stroke-linecap="round"/>
<line x1="250.77" y1="236.77" x2="250.88" y2="237.40" stroke="#fde725" stroke-width="3.3" stroke-linecap="round"/>
<line x1="250.88" y1="237.40" x2="251.00" y2="238.00" stroke="#fde725" stroke-width="3.3" stroke-linecap="round"/>
<line x1="251.00" y1="238.00" x2="251.13" y2="238.59" stroke="#fde725" stroke-width="3.3" stroke-linecap="round"/>
<line x1="251.13" y1="238.59" x2="251.27" y2="239.19" stroke="#fde725" stroke-width="3.3" stroke-linecap="round"/>
<line x1="251.27" y1="239.19" x2="251.41" y2="239.78" stroke="#fde725" stroke-width="3.3" stroke-linecap="round"/>
<line x1="251.41" y1="239.78" x2="251.56" y2="240.37" stroke="#fde725" stroke-width="3.3" stroke-linecap="round"/>
<line x1="251.56" y1="240.37" x2="251.70" y2="240.95" stroke="#fde725" stroke-width="3.3" stroke-linecap="round"/>
<line x1="251.70" y1="240.95" x2="251.84" y2="241.50" stroke="#fde725" stroke-width="3.3" stroke-linecap="round"/>
<line x1="251.84" y1="241.50" x2="251.98" y2="242.03" stroke="#fde725" stroke-width="3.3" stroke-linecap="round"/>
<line x1="251.98" y1="242.03" x2="252.11" y2="242.52" stroke="#fde725" stroke-width="3.3" stroke-linecap="round"/>
<line x1="252.11" y1="242.52" x2="252.23" y2="242.97" stroke="#fde725" stroke-width="3.3" stroke-linecap="round"/>
<line x1="252.23" y1="242.97" x2="252.34" y2="243.37" stroke="#fde725" stroke-width="3.3" stroke-linecap="round"/>
<line x1="252.34" y1="243.37" x2="252.43" y2="243.72" stroke="#fde725" stroke-width="3.3" stroke-linecap="round"/>
<line x1="252.43" y1="243.72" x2="252.50" y2="244.00" stroke="#fde725" stroke-width="3.3" stroke-linecap="round"/>
<line x1="238.70" y1="396.00" x2="238.63" y2="396.58" stroke="#440256" stroke-width="3.3" stroke-linecap="round"/>
<line x1="238.63" y1="396.58" x2="238.54" y2="397.30" stroke="#450559" stroke-width="3.3" stroke-linecap="round"/>
<line x1="238.54" y1="397.30" x2="238.43" y2="398.15" stroke="#460a5d" stroke-width="3.3" stroke-linecap="round"/>
<line x1="238.43" y1="398.15" x2="238.31" y2="399.10" stroke="#470d60" stroke-width="3.3" stroke-linecap="round"/>
<line x1="238.31" y1="399.10" x2="238.18" y2="400.14" stroke="#471164" stroke-width="3.3" stroke-linecap="round"/>
<line x1="238.18" y1="400.14" x2="238.04" y2="401.24" stroke="#481668" stroke-width="3.3" stroke-linecap="round"/>
<line x1="238.04" y1="401.24" x2="237.90" y2="402.38" stroke="#48186a" stroke-width="3.3" stroke-linecap="round"/>
<line x1="237.90" y1="402.38" x2="237.76" y2="403.54" stroke="#481c6e" stroke-width="3.3" stroke-linecap="round"/>
<line x1="237.76" y1="403.54" x2="237.63" y2="404.70" stroke="#481f70" stroke-width="3.3" stroke-linecap="round"/>
<line x1="237.63" y1="404.70" x2="237.50" y2="405.85" stroke="#482374" stroke-width="3.3" stroke-linecap="round"/>
<line x1="237.50" y1="405.85" x2="237.39" y2="406.95" stroke="#482576" stroke-width="3.3" stroke-linecap="round"/>
<line x1="237.39" y1="406.95" x2="237.30" y2="408.00" stroke="#482979" stroke-width="3.3" stroke-linecap="round"/>
<line x1="237.30" y1="408.00" x2="237.22" y2="409.00" stroke="#472c7a" stroke-width="3.3" stroke-linecap="round"/>
<line x1="237.22" y1="409.00" x2="237.16" y2="409.97" stroke="#472e7c" stroke-width="3.3" stroke-linecap="round"/>
<line x1="237.16" y1="409.97" x2="237.11" y2="410.93" stroke="#46327e" stroke-width="3.3" stroke-linecap="round"/>
<line x1="237.11" y1="410.93" x2="237.07" y2="411.88" stroke="#463480" stroke-width="3.3" stroke-linecap="round"/>
<line x1="237.07" y1="411.88" x2="237.03" y2="412.84" stroke="#453781" stroke-width="3.3" stroke-linecap="round"/>
<line x1="237.03" y1="412.84" x2="236.99" y2="413.80" stroke="#443983" stroke-width="3.3" stroke-linecap="round"/>
<line x1="236.99" y1="413.80" x2="236.96" y2="414.78" stroke="#443b84" stroke-width="3.3" stroke-linecap="round"/>
<line x1="236.96" y1="414.78" x2="236.92" y2="415.79" stroke="#433e85" stroke-width="3.3" stroke-linecap="round"/>
<line x1="236.92" y1="415.79" x2="236.88" y2="416.82" stroke="#424086" stroke-width="3.3" stroke-linecap="round"/>
<line x1="236.88" y1="416.82" x2="236.83" y2="417.90" stroke="#414287" stroke-width="3.3" stroke-linecap="round"/>
<line x1="236.83" y1="417.90" x2="236.77" y2="419.02" stroke="#404688" stroke-width="3.3" stroke-linecap="round"/>
<line x1="236.77" y1="419.02" x2="236.70" y2="420.20" stroke="#3f4889" stroke-width="3.3" stroke-linecap="round"/>
<line x1="236.70" y1="420.20" x2="236.62" y2="421.45" stroke="#3e4a89" stroke-width="3.3" stroke-linecap="round"/>
<line x1="236.62" y1="421.45" x2="236.52" y2="422.78" stroke="#3d4e8a" stroke-width="3.3" stroke-linecap="round"/>
<line x1="236.52" y1="422.78" x2="236.42" y2="424.17" stroke="#3b518b" stroke-width="3.3" stroke-linecap="round"/>
<line x1="236.42" y1="424.17" x2="236.31" y2="425.60" stroke="#3a548c" stroke-width="3.3" stroke-linecap="round"/>
<line x1="236.31" y1="425.60" x2="236.20" y2="427.07" stroke="#38588c" stroke-width="3.3" stroke-linecap="round"/>
<line x1="236.20" y1="427.07" x2="236.08" y2="428.55" stroke="#375b8d" stroke-width="3.3" stroke-linecap="round"/>
<line x1="236.08" y1="428.55" x2="235.96" y2="430.04" stroke="#355e8d" stroke-width="3.3" stroke-linecap="round"/>
<line x1="235.96" y1="430.04" x2="235.84" y2="431.51" stroke="#34618d" stroke-width="3.3" stroke-linecap="round"/>
<line x1="235.84" y1="431.51" x2="235.73" y2="432.96" stroke="#32648e" stroke-width="3.3" stroke-linecap="round"/>
<line x1="235.73" y1="432.96" x2="235.61" y2="434.37" stroke="#31678e" stroke-width="3.3" stroke-linecap="round"/>
<line x1="235.61" y1="434.37" x2="235.50" y2="435.72" stroke="#306a8e" stroke-width="3.3" stroke-linecap="round"/>
<line x1="235.50" y1="435.72" x2="235.40" y2="437.00" stroke="#2e6d8e" stroke-width="3.3" stroke-linecap="round"/>
<line x1="235.40" y1="437.00" x2="235.30" y2="438.22" stroke="#2d708e" stroke-width="3.3" stroke-linecap="round"/>
<line x1="235.30" y1="438.22" x2="235.20" y2="439.40" stroke="#2c728e" stroke-width="3.3" stroke-linecap="round"/>
<line x1="235.20" y1="439.40" x2="235.10" y2="440.54" stroke="#2b748e" stroke-width="3.3" stroke-linecap="round"/>
<line x1="235.10" y1="440.54" x2="235.00" y2="441.65" stroke="#2a778e" stroke-width="3.3" stroke-linecap="round"/>
<line x1="235.00" y1="441.65" x2="234.90" y2="442.74" stroke="#29798e" stroke-width="3.3" stroke-linecap="round"/>
<line x1="234.90" y1="442.74" x2="234.81" y2="443.80" stroke="#287c8e" stroke-width="3.3" stroke-linecap="round"/>
<line x1="234.81" y1="443.80" x2="234.71" y2="444.85" stroke="#277e8e" stroke-width="3.3" stroke-linecap="round"/>
<line x1="234.71" y1="444.85" x2="234.62" y2="445.88" stroke="#26818e" stroke-width="3.3" stroke-linecap="round"/>
<line x1="234.62" y1="445.88" x2="234.54" y2="446.91" stroke="#26828e" stroke-width="3.3" stroke-linecap="round"/>
<line x1="234.54" y1="446.91" x2="234.45" y2="447.94" stroke="#25858e" stroke-width="3.3" stroke-linecap="round"/>
<line x1="234.45" y1="447.94" x2="234.37" y2="448.96" stroke="#23888e" stroke-width="3.3" stroke-linecap="round"/>
<line x1="234.37" y1="448.96" x2="234.30" y2="450.00" stroke="#238a8d" stroke-width="3.3" stroke-linecap="round"/>
<line x1="234.30" y1="450.00" x2="234.23" y2="451.03" stroke="#228d8d" stroke-width="3.3" stroke-linecap="round"/>
<line x1="234.23" y1="451.03" x2="234.17" y2="452.05" stroke="#218f8d" stroke-width="3.3" stroke-linecap="round"/>
<line x1="234.17" y1="452.05" x2="234.11" y2="453.05" stroke="#20928c" stroke-width="3.3" stroke-linecap="round"/>
<line x1="234.11" y1="453.05" x2="234.06" y2="454.04" stroke="#20938c" stroke-width="3.3" stroke-linecap="round"/>
<line x1="234.06" y1="454.04" x2="234.01" y2="455.02" stroke="#1f968b" stroke-width="3.3" stroke-linecap="round"/>
<line x1="234.01" y1="455.02" x2="233.96" y2="456.00" stroke="#1f988b" stroke-width="3.3" stroke-linecap="round"/>
<line x1="233.96" y1="456.00" x2="233.92" y2="456.98" stroke="#1e9b8a" stroke-width="3.3" stroke-linecap="round"/>
<line x1="233.92" y1="456.98" x2="233.87" y2="457.96" stroke="#1f9e89" stroke-width="3.3" stroke-linecap="round"/>
<line x1="233.87" y1="457.96" x2="233.83" y2="458.95" stroke="#1fa088" stroke-width="3.3" stroke-linecap="round"/>
<line x1="233.83" y1="458.95" x2="233.79" y2="459.95" stroke="#1fa287" stroke-width="3.3" stroke-linecap="round"/>
<line x1="233.79" y1="459.95" x2="233.74" y2="460.97" stroke="#20a486" stroke-width="3.3" stroke-linecap="round"/>
<line x1="233.74" y1="460.97" x2="233.70" y2="462.00" stroke="#22a785" stroke-width="3.3" stroke-linecap="round"/>
<line x1="233.70" y1="462.00" x2="233.65" y2="463.05" stroke="#23a983" stroke-width="3.3" stroke-linecap="round"/>
<line x1="233.65" y1="463.05" x2="233.61" y2="464.12" stroke="#25ab82" stroke-width="3.3" stroke-linecap="round"/>
<line x1="233.61" y1="464.12" x2="233.56" y2="465.20" stroke="#26ad81" stroke-width="3.3" stroke-linecap="round"/>
<line x1="233.56" y1="465.20" x2="233.52" y2="466.29" stroke="#29af7f" stroke-width="3.3" stroke-linecap="round"/>
<line x1="233.52" y1="466.29" x2="233.47" y2="467.39" stroke="#2cb17e" stroke-width="3.3" stroke-linecap="round"/>
<line x1="233.47" y1="467.39" x2="233.43" y2="468.49" stroke="#2eb37c" stroke-width="3.3" stroke-linecap="round"/>
<line x1="233.43" y1="468.49" x2="233.39" y2="469.59" stroke="#31b57b" stroke-width="3.3" stroke-linecap="round"/>
<line x1="233.39" y1="469.59" x2="233.35" y2="470.69" stroke="#34b679" stroke-width="3.3" stroke-linecap="round"/>
<line x1="233.35" y1="470.69" x2="233.31" y2="471.78" stroke="#37b878" stroke-width="3.3" stroke-linecap="round"/>
<line x1="233.31" y1="471.78" x2="233.27" y2="472.87" stroke="#3aba76" stroke-width="3.3" stroke-linecap="round"/>
<line x1="233.27" y1="472.87" x2="233.23" y2="473.94" stroke="#3fbc73" stroke-width="3.3" stroke-linecap="round"/>
<line x1="233.23" y1="473.94" x2="233.20" y2="475.00" stroke="#42be71" stroke-width="3.3" stroke-linecap="round"/>
<line x1="233.20" y1="475.00" x2="233.17" y2="476.06" stroke="#46c06f" stroke-width="3.3" stroke-linecap="round"/>
<line x1="233.17" y1="476.06" x2="233.13" y2="477.14" stroke="#48c16e" stroke-width="3.3" stroke-linecap="round"/>
<line x1="233.13" y1="477.14" x2="233.09" y2="478.23" stroke="#4cc26c" stroke-width="3.3" stroke-linecap="round"/>
<line x1="233.09" y1="478.23" x2="233.05" y2="479.33" stroke="#50c46a" stroke-width="3.3" stroke-linecap="round"/>
<line x1="233.05" y1="479.33" x2="233.02" y2="480.41" stroke="#52c569" stroke-width="3.3" stroke-linecap="round"/>
<line x1="233.02" y1="480.41" x2="232.98" y2="481.49" stroke="#56c667" stroke-width="3.3" stroke-linecap="round"/>
<line x1="232.98" y1="481.49" x2="232.95" y2="482.54" stroke="#5ac864" stroke-width="3.3" stroke-linecap="round"/>
<line x1="232.95" y1="482.54" x2="232.93" y2="483.56" stroke="#5ec962" stroke-width="3.3" stroke-linecap="round"/>
<line x1="232.93" y1="483.56" x2="232.91" y2="484.55" stroke="#60ca60" stroke-width="3.3" stroke-linecap="round"/>
<line x1="232.91" y1="484.55" x2="232.90" y2="485.49" stroke="#65cb5e" stroke-width="3.3" stroke-linecap="round"/>
<line x1="232.90" y1="485.49" x2="232.89" y2="486.37" stroke="#69cd5b" stroke-width="3.3" stroke-linecap="round"/>
<line x1="232.89" y1="486.37" x2="232.90" y2="487.20" stroke="#6ccd5a" stroke-width="3.3" stroke-linecap="round"/>
<line x1="232.90" y1="487.20" x2="232.91" y2="487.97" stroke="#70cf57" stroke-width="3.3" stroke-linecap="round"/>
<line x1="232.91" y1="487.97" x2="232.93" y2="488.68" stroke="#73d056" stroke-width="3.3" stroke-linecap="round"/>
<line x1="232.93" y1="488.68" x2="232.95" y2="489.36" stroke="#75d054" stroke-width="3.3" stroke-linecap="round"/>
<line x1="232.95" y1="489.36" x2="232.98" y2="489.99" stroke="#7ad151" stroke-width="3.3" stroke-linecap="round"/>
<line x1="232.98" y1="489.99" x2="233.02" y2="490.58" stroke="#7cd250" stroke-width="3.3" stroke-linecap="round"/>
<line x1="233.02" y1="490.58" x2="233.06" y2="491.14" stroke="#7fd34e" stroke-width="3.3" stroke-linecap="round"/>
<line x1="233.06" y1="491.14" x2="233.11" y2="491.67" stroke="#84d44b" stroke-width="3.3" stroke-linecap="round"/>
<line x1="233.11" y1="491.67" x2="233.16" y2="492.18" stroke="#86d549" stroke-width="3.3" stroke-linecap="round"/>
<line x1="233.16" y1="492.18" x2="233.23" y2="492.66" stroke="#89d548" stroke-width="3.3" stroke-linecap="round"/>
<line x1="233.23" y1="492.66" x2="233.31" y2="493.12" stroke="#8bd646" stroke-width="3.3" stroke-linecap="round"/>
<line x1="233.31" y1="493.12" x2="233.40" y2="493.57" stroke="#90d743" stroke-width="3.3" stroke-linecap="round"/>
<line x1="233.40" y1="493.57" x2="233.50" y2="494.00" stroke="#93d741" stroke-width="3.3" stroke-linecap="round"/>
<line x1="233.50" y1="494.00" x2="233.61" y2="494.44" stroke="#95d840" stroke-width="3.3" stroke-linecap="round"/>
<line x1="233.61" y1="494.44" x2="233.72" y2="494.90" stroke="#98d83e" stroke-width="3.3" stroke-linecap="round"/>
<line x1="233.72" y1="494.90" x2="233.84" y2="495.36" stroke="#9dd93b" stroke-width="3.3" stroke-linecap="round"/>
<line x1="233.84" y1="495.36" x2="233.97" y2="495.82" stroke="#a0da39" stroke-width="3.3" stroke-linecap="round"/>
<line x1="233.97" y1="495.82" x2="234.11" y2="496.25" stroke="#a2da37" stroke-width="3.3" stroke-linecap="round"/>
<line x1="234.11" y1="496.25" x2="234.26" y2="496.64" stroke="#a8db34" stroke-width="3.3" stroke-linecap="round"/>
<line x1="234.26" y1="496.64" x2="234.42" y2="496.99" stroke="#aadc32" stroke-width="3.3" stroke-linecap="round"/>
<line x1="234.42" y1="496.99" x2="234.60" y2="497.27" stroke="#addc30" stroke-width="3.3" stroke-linecap="round"/>
<line x1="234.60" y1="497.27" x2="234.79" y2="497.48" stroke="#b0dd2f" stroke-width="3.3" stroke-linecap="round"/>
<line x1="234.79" y1="497.48" x2="235.01" y2="497.59" stroke="#b5de2b" stroke-width="3.3" stroke-linecap="round"/>
<line x1="235.01" y1="497.59" x2="235.24" y2="497.60" stroke="#b8de29" stroke-width="3.3" stroke-linecap="round"/>
<line x1="235.24" y1="497.60" x2="235.50" y2="497.50" stroke="#bade28" stroke-width="3.3" stroke-linecap="round"/>
<line x1="235.50" y1="497.50" x2="235.79" y2="497.26" stroke="#c0df25" stroke-width="3.3" stroke-linecap="round"/>
<line x1="235.79" y1="497.26" x2="236.11" y2="496.89" stroke="#c2df23" stroke-width="3.3" stroke-linecap="round"/>
<line x1="236.11" y1="496.89" x2="236.45" y2="496.41" stroke="#c8e020" stroke-width="3.3" stroke-linecap="round"/>
<line x1="236.45" y1="496.41" x2="236.81" y2="495.83" stroke="#cae11f" stroke-width="3.3" stroke-linecap="round"/>
<line x1="236.81" y1="495.83" x2="237.20" y2="495.18" stroke="#d0e11c" stroke-width="3.3" stroke-linecap="round"/>
<line x1="237.20" y1="495.18" x2="237.59" y2="494.47" stroke="#d2e21b" stroke-width="3.3" stroke-linecap="round"/>
<line x1="237.59" y1="494.47" x2="238.00" y2="493.72" stroke="#d8e219" stroke-width="3.3" stroke-linecap="round"/>
<line x1="238.00" y1="493.72" x2="238.41" y2="492.94" stroke="#dae319" stroke-width="3.3" stroke-linecap="round"/>
<line x1="238.41" y1="492.94" x2="238.82" y2="492.17" stroke="#dfe318" stroke-width="3.3" stroke-linecap="round"/>
<line x1="238.82" y1="492.17" x2="239.22" y2="491.41" stroke="#e2e418" stroke-width="3.3" stroke-linecap="round"/>
<line x1="239.22" y1="491.41" x2="239.62" y2="490.68" stroke="#e7e419" stroke-width="3.3" stroke-linecap="round"/>
<line x1="239.62" y1="490.68" x2="240.00" y2="490.00" stroke="#eae51a" stroke-width="3.3" stroke-linecap="round"/>
<line x1="240.00" y1="490.00" x2="240.37" y2="489.35" stroke="#ece51b" stroke-width="3.3" stroke-linecap="round"/>
<line x1="240.37" y1="489.35" x2="240.73" y2="488.68" stroke="#efe51c" stroke-width="3.3" stroke-linecap="round"/>
<line x1="240.73" y1="488.68" x2="241.09" y2="488.01" stroke="#efe51c" stroke-width="3.3" stroke-linecap="round"/>
<line x1="241.09" y1="488.01" x2="241.44" y2="487.33" stroke="#f1e51d" stroke-width="3.3" stroke-linecap="round"/>
<line x1="241.44" y1="487.33" x2="241.80" y2="486.65" stroke="#f4e61e" stroke-width="3.3" stroke-linecap="round"/>
<line x1="241.80" y1="486.65" x2="242.16" y2="485.97" stroke="#f4e61e" stroke-width="3.3" stroke-linecap="round"/>
<line x1="242.16" y1="485.97" x2="242.52" y2="485.29" stroke="#f6e620" stroke-width="3.3" stroke-linecap="round"/>
<line x1="242.52" y1="485.29" x2="242.89" y2="484.61" stroke="#f8e621" stroke-width="3.3" stroke-linecap="round"/>
<line x1="242.89" y1="484.61" x2="243.27" y2="483.94" stroke="#f8e621" stroke-width="3.3" stroke-linecap="round"/>
<line x1="243.27" y1="483.94" x2="243.66" y2="483.28" stroke="#fbe723" stroke-width="3.3" stroke-linecap="round"/>
<line x1="243.66" y1="483.28" x2="244.07" y2="482.63" stroke="#fde725" stroke-width="3.3" stroke-linecap="round"/>
<line x1="244.07" y1="482.63" x2="244.50" y2="482.00" stroke="#fde725" stroke-width="3.3" stroke-linecap="round"/>
<line x1="244.50" y1="482.00" x2="244.94" y2="481.38" stroke="#fde725" stroke-width="3.3" stroke-linecap="round"/>
<line x1="244.94" y1="481.38" x2="245.40" y2="480.76" stroke="#fde725" stroke-width="3.3" stroke-linecap="round"/>
<line x1="245.40" y1="480.76" x2="245.87" y2="480.14" stroke="#fde725" stroke-width="3.3" stroke-linecap="round"/>
<line x1="245.87" y1="480.14" x2="246.35" y2="479.54" stroke="#fde725" stroke-width="3.3" stroke-linecap="round"/>
<line x1="246.35" y1="479.54" x2="246.84" y2="478.94" stroke="#fde725" stroke-width="3.3" stroke-linecap="round"/>
<line x1="246.84" y1="478.94" x2="247.34" y2="478.34" stroke="#fde725" stroke-width="3.3" stroke-linecap="round"/>
<line x1="247.34" y1="478.34" x2="247.85" y2="477.76" stroke="#fde725" stroke-width="3.3" stroke-linecap="round"/>
<line x1="247.85" y1="477.76" x2="248.37" y2="477.19" stroke="#fde725" stroke-width="3.3" stroke-linecap="round"/>
<line x1="248.37" y1="477.19" x2="248.89" y2="476.62" stroke="#fde725" stroke-width="3.3" stroke-linecap="round"/>
<line x1="248.89" y1="476.62" x2="249.42" y2="476.07" stroke="#fde725" stroke-width="3.3" stroke-linecap="round"/>
<line x1="249.42" y1="476.07" x2="249.96" y2="475.53" stroke="#fde725" stroke-width="3.3" stroke-linecap="round"/>
<line x1="249.96" y1="475.53" x2="250.50" y2="475.00" stroke="#fde725" stroke-width="3.3" stroke-linecap="round"/>
<line x1="250.50" y1="475.00" x2="251.07" y2="474.47" stroke="#fde725" stroke-width="3.3" stroke-linecap="round"/>
<line x1="251.07" y1="474.47" x2="251.69" y2="473.93" stroke="#fde725" stroke-width="3.3" stroke-linecap="round"/>
<line x1="251.69" y1="473.93" x2="252.34" y2="473.39" stroke="#fde725" stroke-width="3.3" stroke-linecap="round"/>
<line x1="252.34" y1="473.39" x2="253.02" y2="472.85" stroke="#fde725" stroke-width="3.3" stroke-linecap="round"/>
<line x1="253.02" y1="472.85" x2="253.70" y2="472.32" stroke="#fde725" stroke-width="3.3" stroke-linecap="round"/>
<line x1="253.70" y1="472.32" x2="254.38" y2="471.81" stroke="#fde725" stroke-width="3.3" stroke-linecap="round"/>
<line x1="254.38" y1="471.81" x2="255.03" y2="471.33" stroke="#fde725" stroke-width="3.3" stroke-linecap="round"/>
<line x1="255.03" y1="471.33" x2="255.65" y2="470.87" stroke="#fde725" stroke-width="3.3" stroke-linecap="round"/>
<line x1="255.65" y1="470.87" x2="256.22" y2="470.45" stroke="#fde725" stroke-width="3.3" stroke-linecap="round"/>
<line x1="256.22" y1="470.45" x2="256.73" y2="470.08" stroke="#fde725" stroke-width="3.3" stroke-linecap="round"/>
<line x1="256.73" y1="470.08" x2="257.16" y2="469.76" stroke="#fde725" stroke-width="3.3" stroke-linecap="round"/>
<line x1="257.16" y1="469.76" x2="257.50" y2="469.50" stroke="#fde725" stroke-width="3.3" stroke-linecap="round"/>
<line x1="238.70" y1="396.00" x2="238.70" y2="396.68" stroke="#440256" stroke-width="3.3" stroke-linecap="round"/>
<line x1="238.70" y1="396.68" x2="238.71" y2="397.52" stroke="#46075a" stroke-width="3.3" stroke-linecap="round"/>
<line x1="238.71" y1="397.52" x2="238.72" y2="398.52" stroke="#470d60" stroke-width="3.3" stroke-linecap="round"/>
<line x1="238.72" y1="398.52" x2="238.73" y2="399.63" stroke="#471164" stroke-width="3.3" stroke-linecap="round"/>
<line x1="238.73" y1="399.63" x2="238.73" y2="400.84" stroke="#481668" stroke-width="3.3" stroke-linecap="round"/>
<line x1="238.73" y1="400.84" x2="238.74" y2="402.12" stroke="#481a6c" stroke-width="3.3" stroke-linecap="round"/>
<line x1="238.74" y1="402.12" x2="238.75" y2="403.46" stroke="#481d6f" stroke-width="3.3" stroke-linecap="round"/>
<line x1="238.75" y1="403.46" x2="238.76" y2="404.81" stroke="#482374" stroke-width="3.3" stroke-linecap="round"/>
<line x1="238.76" y1="404.81" x2="238.77" y2="406.17" stroke="#482677" stroke-width="3.3" stroke-linecap="round"/>
<line x1="238.77" y1="406.17" x2="238.78" y2="407.50" stroke="#472a7a" stroke-width="3.3" stroke-linecap="round"/>
<line x1="238.78" y1="407.50" x2="238.79" y2="408.79" stroke="#472e7c" stroke-width="3.3" stroke-linecap="round"/>
<line x1="238.79" y1="408.79" x2="238.80" y2="410.00" stroke="#46327e" stroke-width="3.3" stroke-linecap="round"/>
<line x1="238.80" y1="410.00" x2="238.81" y2="411.17" stroke="#453781" stroke-width="3.3" stroke-linecap="round"/>
<line x1="238.81" y1="411.17" x2="238.81" y2="412.34" stroke="#443a83" stroke-width="3.3" stroke-linecap="round"/>
<line x1="238.81" y1="412.34" x2="238.81" y2="413.52" stroke="#433e85" stroke-width="3.3" stroke-linecap="round"/>
<line x1="238.81" y1="413.52" x2="238.81" y2="414.70" stroke="#424186" stroke-width="3.3" stroke-linecap="round"/>
<line x1="238.81" y1="414.70" x2="238.82" y2="415.88" stroke="#404588" stroke-width="3.3" stroke-linecap="round"/>
<line x1="238.82" y1="415.88" x2="238.82" y2="417.06" stroke="#3e4989" stroke-width="3.3" stroke-linecap="round"/>
<line x1="238.82" y1="417.06" x2="238.82" y2="418.24" stroke="#3d4d8a" stroke-width="3.3" stroke-linecap="round"/>
<line x1="238.82" y1="418.24" x2="238.83" y2="419.41" stroke="#3c508b" stroke-width="3.3" stroke-linecap="round"/>
<line x1="238.83" y1="419.41" x2="238.84" y2="420.57" stroke="#3a538b" stroke-width="3.3" stroke-linecap="round"/>
<line x1="238.84" y1="420.57" x2="238.85" y2="421.72" stroke="#39568c" stroke-width="3.3" stroke-linecap="round"/>
<line x1="238.85" y1="421.72" x2="238.87" y2="422.87" stroke="#375b8d" stroke-width="3.3" stroke-linecap="round"/>
<line x1="238.87" y1="422.87" x2="238.90" y2="424.00" stroke="#355e8d" stroke-width="3.3" stroke-linecap="round"/>
<line x1="238.90" y1="424.00" x2="238.93" y2="425.12" stroke="#34618d" stroke-width="3.3" stroke-linecap="round"/>
<line x1="238.93" y1="425.12" x2="238.95" y2="426.22" stroke="#33638d" stroke-width="3.3" stroke-linecap="round"/>
<line x1="238.95" y1="426.22" x2="238.98" y2="427.32" stroke="#31668e" stroke-width="3.3" stroke-linecap="round"/>
<line x1="238.98" y1="427.32" x2="239.01" y2="428.41" stroke="#31688e" stroke-width="3.3" stroke-linecap="round"/>
<line x1="239.01" y1="428.41" x2="239.04" y2="429.49" stroke="#2f6b8e" stroke-width="3.3" stroke-linecap="round"/>
<line x1="239.04" y1="429.49" x2="239.08" y2="430.56" stroke="#2e6d8e" stroke-width="3.3" stroke-linecap="round"/>
<line x1="239.08" y1="430.56" x2="239.13" y2="431.63" stroke="#2d708e" stroke-width="3.3" stroke-linecap="round"/>
<line x1="239.13" y1="431.63" x2="239.18" y2="432.70" stroke="#2c728e" stroke-width="3.3" stroke-linecap="round"/>
<line x1="239.18" y1="432.70" x2="239.24" y2="433.77" stroke="#2b748e" stroke-width="3.3" stroke-linecap="round"/>
<line x1="239.24" y1="433.77" x2="239.31" y2="434.84" stroke="#2a778e" stroke-width="3.3" stroke-linecap="round"/>
<line x1="239.31" y1="434.84" x2="239.40" y2="435.92" stroke="#29798e" stroke-width="3.3" stroke-linecap="round"/>
<line x1="239.40" y1="435.92" x2="239.50" y2="437.00" stroke="#287c8e" stroke-width="3.3" stroke-linecap="round"/>
<line x1="239.50" y1="437.00" x2="239.62" y2="438.09" stroke="#277e8e" stroke-width="3.3" stroke-linecap="round"/>
<line x1="239.62" y1="438.09" x2="239.75" y2="439.18" stroke="#26818e" stroke-width="3.3" stroke-linecap="round"/>
<line x1="239.75" y1="439.18" x2="239.89" y2="440.27" stroke="#25838e" stroke-width="3.3" stroke-linecap="round"/>
<line x1="239.89" y1="440.27" x2="240.05" y2="441.37" stroke="#24868e" stroke-width="3.3" stroke-linecap="round"/>
<line x1="240.05" y1="441.37" x2="240.22" y2="442.47" stroke="#23898e" stroke-width="3.3" stroke-linecap="round"/>
<line x1="240.22" y1="442.47" x2="240.39" y2="443.56" stroke="#228b8d" stroke-width="3.3" stroke-linecap="round"/>
<line x1="240.39" y1="443.56" x2="240.57" y2="444.65" stroke="#218e8d" stroke-width="3.3" stroke-linecap="round"/>
<line x1="240.57" y1="444.65" x2="240.76" y2="445.74" stroke="#21918c" stroke-width="3.3" stroke-linecap="round"/>
<line x1="240.76" y1="445.74" x2="240.95" y2="446.82" stroke="#20938c" stroke-width="3.3" stroke-linecap="round"/>
<line x1="240.95" y1="446.82" x2="241.13" y2="447.89" stroke="#1f958b" stroke-width="3.3" stroke-linecap="round"/>
<line x1="241.13" y1="447.89" x2="241.32" y2="448.95" stroke="#1f988b" stroke-width="3.3" stroke-linecap="round"/>
<line x1="241.32" y1="448.95" x2="241.50" y2="450.00" stroke="#1e9b8a" stroke-width="3.3" stroke-linecap="round"/>
<line x1="241.50" y1="450.00" x2="241.68" y2="451.02" stroke="#1e9d89" stroke-width="3.3" stroke-linecap="round"/>
<line x1="241.68" y1="451.02" x2="241.86" y2="452.01" stroke="#1fa088" stroke-width="3.3" stroke-linecap="round"/>
<line x1="241.86" y1="452.01" x2="242.05" y2="452.98" stroke="#1fa187" stroke-width="3.3" stroke-linecap="round"/>
<line x1="242.05" y1="452.98" x2="242.24" y2="453.93" stroke="#20a486" stroke-width="3.3" stroke-linecap="round"/>
<line x1="242.24" y1="453.93" x2="242.43" y2="454.87" stroke="#21a685" stroke-width="3.3" stroke-linecap="round"/>
<line x1="242.43" y1="454.87" x2="242.62" y2="455.81" stroke="#22a884" stroke-width="3.3" stroke-linecap="round"/>
<line x1="242.62" y1="455.81" x2="242.81" y2="456.77" stroke="#25ab82" stroke-width="3.3" stroke-linecap="round"/>
<line x1="242.81" y1="456.77" x2="243.01" y2="457.74" stroke="#26ad81" stroke-width="3.3" stroke-linecap="round"/>
<line x1="243.01" y1="457.74" x2="243.20" y2="458.74" stroke="#28ae80" stroke-width="3.3" stroke-linecap="round"/>
<line x1="243.20" y1="458.74" x2="243.40" y2="459.78" stroke="#2cb17e" stroke-width="3.3" stroke-linecap="round"/>
<line x1="243.40" y1="459.78" x2="243.60" y2="460.86" stroke="#2eb37c" stroke-width="3.3" stroke-linecap="round"/>
<line x1="243.60" y1="460.86" x2="243.80" y2="462.00" stroke="#31b57b" stroke-width="3.3" stroke-linecap="round"/>
<line x1="243.80" y1="462.00" x2="244.00" y2="463.19" stroke="#35b779" stroke-width="3.3" stroke-linecap="round"/>
<line x1="244.00" y1="463.19" x2="244.21" y2="464.42" stroke="#38b977" stroke-width="3.3" stroke-linecap="round"/>
<line x1="244.21" y1="464.42" x2="244.41" y2="465.68" stroke="#3dbc74" stroke-width="3.3" stroke-linecap="round"/>
<line x1="244.41" y1="465.68" x2="244.62" y2="466.98" stroke="#40bd72" stroke-width="3.3" stroke-linecap="round"/>
<line x1="244.62" y1="466.98" x2="244.83" y2="468.31" stroke="#46c06f" stroke-width="3.3" stroke-linecap="round"/>
<line x1="244.83" y1="468.31" x2="245.04" y2="469.66" stroke="#4cc26c" stroke-width="3.3" stroke-linecap="round"/>
<line x1="245.04" y1="469.66" x2="245.25" y2="471.02" stroke="#50c46a" stroke-width="3.3" stroke-linecap="round"/>
<line x1="245.25" y1="471.02" x2="245.46" y2="472.41" stroke="#56c667" stroke-width="3.3" stroke-linecap="round"/>
<line x1="245.46" y1="472.41" x2="245.67" y2="473.80" stroke="#5ac864" stroke-width="3.3" stroke-linecap="round"/>
<line x1="245.67" y1="473.80" x2="245.88" y2="475.20" stroke="#60ca60" stroke-width="3.3" stroke-linecap="round"/>
<line x1="245.88" y1="475.20" x2="246.09" y2="476.60" stroke="#65cb5e" stroke-width="3.3" stroke-linecap="round"/>
<line x1="246.09" y1="476.60" x2="246.30" y2="478.00" stroke="#6ccd5a" stroke-width="3.3" stroke-linecap="round"/>
<line x1="246.30" y1="478.00" x2="246.51" y2="479.42" stroke="#70cf57" stroke-width="3.3" stroke-linecap="round"/>
<line x1="246.51" y1="479.42" x2="246.73" y2="480.89" stroke="#75d054" stroke-width="3.3" stroke-linecap="round"/>
<line x1="246.73" y1="480.89" x2="246.95" y2="482.39" stroke="#7cd250" stroke-width="3.3" stroke-linecap="round"/>
<line x1="246.95" y1="482.39" x2="247.17" y2="483.91" stroke="#81d34d" stroke-width="3.3" stroke-linecap="round"/>
<line x1="247.17" y1="483.91" x2="247.39" y2="485.44" stroke="#86d549" stroke-width="3.3" stroke-linecap="round"/>
<line x1="247.39" y1="485.44" x2="247.61" y2="486.97" stroke="#8bd646" stroke-width="3.3" stroke-linecap="round"/>
<line x1="247.61" y1="486.97" x2="247.83" y2="488.49" stroke="#90d743" stroke-width="3.3" stroke-linecap="round"/>
<line x1="247.83" y1="488.49" x2="248.04" y2="489.98" stroke="#95d840" stroke-width="3.3" stroke-linecap="round"/>
<line x1="248.04" y1="489.98" x2="248.25" y2="491.44" stroke="#9bd93c" stroke-width="3.3" stroke-linecap="round"/>
<line x1="248.25" y1="491.44" x2="248.44" y2="492.86" stroke="#a0da39" stroke-width="3.3" stroke-linecap="round"/>
<line x1="248.44" y1="492.86" x2="248.63" y2="494.21" stroke="#a8db34" stroke-width="3.3" stroke-linecap="round"/>
<line x1="248.63" y1="494.21" x2="248.80" y2="495.50" stroke="#addc30" stroke-width="3.3" stroke-linecap="round"/>
<line x1="248.80" y1="495.50" x2="248.96" y2="496.72" stroke="#b2dd2d" stroke-width="3.3" stroke-linecap="round"/>
<line x1="248.96" y1="496.72" x2="249.11" y2="497.87" stroke="#b5de2b" stroke-width="3.3" stroke-linecap="round"/>
<line x1="249.11" y1="497.87" x2="249.26" y2="498.97" stroke="#bade28" stroke-width="3.3" stroke-linecap="round"/>
<line x1="249.26" y1="498.97" x2="249.39" y2="500.03" stroke="#bddf26" stroke-width="3.3" stroke-linecap="round"/>
<line x1="249.39" y1="500.03" x2="249.52" y2="501.06" stroke="#c2df23" stroke-width="3.3" stroke-linecap="round"/>
<line x1="249.52" y1="501.06" x2="249.64" y2="502.06" stroke="#c5e021" stroke-width="3.3" stroke-linecap="round"/>
<line x1="249.64" y1="502.06" x2="249.76" y2="503.04" stroke="#c8e020" stroke-width="3.3" stroke-linecap="round"/>
<line x1="249.76" y1="503.04" x2="249.87" y2="504.01" stroke="#cde11d" stroke-width="3.3" stroke-linecap="round"/>
<line x1="249.87" y1="504.01" x2="249.98" y2="504.99" stroke="#d0e11c" stroke-width="3.3" stroke-linecap="round"/>
<line x1="249.98" y1="504.99" x2="250.09" y2="505.97" stroke="#d5e21a" stroke-width="3.3" stroke-linecap="round"/>
<line x1="250.09" y1="505.97" x2="250.20" y2="506.97" stroke="#d8e219" stroke-width="3.3" stroke-linecap="round"/>
<line x1="250.20" y1="506.97" x2="250.30" y2="508.00" stroke="#dde318" stroke-width="3.3" stroke-linecap="round"/>
<line x1="250.30" y1="508.00" x2="250.41" y2="509.06" stroke="#dfe318" stroke-width="3.3" stroke-linecap="round"/>
<line x1="250.41" y1="509.06" x2="250.51" y2="510.14" stroke="#e2e418" stroke-width="3.3" stroke-linecap="round"/>
<line x1="250.51" y1="510.14" x2="250.62" y2="511.24" stroke="#e5e419" stroke-width="3.3" stroke-linecap="round"/>
<line x1="250.62" y1="511.24" x2="250.73" y2="512.35" stroke="#e7e419" stroke-width="3.3" stroke-linecap="round"/>
<line x1="250.73" y1="512.35" x2="250.83" y2="513.46" stroke="#ece51b" stroke-width="3.3" stroke-linecap="round"/>
<line x1="250.83" y1="513.46" x2="250.93" y2="514.56" stroke="#efe51c" stroke-width="3.3" stroke-linecap="round"/>
<line x1="250.93" y1="514.56" x2="251.01" y2="515.64" stroke="#f1e51d" stroke-width="3.3" stroke-linecap="round"/>
<line x1="251.01" y1="515.64" x2="251.10" y2="516.71" stroke="#f4e61e" stroke-width="3.3" stroke-linecap="round"/>
<line x1="251.10" y1="516.71" x2="251.17" y2="517.74" stroke="#f6e620" stroke-width="3.3" stroke-linecap="round"/>
<line x1="251.17" y1="517.74" x2="251.23" y2="518.74" stroke="#f8e621" stroke-width="3.3" stroke-linecap="round"/>
<line x1="251.23" y1="518.74" x2="251.27" y2="519.70" stroke="#fbe723" stroke-width="3.3" stroke-linecap="round"/>
<line x1="251.27" y1="519.70" x2="251.30" y2="520.60" stroke="#fde725" stroke-width="3.3" stroke-linecap="round"/>
<line x1="251.30" y1="520.60" x2="251.32" y2="521.46" stroke="#fde725" stroke-width="3.3" stroke-linecap="round"/>
<line x1="251.32" y1="521.46" x2="251.35" y2="522.28" stroke="#fde725" stroke-width="3.3" stroke-linecap="round"/>
<line x1="251.35" y1="522.28" x2="251.38" y2="523.08" stroke="#fde725" stroke-width="3.3" stroke-linecap="round"/>
<line x1="251.38" y1="523.08" x2="251.40" y2="523.84" stroke="#fde725" stroke-width="3.3" stroke-linecap="round"/>
<line x1="251.40" y1="523.84" x2="251.42" y2="524.57" stroke="#fde725" stroke-width="3.3" stroke-linecap="round"/>
<line x1="251.42" y1="524.57" x2="251.41" y2="525.28" stroke="#fde725" stroke-width="3.3" stroke-linecap="round"/>
<line x1="251.41" y1="525.28" x2="251.39" y2="525.95" stroke="#fde725" stroke-width="3.3" stroke-linecap="round"/>
<line x1="251.39" y1="525.95" x2="251.34" y2="526.61" stroke="#fde725" stroke-width="3.3" stroke-linecap="round"/>
<line x1="251.34" y1="526.61" x2="251.26" y2="527.24" stroke="#fde725" stroke-width="3.3" stroke-linecap="round"/>
<line x1="251.26" y1="527.24" x2="251.15" y2="527.85" stroke="#fde725" stroke-width="3.3" stroke-linecap="round"/>
<line x1="251.15" y1="527.85" x2="251.00" y2="528.43" stroke="#fde725" stroke-width="3.3" stroke-linecap="round"/>
<line x1="251.00" y1="528.43" x2="250.80" y2="529.00" stroke="#fde725" stroke-width="3.3" stroke-linecap="round"/>
<line x1="250.80" y1="529.00" x2="250.56" y2="529.55" stroke="#fde725" stroke-width="3.3" stroke-linecap="round"/>
<line x1="250.56" y1="529.55" x2="250.29" y2="530.08" stroke="#fde725" stroke-width="3.3" stroke-linecap="round"/>
<line x1="250.29" y1="530.08" x2="249.98" y2="530.58" stroke="#fde725" stroke-width="3.3" stroke-linecap="round"/>
<line x1="249.98" y1="530.58" x2="249.64" y2="531.07" stroke="#fde725" stroke-width="3.3" stroke-linecap="round"/>
<line x1="249.64" y1="531.07" x2="249.27" y2="531.53" stroke="#fde725" stroke-width="3.3" stroke-linecap="round"/>
<line x1="249.27" y1="531.53" x2="248.87" y2="531.96" stroke="#fde725" stroke-width="3.3" stroke-linecap="round"/>
<line x1="248.87" y1="531.96" x2="248.44" y2="532.37" stroke="#fde725" stroke-width="3.3" stroke-linecap="round"/>
<line x1="248.44" y1="532.37" x2="248.00" y2="532.76" stroke="#fde725" stroke-width="3.3" stroke-linecap="round"/>
<line x1="248.00" y1="532.76" x2="247.53" y2="533.11" stroke="#fde725" stroke-width="3.3" stroke-linecap="round"/>
<line x1="247.53" y1="533.11" x2="247.03" y2="533.44" stroke="#fde725" stroke-width="3.3" stroke-linecap="round"/>
<line x1="247.03" y1="533.44" x2="246.53" y2="533.73" stroke="#fde725" stroke-width="3.3" stroke-linecap="round"/>
<line x1="246.53" y1="533.73" x2="246.00" y2="534.00" stroke="#fde725" stroke-width="3.3" stroke-linecap="round"/>
<line x1="246.00" y1="534.00" x2="245.43" y2="534.23" stroke="#fde725" stroke-width="3.3" stroke-linecap="round"/>
<line x1="245.43" y1="534.23" x2="244.81" y2="534.42" stroke="#fde725" stroke-width="3.3" stroke-linecap="round"/>
<line x1="244.81" y1="534.42" x2="244.14" y2="534.57" stroke="#fde725" stroke-width="3.3" stroke-linecap="round"/>
<line x1="244.14" y1="534.57" x2="243.43" y2="534.69" stroke="#fde725" stroke-width="3.3" stroke-linecap="round"/>
<line x1="243.43" y1="534.69" x2="242.71" y2="534.78" stroke="#fde725" stroke-width="3.3" stroke-linecap="round"/>
<line x1="242.71" y1="534.78" x2="241.97" y2="534.84" stroke="#fde725" stroke-width="3.3" stroke-linecap="round"/>
<line x1="241.97" y1="534.84" x2="241.23" y2="534.89" stroke="#fde725" stroke-width="3.3" stroke-linecap="round"/>
<line x1="241.23" y1="534.89" x2="240.51" y2="534.93" stroke="#fde725" stroke-width="3.3" stroke-linecap="round"/>
<line x1="240.51" y1="534.93" x2="239.81" y2="534.95" stroke="#fde725" stroke-width="3.3" stroke-linecap="round"/>
<line x1="239.81" y1="534.95" x2="239.16" y2="534.97" stroke="#fde725" stroke-width="3.3" stroke-linecap="round"/>
<line x1="239.16" y1="534.97" x2="238.55" y2="534.98" stroke="#fde725" stroke-width="3.3" stroke-linecap="round"/>
<line x1="238.55" y1="534.98" x2="238.00" y2="535.00" stroke="#fde725" stroke-width="3.3" stroke-linecap="round"/>
<line x1="238.00" y1="535.00" x2="237.48" y2="535.04" stroke="#fde725" stroke-width="3.3" stroke-linecap="round"/>
<line x1="237.48" y1="535.04" x2="236.95" y2="535.12" stroke="#fde725" stroke-width="3.3" stroke-linecap="round"/>
<line x1="236.95" y1="535.12" x2="236.42" y2="535.21" stroke="#fde725" stroke-width="3.3" stroke-linecap="round"/>
<line x1="236.42" y1="535.21" x2="235.90" y2="535.31" stroke="#fde725" stroke-width="3.3" stroke-linecap="round"/>
<line x1="235.90" y1="535.31" x2="235.41" y2="535.40" stroke="#fde725" stroke-width="3.3" stroke-linecap="round"/>
<line x1="235.41" y1="535.40" x2="234.96" y2="535.47" stroke="#fde725" stroke-width="3.3" stroke-linecap="round"/>
<line x1="234.96" y1="535.47" x2="234.55" y2="535.49" stroke="#fde725" stroke-width="3.3" stroke-linecap="round"/>
<line x1="234.55" y1="535.49" x2="234.21" y2="535.46" stroke="#fde725" stroke-width="3.3" stroke-linecap="round"/>
<line x1="234.21" y1="535.46" x2="233.94" y2="535.36" stroke="#fde725" stroke-width="3.3" stroke-linecap="round"/>
<line x1="233.94" y1="535.36" x2="233.76" y2="535.18" stroke="#fde725" stroke-width="3.3" stroke-linecap="round"/>
<line x1="233.76" y1="535.18" x2="233.68" y2="534.90" stroke="#fde725" stroke-width="3.3" stroke-linecap="round"/>
<line x1="233.68" y1="534.90" x2="233.70" y2="534.50" stroke="#fde725" stroke-width="3.3" stroke-linecap="round"/>
<line x1="233.70" y1="534.50" x2="233.85" y2="533.99" stroke="#fde725" stroke-width="3.3" stroke-linecap="round"/>
<line x1="233.85" y1="533.99" x2="234.13" y2="533.37" stroke="#fde725" stroke-width="3.3" stroke-linecap="round"/>
<line x1="234.13" y1="533.37" x2="234.51" y2="532.66" stroke="#fde725" stroke-width="3.3" stroke-linecap="round"/>
<line x1="234.51" y1="532.66" x2="234.99" y2="531.87" stroke="#fde725" stroke-width="3.3" stroke-linecap="round"/>
<line x1="234.99" y1="531.87" x2="235.54" y2="531.01" stroke="#fde725" stroke-width="3.3" stroke-linecap="round"/>
<line x1="235.54" y1="531.01" x2="236.14" y2="530.09" stroke="#fde725" stroke-width="3.3" stroke-linecap="round"/>
<line x1="236.14" y1="530.09" x2="236.79" y2="529.13" stroke="#fde725" stroke-width="3.3" stroke-linecap="round"/>
<line x1="236.79" y1="529.13" x2="237.46" y2="528.13" stroke="#fde725" stroke-width="3.3" stroke-linecap="round"/>
<line x1="237.46" y1="528.13" x2="238.13" y2="527.11" stroke="#fde725" stroke-width="3.3" stroke-linecap="round"/>
<line x1="238.13" y1="527.11" x2="238.79" y2="526.07" stroke="#fde725" stroke-width="3.3" stroke-linecap="round"/>
<line x1="238.79" y1="526.07" x2="239.42" y2="525.03" stroke="#fde725" stroke-width="3.3" stroke-linecap="round"/>
<line x1="239.42" y1="525.03" x2="240.00" y2="524.00" stroke="#fde725" stroke-width="3.3" stroke-linecap="round"/>
<line x1="240.00" y1="524.00" x2="240.56" y2="522.95" stroke="#fde725" stroke-width="3.3" stroke-linecap="round"/>
<line x1="240.56" y1="522.95" x2="241.14" y2="521.86" stroke="#fde725" stroke-width="3.3" stroke-linecap="round"/>
<line x1="241.14" y1="521.86" x2="241.72" y2="520.72" stroke="#fde725" stroke-width="3.3" stroke-linecap="round"/>
<line x1="241.72" y1="520.72" x2="242.32" y2="519.56" stroke="#fde725" stroke-width="3.3" stroke-linecap="round"/>
<line x1="242.32" y1="519.56" x2="242.92" y2="518.36" stroke="#fde725" stroke-width="3.3" stroke-linecap="round"/>
<line x1="242.92" y1="518.36" x2="243.52" y2="517.16" stroke="#fde725" stroke-width="3.3" stroke-linecap="round"/>
<line x1="243.52" y1="517.16" x2="244.12" y2="515.94" stroke="#fde725" stroke-width="3.3" stroke-linecap="round"/>
<line x1="244.12" y1="515.94" x2="244.71" y2="514.72" stroke="#fde725" stroke-width="3.3" stroke-linecap="round"/>
<line x1="244.71" y1="514.72" x2="245.30" y2="513.51" stroke="#fde725" stroke-width="3.3" stroke-linecap="round"/>
<line x1="245.30" y1="513.51" x2="245.88" y2="512.32" stroke="#fde725" stroke-width="3.3" stroke-linecap="round"/>
<line x1="245.88" y1="512.32" x2="246.45" y2="511.14" stroke="#fde725" stroke-width="3.3" stroke-linecap="round"/>
<line x1="246.45" y1="511.14" x2="247.00" y2="510.00" stroke="#fde725" stroke-width="3.3" stroke-linecap="round"/>
<line x1="247.00" y1="510.00" x2="247.54" y2="508.88" stroke="#fde725" stroke-width="3.3" stroke-linecap="round"/>
<line x1="247.54" y1="508.88" x2="248.06" y2="507.76" stroke="#fde725" stroke-width="3.3" stroke-linecap="round"/>
<line x1="248.06" y1="507.76" x2="248.58" y2="506.66" stroke="#fde725" stroke-width="3.3" stroke-linecap="round"/>
<line x1="248.58" y1="506.66" x2="249.09" y2="505.56" stroke="#fde725" stroke-width="3.3" stroke-linecap="round"/>
<line x1="249.09" y1="505.56" x2="249.60" y2="504.46" stroke="#fde725" stroke-width="3.3" stroke-linecap="round"/>
<line x1="249.60" y1="504.46" x2="250.09" y2="503.38" stroke="#fde725" stroke-width="3.3" stroke-linecap="round"/>
<line x1="250.09" y1="503.38" x2="250.59" y2="502.30" stroke="#fde725" stroke-width="3.3" stroke-linecap="round"/>
<line x1="250.59" y1="502.30" x2="251.07" y2="501.22" stroke="#fde725" stroke-width="3.3" stroke-linecap="round"/>
<line x1="251.07" y1="501.22" x2="251.56" y2="500.16" stroke="#fde725" stroke-width="3.3" stroke-linecap="round"/>
<line x1="251.56" y1="500.16" x2="252.04" y2="499.10" stroke="#fde725" stroke-width="3.3" stroke-linecap="round"/>
<line x1="252.04" y1="499.10" x2="252.52" y2="498.05" stroke="#fde725" stroke-width="3.3" stroke-linecap="round"/>
<line x1="252.52" y1="498.05" x2="253.00" y2="497.00" stroke="#fde725" stroke-width="3.3" stroke-linecap="round"/>
<line x1="253.00" y1="497.00" x2="253.48" y2="495.96" stroke="#fde725" stroke-width="3.3" stroke-linecap="round"/>
<line x1="253.48" y1="495.96" x2="253.96" y2="494.93" stroke="#fde725" stroke-width="3.3" stroke-linecap="round"/>
<line x1="253.96" y1="494.93" x2="254.43" y2="493.91" stroke="#fde725" stroke-width="3.3" stroke-linecap="round"/>
<line x1="254.43" y1="493.91" x2="254.91" y2="492.89" stroke="#fde725" stroke-width="3.3" stroke-linecap="round"/>
<line x1="254.91" y1="492.89" x2="255.38" y2="491.88" stroke="#fde725" stroke-width="3.3" stroke-linecap="round"/>
<line x1="255.38" y1="491.88" x2="255.84" y2="490.88" stroke="#fde725" stroke-width="3.3" stroke-linecap="round"/>
<line x1="255.84" y1="490.88" x2="256.30" y2="489.88" stroke="#fde725" stroke-width="3.3" stroke-linecap="round"/>
<line x1="256.30" y1="489.88" x2="256.76" y2="488.89" stroke="#fde725" stroke-width="3.3" stroke-linecap="round"/>
<line x1="256.76" y1="488.89" x2="257.21" y2="487.91" stroke="#fde725" stroke-width="3.3" stroke-linecap="round"/>
<line x1="257.21" y1="487.91" x2="257.65" y2="486.93" stroke="#fde725" stroke-width="3.3" stroke-linecap="round"/>
<line x1="257.65" y1="486.93" x2="258.08" y2="485.96" stroke="#fde725" stroke-width="3.3" stroke-linecap="round"/>
<line x1="258.08" y1="485.96" x2="258.50" y2="485.00" stroke="#fde725" stroke-width="3.3" stroke-linecap="round"/>
<line x1="258.50" y1="485.00" x2="258.91" y2="484.05" stroke="#fde725" stroke-width="3.3" stroke-linecap="round"/>
<line x1="258.91" y1="484.05" x2="259.32" y2="483.12" stroke="#fde725" stroke-width="3.3" stroke-linecap="round"/>
<line x1="259.32" y1="483.12" x2="259.72" y2="482.20" stroke="#fde725" stroke-width="3.3" stroke-linecap="round"/>
<line x1="259.72" y1="482.20" x2="260.11" y2="481.30" stroke="#fde725" stroke-width="3.3" stroke-linecap="round"/>
<line x1="260.11" y1="481.30" x2="260.50" y2="480.40" stroke="#fde725" stroke-width="3.3" stroke-linecap="round"/>
<line x1="260.50" y1="480.40" x2="260.88" y2="479.50" stroke="#fde725" stroke-width="3.3" stroke-linecap="round"/>
<line x1="260.88" y1="479.50" x2="261.25" y2="478.60" stroke="#fde725" stroke-width="3.3" stroke-linecap="round"/>
<line x1="261.25" y1="478.60" x2="261.61" y2="477.70" stroke="#fde725" stroke-width="3.3" stroke-linecap="round"/>
<line x1="261.61" y1="477.70" x2="261.97" y2="476.80" stroke="#fde725" stroke-width="3.3" stroke-linecap="round"/>
<line x1="261.97" y1="476.80" x2="262.32" y2="475.88" stroke="#fde725" stroke-width="3.3" stroke-linecap="round"/>
<line x1="262.32" y1="475.88" x2="262.66" y2="474.95" stroke="#fde725" stroke-width="3.3" stroke-linecap="round"/>
<line x1="262.66" y1="474.95" x2="263.00" y2="474.00" stroke="#fde725" stroke-width="3.3" stroke-linecap="round"/>
<line x1="263.00" y1="474.00" x2="263.34" y2="473.00" stroke="#fde725" stroke-width="3.3" stroke-linecap="round"/>
<line x1="263.34" y1="473.00" x2="263.68" y2="471.92" stroke="#fde725" stroke-width="3.3" stroke-linecap="round"/>
<line x1="263.68" y1="471.92" x2="264.03" y2="470.79" stroke="#fde725" stroke-width="3.3" stroke-linecap="round"/>
<line x1="264.03" y1="470.79" x2="264.37" y2="469.63" stroke="#fde725" stroke-width="3.3" stroke-linecap="round"/>
<line x1="264.37" y1="469.63" x2="264.71" y2="468.46" stroke="#fde725" stroke-width="3.3" stroke-linecap="round"/>
<line x1="264.71" y1="468.46" x2="265.03" y2="467.31" stroke="#fde725" stroke-width="3.3" stroke-linecap="round"/>
<line x1="265.03" y1="467.31" x2="265.34" y2="466.20" stroke="#fde725" stroke-width="3.3" stroke-linecap="round"/>
<line x1="265.34" y1="466.20" x2="265.63" y2="465.15" stroke="#fde725" stroke-width="3.3" stroke-linecap="round"/>
<line x1="265.63" y1="465.15" x2="265.89" y2="464.18" stroke="#fde725" stroke-width="3.3" stroke-linecap="round"/>
<line x1="265.89" y1="464.18" x2="266.13" y2="463.32" stroke="#fde725" stroke-width="3.3" stroke-linecap="round"/>
<line x1="266.13" y1="463.32" x2="266.33" y2="462.58" stroke="#fde725" stroke-width="3.3" stroke-linecap="round"/>
<line x1="266.33" y1="462.58" x2="266.50" y2="462.00" stroke="#fde725" stroke-width="3.3" stroke-linecap="round"/>
<line x1="221.40" y1="806.00" x2="221.38" y2="805.56" stroke="#228c8d" stroke-width="3.3" stroke-linecap="round"/>
<line x1="221.38" y1="805.56" x2="221.35" y2="805.00" stroke="#228c8d" stroke-width="3.3" stroke-linecap="round"/>
<line x1="221.35" y1="805.00" x2="221.33" y2="804.34" stroke="#228c8d" stroke-width="3.3" stroke-linecap="round"/>
<line x1="221.33" y1="804.34" x2="221.31" y2="803.59" stroke="#228d8d" stroke-width="3.3" stroke-linecap="round"/>
<line x1="221.31" y1="803.59" x2="221.28" y2="802.79" stroke="#228d8d" stroke-width="3.3" stroke-linecap="round"/>
<line x1="221.28" y1="802.79" x2="221.24" y2="801.94" stroke="#218e8d" stroke-width="3.3" stroke-linecap="round"/>
<line x1="221.24" y1="801.94" x2="221.20" y2="801.06" stroke="#218e8d" stroke-width="3.3" stroke-linecap="round"/>
<line x1="221.20" y1="801.06" x2="221.15" y2="800.19" stroke="#218f8d" stroke-width="3.3" stroke-linecap="round"/>
<line x1="221.15" y1="800.19" x2="221.08" y2="799.32" stroke="#218f8d" stroke-width="3.3" stroke-linecap="round"/>
<line x1="221.08" y1="799.32" x2="221.01" y2="798.49" stroke="#218f8d" stroke-width="3.3" stroke-linecap="round"/>
<line x1="221.01" y1="798.49" x2="220.91" y2="797.71" stroke="#21908d" stroke-width="3.3" stroke-linecap="round"/>
<line x1="220.91" y1="797.71" x2="220.80" y2="797.00" stroke="#21908d" stroke-width="3.3" stroke-linecap="round"/>
<line x1="220.80" y1="797.00" x2="220.68" y2="796.35" stroke="#21918c" stroke-width="3.3" stroke-linecap="round"/>
<line x1="220.68" y1="796.35" x2="220.54" y2="795.71" stroke="#21918c" stroke-width="3.3" stroke-linecap="round"/>
<line x1="220.54" y1="795.71" x2="220.40" y2="795.10" stroke="#20928c" stroke-width="3.3" stroke-linecap="round"/>
<line x1="220.40" y1="795.10" x2="220.24" y2="794.51" stroke="#20928c" stroke-width="3.3" stroke-linecap="round"/>
<line x1="220.24" y1="794.51" x2="220.08" y2="793.93" stroke="#20928c" stroke-width="3.3" stroke-linecap="round"/>
<line x1="220.08" y1="793.93" x2="219.90" y2="793.36" stroke="#20938c" stroke-width="3.3" stroke-linecap="round"/>
<line x1="219.90" y1="793.36" x2="219.71" y2="792.79" stroke="#1f948c" stroke-width="3.3" stroke-linecap="round"/>
<line x1="219.71" y1="792.79" x2="219.50" y2="792.24" stroke="#1f948c" stroke-width="3.3" stroke-linecap="round"/>
<line x1="219.50" y1="792.24" x2="219.28" y2="791.68" stroke="#1f958b" stroke-width="3.3" stroke-linecap="round"/>
<line x1="219.28" y1="791.68" x2="219.04" y2="791.13" stroke="#1f968b" stroke-width="3.3" stroke-linecap="round"/>
<line x1="219.04" y1="791.13" x2="218.78" y2="790.57" stroke="#1f968b" stroke-width="3.3" stroke-linecap="round"/>
<line x1="218.78" y1="790.57" x2="218.50" y2="790.00" stroke="#1f978b" stroke-width="3.3" stroke-linecap="round"/>
<line x1="218.50" y1="790.00" x2="218.20" y2="789.43" stroke="#1f988b" stroke-width="3.3" stroke-linecap="round"/>
<line x1="218.20" y1="789.43" x2="217.88" y2="788.86" stroke="#1f988b" stroke-width="3.3" stroke-linecap="round"/>
<line x1="217.88" y1="788.86" x2="217.53" y2="788.29" stroke="#1f998a" stroke-width="3.3" stroke-linecap="round"/>
<line x1="217.53" y1="788.29" x2="217.17" y2="787.73" stroke="#1f998a" stroke-width="3.3" stroke-linecap="round"/>
<line x1="217.17" y1="787.73" x2="216.79" y2="787.17" stroke="#1f9a8a" stroke-width="3.3" stroke-linecap="round"/>
<line x1="216.79" y1="787.17" x2="216.39" y2="786.61" stroke="#1e9b8a" stroke-width="3.3" stroke-linecap="round"/>
<line x1="216.39" y1="786.61" x2="215.99" y2="786.05" stroke="#1e9b8a" stroke-width="3.3" stroke-linecap="round"/>
<line x1="215.99" y1="786.05" x2="215.58" y2="785.49" stroke="#1e9c89" stroke-width="3.3" stroke-linecap="round"/>
<line x1="215.58" y1="785.49" x2="215.16" y2="784.94" stroke="#1e9d89" stroke-width="3.3" stroke-linecap="round"/>
<line x1="215.16" y1="784.94" x2="214.74" y2="784.39" stroke="#1e9d89" stroke-width="3.3" stroke-linecap="round"/>
<line x1="214.74" y1="784.39" x2="214.32" y2="783.84" stroke="#1f9e89" stroke-width="3.3" stroke-linecap="round"/>
<line x1="214.32" y1="783.84" x2="213.90" y2="783.30" stroke="#1f9f88" stroke-width="3.3" stroke-linecap="round"/>
<line x1="213.90" y1="783.30" x2="213.48" y2="782.76" stroke="#1f9f88" stroke-width="3.3" stroke-linecap="round"/>
<line x1="213.48" y1="782.76" x2="213.05" y2="782.23" stroke="#1fa088" stroke-width="3.3" stroke-linecap="round"/>
<line x1="213.05" y1="782.23" x2="212.61" y2="781.70" stroke="#1fa088" stroke-width="3.3" stroke-linecap="round"/>
<line x1="212.61" y1="781.70" x2="212.16" y2="781.18" stroke="#1fa188" stroke-width="3.3" stroke-linecap="round"/>
<line x1="212.16" y1="781.18" x2="211.71" y2="780.66" stroke="#1fa187" stroke-width="3.3" stroke-linecap="round"/>
<line x1="211.71" y1="780.66" x2="211.26" y2="780.14" stroke="#1fa187" stroke-width="3.3" stroke-linecap="round"/>
<line x1="211.26" y1="780.14" x2="210.80" y2="779.62" stroke="#1fa287" stroke-width="3.3" stroke-linecap="round"/>
<line x1="210.80" y1="779.62" x2="210.34" y2="779.10" stroke="#20a386" stroke-width="3.3" stroke-linecap="round"/>
<line x1="210.34" y1="779.10" x2="209.88" y2="778.58" stroke="#20a386" stroke-width="3.3" stroke-linecap="round"/>
<line x1="209.88" y1="778.58" x2="209.42" y2="778.06" stroke="#20a486" stroke-width="3.3" stroke-linecap="round"/>
<line x1="209.42" y1="778.06" x2="208.96" y2="777.53" stroke="#21a585" stroke-width="3.3" stroke-linecap="round"/>
<line x1="208.96" y1="777.53" x2="208.50" y2="777.00" stroke="#21a585" stroke-width="3.3" stroke-linecap="round"/>
<line x1="208.50" y1="777.00" x2="208.04" y2="776.47" stroke="#21a685" stroke-width="3.3" stroke-linecap="round"/>
<line x1="208.04" y1="776.47" x2="207.58" y2="775.93" stroke="#22a785" stroke-width="3.3" stroke-linecap="round"/>
<line x1="207.58" y1="775.93" x2="207.11" y2="775.39" stroke="#22a884" stroke-width="3.3" stroke-linecap="round"/>
<line x1="207.11" y1="775.39" x2="206.64" y2="774.85" stroke="#23a983" stroke-width="3.3" stroke-linecap="round"/>
<line x1="206.64" y1="774.85" x2="206.16" y2="774.31" stroke="#23a983" stroke-width="3.3" stroke-linecap="round"/>
<line x1="206.16" y1="774.31" x2="205.69" y2="773.76" stroke="#24aa83" stroke-width="3.3" stroke-linecap="round"/>
<line x1="205.69" y1="773.76" x2="205.23" y2="773.22" stroke="#25ab82" stroke-width="3.3" stroke-linecap="round"/>
<line x1="205.23" y1="773.22" x2="204.76" y2="772.67" stroke="#25ac82" stroke-width="3.3" stroke-linecap="round"/>
<line x1="204.76" y1="772.67" x2="204.31" y2="772.13" stroke="#26ad81" stroke-width="3.3" stroke-linecap="round"/>
<line x1="204.31" y1="772.13" x2="203.86" y2="771.59" stroke="#27ad81" stroke-width="3.3" stroke-linecap="round"/>
<line x1="203.86" y1="771.59" x2="203.42" y2="771.04" stroke="#28ae80" stroke-width="3.3" stroke-linecap="round"/>
<line x1="203.42" y1="771.04" x2="203.00" y2="770.50" stroke="#28ae80" stroke-width="3.3" stroke-linecap="round"/>
<line x1="203.00" y1="770.50" x2="202.59" y2="769.96" stroke="#29af7f" stroke-width="3.3" stroke-linecap="round"/>
<line x1="202.59" y1="769.96" x2="202.18" y2="769.41" stroke="#2ab07f" stroke-width="3.3" stroke-linecap="round"/>
<line x1="202.18" y1="769.41" x2="201.79" y2="768.87" stroke="#2cb17e" stroke-width="3.3" stroke-linecap="round"/>
<line x1="201.79" y1="768.87" x2="201.40" y2="768.33" stroke="#2eb37c" stroke-width="3.3" stroke-linecap="round"/>
<line x1="201.40" y1="768.33" x2="201.01" y2="767.78" stroke="#2fb47c" stroke-width="3.3" stroke-linecap="round"/>
<line x1="201.01" y1="767.78" x2="200.64" y2="767.24" stroke="#31b57b" stroke-width="3.3" stroke-linecap="round"/>
<line x1="200.64" y1="767.24" x2="200.27" y2="766.69" stroke="#32b67a" stroke-width="3.3" stroke-linecap="round"/>
<line x1="200.27" y1="766.69" x2="199.90" y2="766.15" stroke="#34b679" stroke-width="3.3" stroke-linecap="round"/>
<line x1="199.90" y1="766.15" x2="199.55" y2="765.61" stroke="#35b779" stroke-width="3.3" stroke-linecap="round"/>
<line x1="199.55" y1="765.61" x2="199.19" y2="765.07" stroke="#37b878" stroke-width="3.3" stroke-linecap="round"/>
<line x1="199.19" y1="765.07" x2="198.84" y2="764.53" stroke="#38b977" stroke-width="3.3" stroke-linecap="round"/>
<line x1="198.84" y1="764.53" x2="198.50" y2="764.00" stroke="#3aba76" stroke-width="3.3" stroke-linecap="round"/>
<line x1="198.50" y1="764.00" x2="198.16" y2="763.47" stroke="#3bbb75" stroke-width="3.3" stroke-linecap="round"/>
<line x1="198.16" y1="763.47" x2="197.83" y2="762.93" stroke="#3dbc74" stroke-width="3.3" stroke-linecap="round"/>
<line x1="197.83" y1="762.93" x2="197.51" y2="762.40" stroke="#3fbc73" stroke-width="3.3" stroke-linecap="round"/>
<line x1="197.51" y1="762.40" x2="197.19" y2="761.86" stroke="#40bd72" stroke-width="3.3" stroke-linecap="round"/>
<line x1="197.19" y1="761.86" x2="196.88" y2="761.33" stroke="#40bd72" stroke-width="3.3" stroke-linecap="round"/>
<line x1="196.88" y1="761.33" x2="196.57" y2="760.80" stroke="#42be71" stroke-width="3.3" stroke-linecap="round"/>
<line x1="196.57" y1="760.80" x2="196.27" y2="760.27" stroke="#44bf70" stroke-width="3.3" stroke-linecap="round"/>
<line x1="196.27" y1="760.27" x2="195.97" y2="759.75" stroke="#46c06f" stroke-width="3.3" stroke-linecap="round"/>
<line x1="195.97" y1="759.75" x2="195.68" y2="759.23" stroke="#48c16e" stroke-width="3.3" stroke-linecap="round"/>
<line x1="195.68" y1="759.23" x2="195.38" y2="758.71" stroke="#4ac16d" stroke-width="3.3" stroke-linecap="round"/>
<line x1="195.38" y1="758.71" x2="195.09" y2="758.20" stroke="#4cc26c" stroke-width="3.3" stroke-linecap="round"/>
<line x1="195.09" y1="758.20" x2="194.80" y2="757.70" stroke="#4cc26c" stroke-width="3.3" stroke-linecap="round"/>
<line x1="194.80" y1="757.70" x2="194.51" y2="757.20" stroke="#4ec36b" stroke-width="3.3" stroke-linecap="round"/>
<line x1="194.51" y1="757.20" x2="194.22" y2="756.71" stroke="#50c46a" stroke-width="3.3" stroke-linecap="round"/>
<line x1="194.22" y1="756.71" x2="193.94" y2="756.22" stroke="#50c46a" stroke-width="3.3" stroke-linecap="round"/>
<line x1="193.94" y1="756.22" x2="193.66" y2="755.74" stroke="#52c569" stroke-width="3.3" stroke-linecap="round"/>
<line x1="193.66" y1="755.74" x2="193.39" y2="755.26" stroke="#54c568" stroke-width="3.3" stroke-linecap="round"/>
<line x1="193.39" y1="755.26" x2="193.11" y2="754.78" stroke="#54c568" stroke-width="3.3" stroke-linecap="round"/>
<line x1="193.11" y1="754.78" x2="192.84" y2="754.31" stroke="#56c667" stroke-width="3.3" stroke-linecap="round"/>
<line x1="192.84" y1="754.31" x2="192.57" y2="753.84" stroke="#58c765" stroke-width="3.3" stroke-linecap="round"/>
<line x1="192.57" y1="753.84" x2="192.30" y2="753.38" stroke="#58c765" stroke-width="3.3" stroke-linecap="round"/>
<line x1="192.30" y1="753.38" x2="192.03" y2="752.91" stroke="#5ac864" stroke-width="3.3" stroke-linecap="round"/>
<line x1="192.03" y1="752.91" x2="191.77" y2="752.46" stroke="#5cc863" stroke-width="3.3" stroke-linecap="round"/>
<line x1="191.77" y1="752.46" x2="191.50" y2="752.00" stroke="#5cc863" stroke-width="3.3" stroke-linecap="round"/>
<line x1="191.50" y1="752.00" x2="191.23" y2="751.55" stroke="#5ec962" stroke-width="3.3" stroke-linecap="round"/>
<line x1="191.23" y1="751.55" x2="190.95" y2="751.10" stroke="#5ec962" stroke-width="3.3" stroke-linecap="round"/>
<line x1="190.95" y1="751.10" x2="190.67" y2="750.66" stroke="#60ca60" stroke-width="3.3" stroke-linecap="round"/>
<line x1="190.67" y1="750.66" x2="190.39" y2="750.21" stroke="#60ca60" stroke-width="3.3" stroke-linecap="round"/>
<line x1="190.39" y1="750.21" x2="190.10" y2="749.78" stroke="#60ca60" stroke-width="3.3" stroke-linecap="round"/>
<line x1="190.10" y1="749.78" x2="189.83" y2="749.34" stroke="#63cb5f" stroke-width="3.3" stroke-linecap="round"/>
<line x1="189.83" y1="749.34" x2="189.55" y2="748.91" stroke="#63cb5f" stroke-width="3.3" stroke-linecap="round"/>
<line x1="189.55" y1="748.91" x2="189.29" y2="748.49" stroke="#65cb5e" stroke-width="3.3" stroke-linecap="round"/>
<line x1="189.29" y1="748.49" x2="189.04" y2="748.06" stroke="#65cb5e" stroke-width="3.3" stroke-linecap="round"/>
<line x1="189.04" y1="748.06" x2="188.81" y2="747.64" stroke="#67cc5c" stroke-width="3.3" stroke-linecap="round"/>
<line x1="188.81" y1="747.64" x2="188.59" y2="747.22" stroke="#67cc5c" stroke-width="3.3" stroke-linecap="round"/>
<line x1="188.59" y1="747.22" x2="188.40" y2="746.80" stroke="#67cc5c" stroke-width="3.3" stroke-linecap="round"/>
<line x1="188.40" y1="746.80" x2="188.22" y2="746.37" stroke="#69cd5b" stroke-width="3.3" stroke-linecap="round"/>
<line x1="188.22" y1="746.37" x2="188.06" y2="745.92" stroke="#69cd5b" stroke-width="3.3" stroke-linecap="round"/>
<line x1="188.06" y1="745.92" x2="187.92" y2="745.46" stroke="#69cd5b" stroke-width="3.3" stroke-linecap="round"/>
<line x1="187.92" y1="745.46" x2="187.79" y2="744.99" stroke="#69cd5b" stroke-width="3.3" stroke-linecap="round"/>
<line x1="187.79" y1="744.99" x2="187.66" y2="744.53" stroke="#6ccd5a" stroke-width="3.3" stroke-linecap="round"/>
<line x1="187.66" y1="744.53" x2="187.56" y2="744.07" stroke="#6ccd5a" stroke-width="3.3" stroke-linecap="round"/>
<line x1="187.56" y1="744.07" x2="187.46" y2="743.64" stroke="#6ccd5a" stroke-width="3.3" stroke-linecap="round"/>
<line x1="187.46" y1="743.64" x2="187.37" y2="743.23" stroke="#6ccd5a" stroke-width="3.3" stroke-linecap="round"/>
<line x1="187.37" y1="743.23" x2="187.29" y2="742.85" stroke="#6ccd5a" stroke-width="3.3" stroke-linecap="round"/>
<line x1="187.29" y1="742.85" x2="187.22" y2="742.52" stroke="#6ece58" stroke-width="3.3" stroke-linecap="round"/>
<line x1="187.22" y1="742.52" x2="187.16" y2="742.23" stroke="#6ece58" stroke-width="3.3" stroke-linecap="round"/>
<line x1="187.16" y1="742.23" x2="187.10" y2="742.00" stroke="#6ece58" stroke-width="3.3" stroke-linecap="round"/>
<line x1="217.60" y1="805.20" x2="217.40" y2="805.43" stroke="#440154" stroke-width="3.3" stroke-linecap="round"/>
<line x1="217.40" y1="805.43" x2="217.16" y2="805.73" stroke="#440256" stroke-width="3.3" stroke-linecap="round"/>
<line x1="217.16" y1="805.73" x2="216.88" y2="806.07" stroke="#450457" stroke-width="3.3" stroke-linecap="round"/>
<line x1="216.88" y1="806.07" x2="216.57" y2="806.46" stroke="#450559" stroke-width="3.3" stroke-linecap="round"/>
<line x1="216.57" y1="806.46" x2="216.23" y2="806.89" stroke="#46075a" stroke-width="3.3" stroke-linecap="round"/>
<line x1="216.23" y1="806.89" x2="215.86" y2="807.33" stroke="#46085c" stroke-width="3.3" stroke-linecap="round"/>
<line x1="215.86" y1="807.33" x2="215.48" y2="807.79" stroke="#460a5d" stroke-width="3.3" stroke-linecap="round"/>
<line x1="215.48" y1="807.79" x2="215.09" y2="808.26" stroke="#470d60" stroke-width="3.3" stroke-linecap="round"/>
<line x1="215.09" y1="808.26" x2="214.68" y2="808.72" stroke="#470e61" stroke-width="3.3" stroke-linecap="round"/>
<line x1="214.68" y1="808.72" x2="214.28" y2="809.17" stroke="#471063" stroke-width="3.3" stroke-linecap="round"/>
<line x1="214.28" y1="809.17" x2="213.89" y2="809.60" stroke="#471164" stroke-width="3.3" stroke-linecap="round"/>
<line x1="213.89" y1="809.60" x2="213.50" y2="810.00" stroke="#471365" stroke-width="3.3" stroke-linecap="round"/>
<line x1="213.50" y1="810.00" x2="213.12" y2="810.37" stroke="#481467" stroke-width="3.3" stroke-linecap="round"/>
<line x1="213.12" y1="810.37" x2="212.74" y2="810.74" stroke="#481668" stroke-width="3.3" stroke-linecap="round"/>
<line x1="212.74" y1="810.74" x2="212.36" y2="811.10" stroke="#481769" stroke-width="3.3" stroke-linecap="round"/>
<line x1="212.36" y1="811.10" x2="211.97" y2="811.46" stroke="#48186a" stroke-width="3.3" stroke-linecap="round"/>
<line x1="211.97" y1="811.46" x2="211.58" y2="811.81" stroke="#481a6c" stroke-width="3.3" stroke-linecap="round"/>
<line x1="211.58" y1="811.81" x2="211.18" y2="812.16" stroke="#481b6d" stroke-width="3.3" stroke-linecap="round"/>
<line x1="211.18" y1="812.16" x2="210.77" y2="812.51" stroke="#481c6e" stroke-width="3.3" stroke-linecap="round"/>
<line x1="210.77" y1="812.51" x2="210.35" y2="812.86" stroke="#481d6f" stroke-width="3.3" stroke-linecap="round"/>
<line x1="210.35" y1="812.86" x2="209.91" y2="813.21" stroke="#481f70" stroke-width="3.3" stroke-linecap="round"/>
<line x1="209.91" y1="813.21" x2="209.46" y2="813.57" stroke="#482071" stroke-width="3.3" stroke-linecap="round"/>
<line x1="209.46" y1="813.57" x2="208.99" y2="813.93" stroke="#482374" stroke-width="3.3" stroke-linecap="round"/>
<line x1="208.99" y1="813.93" x2="208.50" y2="814.30" stroke="#482475" stroke-width="3.3" stroke-linecap="round"/>
<line x1="208.50" y1="814.30" x2="207.99" y2="814.68" stroke="#482576" stroke-width="3.3" stroke-linecap="round"/>
<line x1="207.99" y1="814.68" x2="207.46" y2="815.06" stroke="#482677" stroke-width="3.3" stroke-linecap="round"/>
<line x1="207.46" y1="815.06" x2="206.90" y2="815.45" stroke="#482878" stroke-width="3.3" stroke-linecap="round"/>
<line x1="206.90" y1="815.45" x2="206.34" y2="815.85" stroke="#472a7a" stroke-width="3.3" stroke-linecap="round"/>
<line x1="206.34" y1="815.85" x2="205.76" y2="816.25" stroke="#472c7a" stroke-width="3.3" stroke-linecap="round"/>
<line x1="205.76" y1="816.25" x2="205.16" y2="816.64" stroke="#472d7b" stroke-width="3.3" stroke-linecap="round"/>
<line x1="205.16" y1="816.64" x2="204.56" y2="817.04" stroke="#472e7c" stroke-width="3.3" stroke-linecap="round"/>
<line x1="204.56" y1="817.04" x2="203.95" y2="817.44" stroke="#46307e" stroke-width="3.3" stroke-linecap="round"/>
<line x1="203.95" y1="817.44" x2="203.34" y2="817.84" stroke="#46327e" stroke-width="3.3" stroke-linecap="round"/>
<line x1="203.34" y1="817.84" x2="202.72" y2="818.23" stroke="#46337f" stroke-width="3.3" stroke-linecap="round"/>
<line x1="202.72" y1="818.23" x2="202.11" y2="818.62" stroke="#453581" stroke-width="3.3" stroke-linecap="round"/>
<line x1="202.11" y1="818.62" x2="201.50" y2="819.00" stroke="#453781" stroke-width="3.3" stroke-linecap="round"/>
<line x1="201.50" y1="819.00" x2="200.88" y2="819.38" stroke="#453882" stroke-width="3.3" stroke-linecap="round"/>
<line x1="200.88" y1="819.38" x2="200.25" y2="819.78" stroke="#443983" stroke-width="3.3" stroke-linecap="round"/>
<line x1="200.25" y1="819.78" x2="199.61" y2="820.18" stroke="#443b84" stroke-width="3.3" stroke-linecap="round"/>
<line x1="199.61" y1="820.18" x2="198.97" y2="820.57" stroke="#433d84" stroke-width="3.3" stroke-linecap="round"/>
<line x1="198.97" y1="820.57" x2="198.32" y2="820.97" stroke="#433e85" stroke-width="3.3" stroke-linecap="round"/>
<line x1="198.32" y1="820.97" x2="197.66" y2="821.36" stroke="#424086" stroke-width="3.3" stroke-linecap="round"/>
<line x1="197.66" y1="821.36" x2="197.01" y2="821.74" stroke="#424186" stroke-width="3.3" stroke-linecap="round"/>
<line x1="197.01" y1="821.74" x2="196.37" y2="822.11" stroke="#414287" stroke-width="3.3" stroke-linecap="round"/>
<line x1="196.37" y1="822.11" x2="195.73" y2="822.47" stroke="#414487" stroke-width="3.3" stroke-linecap="round"/>
<line x1="195.73" y1="822.47" x2="195.10" y2="822.80" stroke="#404688" stroke-width="3.3" stroke-linecap="round"/>
<line x1="195.10" y1="822.80" x2="194.49" y2="823.11" stroke="#3f4788" stroke-width="3.3" stroke-linecap="round"/>
<line x1="194.49" y1="823.11" x2="193.90" y2="823.40" stroke="#3f4889" stroke-width="3.3" stroke-linecap="round"/>
<line x1="193.90" y1="823.40" x2="193.32" y2="823.66" stroke="#3e4a89" stroke-width="3.3" stroke-linecap="round"/>
<line x1="193.32" y1="823.66" x2="192.76" y2="823.90" stroke="#3e4c8a" stroke-width="3.3" stroke-linecap="round"/>
<line x1="192.76" y1="823.90" x2="192.22" y2="824.12" stroke="#3d4e8a" stroke-width="3.3" stroke-linecap="round"/>
<line x1="192.22" y1="824.12" x2="191.68" y2="824.32" stroke="#3c4f8a" stroke-width="3.3" stroke-linecap="round"/>
<line x1="191.68" y1="824.32" x2="191.15" y2="824.51" stroke="#3b518b" stroke-width="3.3" stroke-linecap="round"/>
<line x1="191.15" y1="824.51" x2="190.63" y2="824.68" stroke="#3b528b" stroke-width="3.3" stroke-linecap="round"/>
<line x1="190.63" y1="824.68" x2="190.11" y2="824.84" stroke="#3a548c" stroke-width="3.3" stroke-linecap="round"/>
<line x1="190.11" y1="824.84" x2="189.59" y2="824.99" stroke="#39558c" stroke-width="3.3" stroke-linecap="round"/>
<line x1="189.59" y1="824.99" x2="189.07" y2="825.13" stroke="#38588c" stroke-width="3.3" stroke-linecap="round"/>
<line x1="189.07" y1="825.13" x2="188.55" y2="825.26" stroke="#38598c" stroke-width="3.3" stroke-linecap="round"/>
<line x1="188.55" y1="825.26" x2="188.03" y2="825.38" stroke="#375b8d" stroke-width="3.3" stroke-linecap="round"/>
<line x1="188.03" y1="825.38" x2="187.50" y2="825.50" stroke="#365c8d" stroke-width="3.3" stroke-linecap="round"/>
<line x1="187.50" y1="825.50" x2="186.96" y2="825.61" stroke="#365d8d" stroke-width="3.3" stroke-linecap="round"/>
<line x1="186.96" y1="825.61" x2="186.42" y2="825.72" stroke="#355f8d" stroke-width="3.3" stroke-linecap="round"/>
<line x1="186.42" y1="825.72" x2="185.88" y2="825.81" stroke="#34608d" stroke-width="3.3" stroke-linecap="round"/>
<line x1="185.88" y1="825.81" x2="185.34" y2="825.90" stroke="#34618d" stroke-width="3.3" stroke-linecap="round"/>
<line x1="185.34" y1="825.90" x2="184.79" y2="825.98" stroke="#33638d" stroke-width="3.3" stroke-linecap="round"/>
<line x1="184.79" y1="825.98" x2="184.25" y2="826.04" stroke="#32648e" stroke-width="3.3" stroke-linecap="round"/>
<line x1="184.25" y1="826.04" x2="183.71" y2="826.10" stroke="#32658e" stroke-width="3.3" stroke-linecap="round"/>
<line x1="183.71" y1="826.10" x2="183.17" y2="826.14" stroke="#31668e" stroke-width="3.3" stroke-linecap="round"/>
<line x1="183.17" y1="826.14" x2="182.64" y2="826.18" stroke="#31688e" stroke-width="3.3" stroke-linecap="round"/>
<line x1="182.64" y1="826.18" x2="182.12" y2="826.20" stroke="#30698e" stroke-width="3.3" stroke-linecap="round"/>
<line x1="182.12" y1="826.20" x2="181.61" y2="826.21" stroke="#306a8e" stroke-width="3.3" stroke-linecap="round"/>
<line x1="181.61" y1="826.21" x2="181.10" y2="826.20" stroke="#2f6b8e" stroke-width="3.3" stroke-linecap="round"/>
<line x1="181.10" y1="826.20" x2="180.60" y2="826.18" stroke="#2e6d8e" stroke-width="3.3" stroke-linecap="round"/>
<line x1="180.60" y1="826.18" x2="180.12" y2="826.13" stroke="#2e6e8e" stroke-width="3.3" stroke-linecap="round"/>
<line x1="180.12" y1="826.13" x2="179.64" y2="826.07" stroke="#2d708e" stroke-width="3.3" stroke-linecap="round"/>
<line x1="179.64" y1="826.07" x2="179.17" y2="825.99" stroke="#2d718e" stroke-width="3.3" stroke-linecap="round"/>
<line x1="179.17" y1="825.99" x2="178.70" y2="825.90" stroke="#2c728e" stroke-width="3.3" stroke-linecap="round"/>
<line x1="178.70" y1="825.90" x2="178.24" y2="825.80" stroke="#2c738e" stroke-width="3.3" stroke-linecap="round"/>
<line x1="178.24" y1="825.80" x2="177.78" y2="825.70" stroke="#2b758e" stroke-width="3.3" stroke-linecap="round"/>
<line x1="177.78" y1="825.70" x2="177.32" y2="825.59" stroke="#2a768e" stroke-width="3.3" stroke-linecap="round"/>
<line x1="177.32" y1="825.59" x2="176.87" y2="825.48" stroke="#2a788e" stroke-width="3.3" stroke-linecap="round"/>
<line x1="176.87" y1="825.48" x2="176.41" y2="825.38" stroke="#29798e" stroke-width="3.3" stroke-linecap="round"/>
<line x1="176.41" y1="825.38" x2="175.96" y2="825.29" stroke="#297b8e" stroke-width="3.3" stroke-linecap="round"/>
<line x1="175.96" y1="825.29" x2="175.50" y2="825.20" stroke="#287c8e" stroke-width="3.3" stroke-linecap="round"/>
<line x1="175.50" y1="825.20" x2="175.04" y2="825.12" stroke="#277e8e" stroke-width="3.3" stroke-linecap="round"/>
<line x1="175.04" y1="825.12" x2="174.58" y2="825.03" stroke="#277f8e" stroke-width="3.3" stroke-linecap="round"/>
<line x1="174.58" y1="825.03" x2="174.12" y2="824.94" stroke="#27808e" stroke-width="3.3" stroke-linecap="round"/>
<line x1="174.12" y1="824.94" x2="173.66" y2="824.84" stroke="#26828e" stroke-width="3.3" stroke-linecap="round"/>
<line x1="173.66" y1="824.84" x2="173.20" y2="824.75" stroke="#26828e" stroke-width="3.3" stroke-linecap="round"/>
<line x1="173.20" y1="824.75" x2="172.74" y2="824.66" stroke="#25838e" stroke-width="3.3" stroke-linecap="round"/>
<line x1="172.74" y1="824.66" x2="172.28" y2="824.57" stroke="#25848e" stroke-width="3.3" stroke-linecap="round"/>
<line x1="172.28" y1="824.57" x2="171.83" y2="824.49" stroke="#24868e" stroke-width="3.3" stroke-linecap="round"/>
<line x1="171.83" y1="824.49" x2="171.39" y2="824.42" stroke="#24878e" stroke-width="3.3" stroke-linecap="round"/>
<line x1="171.39" y1="824.42" x2="170.95" y2="824.37" stroke="#23888e" stroke-width="3.3" stroke-linecap="round"/>
<line x1="170.95" y1="824.37" x2="170.52" y2="824.33" stroke="#23898e" stroke-width="3.3" stroke-linecap="round"/>
<line x1="170.52" y1="824.33" x2="170.10" y2="824.30" stroke="#228b8d" stroke-width="3.3" stroke-linecap="round"/>
<line x1="170.10" y1="824.30" x2="169.69" y2="824.29" stroke="#228c8d" stroke-width="3.3" stroke-linecap="round"/>
<line x1="169.69" y1="824.29" x2="169.29" y2="824.29" stroke="#228d8d" stroke-width="3.3" stroke-linecap="round"/>
<line x1="169.29" y1="824.29" x2="168.89" y2="824.31" stroke="#218e8d" stroke-width="3.3" stroke-linecap="round"/>
<line x1="168.89" y1="824.31" x2="168.50" y2="824.33" stroke="#218f8d" stroke-width="3.3" stroke-linecap="round"/>
<line x1="168.50" y1="824.33" x2="168.12" y2="824.36" stroke="#21908d" stroke-width="3.3" stroke-linecap="round"/>
<line x1="168.12" y1="824.36" x2="167.74" y2="824.41" stroke="#21918c" stroke-width="3.3" stroke-linecap="round"/>
<line x1="167.74" y1="824.41" x2="167.37" y2="824.46" stroke="#20928c" stroke-width="3.3" stroke-linecap="round"/>
<line x1="167.37" y1="824.46" x2="167.00" y2="824.51" stroke="#20928c" stroke-width="3.3" stroke-linecap="round"/>
<line x1="167.00" y1="824.51" x2="166.62" y2="824.58" stroke="#20938c" stroke-width="3.3" stroke-linecap="round"/>
<line x1="166.62" y1="824.58" x2="166.25" y2="824.65" stroke="#1f958b" stroke-width="3.3" stroke-linecap="round"/>
<line x1="166.25" y1="824.65" x2="165.88" y2="824.72" stroke="#1f968b" stroke-width="3.3" stroke-linecap="round"/>
<line x1="165.88" y1="824.72" x2="165.50" y2="824.80" stroke="#1f978b" stroke-width="3.3" stroke-linecap="round"/>
<line x1="165.50" y1="824.80" x2="165.12" y2="824.88" stroke="#1f988b" stroke-width="3.3" stroke-linecap="round"/>
<line x1="165.12" y1="824.88" x2="164.73" y2="824.95" stroke="#1f998a" stroke-width="3.3" stroke-linecap="round"/>
<line x1="164.73" y1="824.95" x2="164.33" y2="825.03" stroke="#1f9a8a" stroke-width="3.3" stroke-linecap="round"/>
<line x1="164.33" y1="825.03" x2="163.94" y2="825.11" stroke="#1e9b8a" stroke-width="3.3" stroke-linecap="round"/>
<line x1="163.94" y1="825.11" x2="163.54" y2="825.20" stroke="#1e9c89" stroke-width="3.3" stroke-linecap="round"/>
<line x1="163.54" y1="825.20" x2="163.15" y2="825.29" stroke="#1e9d89" stroke-width="3.3" stroke-linecap="round"/>
<line x1="163.15" y1="825.29" x2="162.76" y2="825.40" stroke="#1f9e89" stroke-width="3.3" stroke-linecap="round"/>
<line x1="162.76" y1="825.40" x2="162.39" y2="825.52" stroke="#1f9f88" stroke-width="3.3" stroke-linecap="round"/>
<line x1="162.39" y1="825.52" x2="162.02" y2="825.66" stroke="#1fa088" stroke-width="3.3" stroke-linecap="round"/>
<line x1="162.02" y1="825.66" x2="161.66" y2="825.82" stroke="#1fa188" stroke-width="3.3" stroke-linecap="round"/>
<line x1="161.66" y1="825.82" x2="161.32" y2="826.00" stroke="#1fa187" stroke-width="3.3" stroke-linecap="round"/>
<line x1="161.32" y1="826.00" x2="161.00" y2="826.20" stroke="#1fa287" stroke-width="3.3" stroke-linecap="round"/>
<line x1="161.00" y1="826.20" x2="160.69" y2="826.43" stroke="#20a386" stroke-width="3.3" stroke-linecap="round"/>
<line x1="160.69" y1="826.43" x2="160.40" y2="826.69" stroke="#20a486" stroke-width="3.3" stroke-linecap="round"/>
<line x1="160.40" y1="826.69" x2="160.12" y2="826.97" stroke="#21a585" stroke-width="3.3" stroke-linecap="round"/>
<line x1="160.12" y1="826.97" x2="159.86" y2="827.27" stroke="#21a685" stroke-width="3.3" stroke-linecap="round"/>
<line x1="159.86" y1="827.27" x2="159.60" y2="827.58" stroke="#22a785" stroke-width="3.3" stroke-linecap="round"/>
<line x1="159.60" y1="827.58" x2="159.35" y2="827.91" stroke="#22a884" stroke-width="3.3" stroke-linecap="round"/>
<line x1="159.35" y1="827.91" x2="159.11" y2="828.25" stroke="#23a983" stroke-width="3.3" stroke-linecap="round"/>
<line x1="159.11" y1="828.25" x2="158.88" y2="828.60" stroke="#23a983" stroke-width="3.3" stroke-linecap="round"/>
<line x1="158.88" y1="828.60" x2="158.65" y2="828.95" stroke="#24aa83" stroke-width="3.3" stroke-linecap="round"/>
<line x1="158.65" y1="828.95" x2="158.43" y2="829.30" stroke="#25ab82" stroke-width="3.3" stroke-linecap="round"/>
<line x1="158.43" y1="829.30" x2="158.21" y2="829.65" stroke="#25ac82" stroke-width="3.3" stroke-linecap="round"/>
<line x1="158.21" y1="829.65" x2="158.00" y2="830.00" stroke="#26ad81" stroke-width="3.3" stroke-linecap="round"/>
<line x1="158.00" y1="830.00" x2="157.79" y2="830.36" stroke="#27ad81" stroke-width="3.3" stroke-linecap="round"/>
<line x1="157.79" y1="830.36" x2="157.57" y2="830.75" stroke="#27ad81" stroke-width="3.3" stroke-linecap="round"/>
<line x1="157.57" y1="830.75" x2="157.36" y2="831.16" stroke="#28ae80" stroke-width="3.3" stroke-linecap="round"/>
<line x1="157.36" y1="831.16" x2="157.16" y2="831.59" stroke="#28ae80" stroke-width="3.3" stroke-linecap="round"/>
<line x1="157.16" y1="831.59" x2="156.95" y2="832.01" stroke="#29af7f" stroke-width="3.3" stroke-linecap="round"/>
<line x1="156.95" y1="832.01" x2="156.76" y2="832.44" stroke="#2ab07f" stroke-width="3.3" stroke-linecap="round"/>
<line x1="156.76" y1="832.44" x2="156.58" y2="832.85" stroke="#2ab07f" stroke-width="3.3" stroke-linecap="round"/>
<line x1="156.58" y1="832.85" x2="156.41" y2="833.24" stroke="#2cb17e" stroke-width="3.3" stroke-linecap="round"/>
<line x1="156.41" y1="833.24" x2="156.26" y2="833.60" stroke="#2db27d" stroke-width="3.3" stroke-linecap="round"/>
<line x1="156.26" y1="833.60" x2="156.12" y2="833.91" stroke="#2db27d" stroke-width="3.3" stroke-linecap="round"/>
<line x1="156.12" y1="833.91" x2="156.00" y2="834.19" stroke="#2eb37c" stroke-width="3.3" stroke-linecap="round"/>
<line x1="156.00" y1="834.19" x2="155.90" y2="834.40" stroke="#2fb47c" stroke-width="3.3" stroke-linecap="round"/>
<line x1="1078.50" y1="223.00" x2="1078.30" y2="223.32" stroke="#440256" stroke-width="3.3" stroke-linecap="round"/>
<line x1="1078.30" y1="223.32" x2="1078.06" y2="223.73" stroke="#450559" stroke-width="3.3" stroke-linecap="round"/>
<line x1="1078.06" y1="223.73" x2="1077.77" y2="224.19" stroke="#46085c" stroke-width="3.3" stroke-linecap="round"/>
<line x1="1077.77" y1="224.19" x2="1077.45" y2="224.72" stroke="#460b5e" stroke-width="3.3" stroke-linecap="round"/>
<line x1="1077.45" y1="224.72" x2="1077.10" y2="225.29" stroke="#470e61" stroke-width="3.3" stroke-linecap="round"/>
<line x1="1077.10" y1="225.29" x2="1076.73" y2="225.90" stroke="#471164" stroke-width="3.3" stroke-linecap="round"/>
<line x1="1076.73" y1="225.90" x2="1076.34" y2="226.54" stroke="#481467" stroke-width="3.3" stroke-linecap="round"/>
<line x1="1076.34" y1="226.54" x2="1075.94" y2="227.19" stroke="#48186a" stroke-width="3.3" stroke-linecap="round"/>
<line x1="1075.94" y1="227.19" x2="1075.53" y2="227.86" stroke="#481b6d" stroke-width="3.3" stroke-linecap="round"/>
<line x1="1075.53" y1="227.86" x2="1075.11" y2="228.52" stroke="#481d6f" stroke-width="3.3" stroke-linecap="round"/>
<line x1="1075.11" y1="228.52" x2="1074.70" y2="229.17" stroke="#482071" stroke-width="3.3" stroke-linecap="round"/>
<line x1="1074.70" y1="229.17" x2="1074.30" y2="229.80" stroke="#482374" stroke-width="3.3" stroke-linecap="round"/>
<line x1="1074.30" y1="229.80" x2="1073.90" y2="230.42" stroke="#482576" stroke-width="3.3" stroke-linecap="round"/>
<line x1="1073.90" y1="230.42" x2="1073.48" y2="231.06" stroke="#482979" stroke-width="3.3" stroke-linecap="round"/>
<line x1="1073.48" y1="231.06" x2="1073.06" y2="231.71" stroke="#472d7b" stroke-width="3.3" stroke-linecap="round"/>
<line x1="1073.06" y1="231.71" x2="1072.63" y2="232.37" stroke="#472f7d" stroke-width="3.3" stroke-linecap="round"/>
<line x1="1072.63" y1="232.37" x2="1072.18" y2="233.04" stroke="#46337f" stroke-width="3.3" stroke-linecap="round"/>
<line x1="1072.18" y1="233.04" x2="1071.74" y2="233.71" stroke="#453581" stroke-width="3.3" stroke-linecap="round"/>
<line x1="1071.74" y1="233.71" x2="1071.29" y2="234.39" stroke="#443983" stroke-width="3.3" stroke-linecap="round"/>
<line x1="1071.29" y1="234.39" x2="1070.83" y2="235.07" stroke="#443b84" stroke-width="3.3" stroke-linecap="round"/>
<line x1="1070.83" y1="235.07" x2="1070.37" y2="235.76" stroke="#423f85" stroke-width="3.3" stroke-linecap="round"/>
<line x1="1070.37" y1="235.76" x2="1069.91" y2="236.44" stroke="#424186" stroke-width="3.3" stroke-linecap="round"/>
<line x1="1069.91" y1="236.44" x2="1069.46" y2="237.12" stroke="#404588" stroke-width="3.3" stroke-linecap="round"/>
<line x1="1069.46" y1="237.12" x2="1069.00" y2="237.80" stroke="#3f4889" stroke-width="3.3" stroke-linecap="round"/>
<line x1="1069.00" y1="237.80" x2="1068.54" y2="238.48" stroke="#3e4a89" stroke-width="3.3" stroke-linecap="round"/>
<line x1="1068.54" y1="238.48" x2="1068.08" y2="239.16" stroke="#3d4e8a" stroke-width="3.3" stroke-linecap="round"/>
<line x1="1068.08" y1="239.16" x2="1067.62" y2="239.84" stroke="#3b518b" stroke-width="3.3" stroke-linecap="round"/>
<line x1="1067.62" y1="239.84" x2="1067.15" y2="240.53" stroke="#3a548c" stroke-width="3.3" stroke-linecap="round"/>
<line x1="1067.15" y1="240.53" x2="1066.68" y2="241.21" stroke="#39568c" stroke-width="3.3" stroke-linecap="round"/>
<line x1="1066.68" y1="241.21" x2="1066.21" y2="241.90" stroke="#375a8c" stroke-width="3.3" stroke-linecap="round"/>
<line x1="1066.21" y1="241.90" x2="1065.73" y2="242.59" stroke="#365d8d" stroke-width="3.3" stroke-linecap="round"/>
<line x1="1065.73" y1="242.59" x2="1065.26" y2="243.27" stroke="#34608d" stroke-width="3.3" stroke-linecap="round"/>
<line x1="1065.26" y1="243.27" x2="1064.79" y2="243.96" stroke="#33628d" stroke-width="3.3" stroke-linecap="round"/>
<line x1="1064.79" y1="243.96" x2="1064.33" y2="244.64" stroke="#32658e" stroke-width="3.3" stroke-linecap="round"/>
<line x1="1064.33" y1="244.64" x2="1063.86" y2="245.32" stroke="#31688e" stroke-width="3.3" stroke-linecap="round"/>
<line x1="1063.86" y1="245.32" x2="1063.40" y2="246.00" stroke="#2f6b8e" stroke-width="3.3" stroke-linecap="round"/>
<line x1="1063.40" y1="246.00" x2="1062.94" y2="246.68" stroke="#2e6d8e" stroke-width="3.3" stroke-linecap="round"/>
<line x1="1062.94" y1="246.68" x2="1062.48" y2="247.36" stroke="#2d708e" stroke-width="3.3" stroke-linecap="round"/>
<line x1="1062.48" y1="247.36" x2="1062.02" y2="248.04" stroke="#2c728e" stroke-width="3.3" stroke-linecap="round"/>
<line x1="1062.02" y1="248.04" x2="1061.56" y2="248.72" stroke="#2b758e" stroke-width="3.3" stroke-linecap="round"/>
<line x1="1061.56" y1="248.72" x2="1061.10" y2="249.40" stroke="#2a788e" stroke-width="3.3" stroke-linecap="round"/>
<line x1="1061.10" y1="249.40" x2="1060.64" y2="250.07" stroke="#297a8e" stroke-width="3.3" stroke-linecap="round"/>
<line x1="1060.64" y1="250.07" x2="1060.19" y2="250.75" stroke="#287d8e" stroke-width="3.3" stroke-linecap="round"/>
<line x1="1060.19" y1="250.75" x2="1059.74" y2="251.41" stroke="#27808e" stroke-width="3.3" stroke-linecap="round"/>
<line x1="1059.74" y1="251.41" x2="1059.30" y2="252.08" stroke="#26828e" stroke-width="3.3" stroke-linecap="round"/>
<line x1="1059.30" y1="252.08" x2="1058.86" y2="252.73" stroke="#25848e" stroke-width="3.3" stroke-linecap="round"/>
<line x1="1058.86" y1="252.73" x2="1058.42" y2="253.37" stroke="#24878e" stroke-width="3.3" stroke-linecap="round"/>
<line x1="1058.42" y1="253.37" x2="1058.00" y2="254.00" stroke="#238a8d" stroke-width="3.3" stroke-linecap="round"/>
<line x1="1058.00" y1="254.00" x2="1057.58" y2="254.62" stroke="#228c8d" stroke-width="3.3" stroke-linecap="round"/>
<line x1="1057.58" y1="254.62" x2="1057.16" y2="255.24" stroke="#218e8d" stroke-width="3.3" stroke-linecap="round"/>
<line x1="1057.16" y1="255.24" x2="1056.74" y2="255.86" stroke="#218f8d" stroke-width="3.3" stroke-linecap="round"/>
<line x1="1056.74" y1="255.86" x2="1056.33" y2="256.46" stroke="#21918c" stroke-width="3.3" stroke-linecap="round"/>
<line x1="1056.33" y1="256.46" x2="1055.92" y2="257.06" stroke="#20928c" stroke-width="3.3" stroke-linecap="round"/>
<line x1="1055.92" y1="257.06" x2="1055.52" y2="257.66" stroke="#20938c" stroke-width="3.3" stroke-linecap="round"/>
<line x1="1055.52" y1="257.66" x2="1055.12" y2="258.24" stroke="#1f948c" stroke-width="3.3" stroke-linecap="round"/>
<line x1="1055.12" y1="258.24" x2="1054.74" y2="258.81" stroke="#1f968b" stroke-width="3.3" stroke-linecap="round"/>
<line x1="1054.74" y1="258.81" x2="1054.36" y2="259.38" stroke="#1f978b" stroke-width="3.3" stroke-linecap="round"/>
<line x1="1054.36" y1="259.38" x2="1053.99" y2="259.93" stroke="#1f998a" stroke-width="3.3" stroke-linecap="round"/>
<line x1="1053.99" y1="259.93" x2="1053.64" y2="260.47" stroke="#1f9a8a" stroke-width="3.3" stroke-linecap="round"/>
<line x1="1053.64" y1="260.47" x2="1053.30" y2="261.00" stroke="#1e9c89" stroke-width="3.3" stroke-linecap="round"/>
<line x1="1053.30" y1="261.00" x2="1052.97" y2="261.52" stroke="#1e9d89" stroke-width="3.3" stroke-linecap="round"/>
<line x1="1052.97" y1="261.52" x2="1052.65" y2="262.03" stroke="#1f9f88" stroke-width="3.3" stroke-linecap="round"/>
<line x1="1052.65" y1="262.03" x2="1052.34" y2="262.53" stroke="#1fa088" stroke-width="3.3" stroke-linecap="round"/>
<line x1="1052.34" y1="262.53" x2="1052.04" y2="263.02" stroke="#1fa187" stroke-width="3.3" stroke-linecap="round"/>
<line x1="1052.04" y1="263.02" x2="1051.74" y2="263.50" stroke="#1fa287" stroke-width="3.3" stroke-linecap="round"/>
<line x1="1051.74" y1="263.50" x2="1051.46" y2="263.97" stroke="#20a486" stroke-width="3.3" stroke-linecap="round"/>
<line x1="1051.46" y1="263.97" x2="1051.19" y2="264.43" stroke="#21a585" stroke-width="3.3" stroke-linecap="round"/>
<line x1="1051.19" y1="264.43" x2="1050.93" y2="264.88" stroke="#22a785" stroke-width="3.3" stroke-linecap="round"/>
<line x1="1050.93" y1="264.88" x2="1050.68" y2="265.31" stroke="#22a884" stroke-width="3.3" stroke-linecap="round"/>
<line x1="1050.68" y1="265.31" x2="1050.44" y2="265.72" stroke="#23a983" stroke-width="3.3" stroke-linecap="round"/>
<line x1="1050.44" y1="265.72" x2="1050.21" y2="266.12" stroke="#25ab82" stroke-width="3.3" stroke-linecap="round"/>
<line x1="1050.21" y1="266.12" x2="1050.00" y2="266.50" stroke="#25ac82" stroke-width="3.3" stroke-linecap="round"/>
<line x1="1050.00" y1="266.50" x2="1049.80" y2="266.87" stroke="#26ad81" stroke-width="3.3" stroke-linecap="round"/>
<line x1="1049.80" y1="266.87" x2="1049.60" y2="267.23" stroke="#27ad81" stroke-width="3.3" stroke-linecap="round"/>
<line x1="1049.60" y1="267.23" x2="1049.42" y2="267.58" stroke="#27ad81" stroke-width="3.3" stroke-linecap="round"/>
<line x1="1049.42" y1="267.58" x2="1049.25" y2="267.91" stroke="#27ad81" stroke-width="3.3" stroke-linecap="round"/>
<line x1="1049.25" y1="267.91" x2="1049.09" y2="268.24" stroke="#27ad81" stroke-width="3.3" stroke-linecap="round"/>
<line x1="1049.09" y1="268.24" x2="1048.94" y2="268.54" stroke="#27ad81" stroke-width="3.3" stroke-linecap="round"/>
<line x1="1048.94" y1="268.54" x2="1048.81" y2="268.83" stroke="#28ae80" stroke-width="3.3" stroke-linecap="round"/>
<line x1="1048.81" y1="268.83" x2="1048.68" y2="269.10" stroke="#28ae80" stroke-width="3.3" stroke-linecap="round"/>
<line x1="1048.68" y1="269.10" x2="1048.57" y2="269.34" stroke="#28ae80" stroke-width="3.3" stroke-linecap="round"/>
<line x1="1048.57" y1="269.34" x2="1048.47" y2="269.55" stroke="#28ae80" stroke-width="3.3" stroke-linecap="round"/>
<line x1="1048.47" y1="269.55" x2="1048.38" y2="269.74" stroke="#28ae80" stroke-width="3.3" stroke-linecap="round"/>
<line x1="1048.38" y1="269.74" x2="1048.30" y2="269.90" stroke="#29af7f" stroke-width="3.3" stroke-linecap="round"/>
<line x1="1079.20" y1="224.00" x2="1079.03" y2="224.33" stroke="#440256" stroke-width="3.3" stroke-linecap="round"/>
<line x1="1079.03" y1="224.33" x2="1078.81" y2="224.74" stroke="#450559" stroke-width="3.3" stroke-linecap="round"/>
<line x1="1078.81" y1="224.74" x2="1078.57" y2="225.22" stroke="#460a5d" stroke-width="3.3" stroke-linecap="round"/>
<line x1="1078.57" y1="225.22" x2="1078.29" y2="225.76" stroke="#470d60" stroke-width="3.3" stroke-linecap="round"/>
<line x1="1078.29" y1="225.76" x2="1077.99" y2="226.34" stroke="#471164" stroke-width="3.3" stroke-linecap="round"/>
<line x1="1077.99" y1="226.34" x2="1077.66" y2="226.97" stroke="#481668" stroke-width="3.3" stroke-linecap="round"/>
<line x1="1077.66" y1="226.97" x2="1077.32" y2="227.62" stroke="#48186a" stroke-width="3.3" stroke-linecap="round"/>
<line x1="1077.32" y1="227.62" x2="1076.97" y2="228.30" stroke="#481c6e" stroke-width="3.3" stroke-linecap="round"/>
<line x1="1076.97" y1="228.30" x2="1076.60" y2="228.98" stroke="#481f70" stroke-width="3.3" stroke-linecap="round"/>
<line x1="1076.60" y1="228.98" x2="1076.23" y2="229.67" stroke="#482374" stroke-width="3.3" stroke-linecap="round"/>
<line x1="1076.23" y1="229.67" x2="1075.87" y2="230.34" stroke="#482576" stroke-width="3.3" stroke-linecap="round"/>
<line x1="1075.87" y1="230.34" x2="1075.50" y2="231.00" stroke="#482979" stroke-width="3.3" stroke-linecap="round"/>
<line x1="1075.50" y1="231.00" x2="1075.13" y2="231.65" stroke="#472d7b" stroke-width="3.3" stroke-linecap="round"/>
<line x1="1075.13" y1="231.65" x2="1074.75" y2="232.32" stroke="#472f7d" stroke-width="3.3" stroke-linecap="round"/>
<line x1="1074.75" y1="232.32" x2="1074.35" y2="233.01" stroke="#46337f" stroke-width="3.3" stroke-linecap="round"/>
<line x1="1074.35" y1="233.01" x2="1073.95" y2="233.70" stroke="#453781" stroke-width="3.3" stroke-linecap="round"/>
<line x1="1073.95" y1="233.70" x2="1073.53" y2="234.41" stroke="#443a83" stroke-width="3.3" stroke-linecap="round"/>
<line x1="1073.53" y1="234.41" x2="1073.11" y2="235.12" stroke="#433d84" stroke-width="3.3" stroke-linecap="round"/>
<line x1="1073.11" y1="235.12" x2="1072.68" y2="235.85" stroke="#424086" stroke-width="3.3" stroke-linecap="round"/>
<line x1="1072.68" y1="235.85" x2="1072.25" y2="236.57" stroke="#414487" stroke-width="3.3" stroke-linecap="round"/>
<line x1="1072.25" y1="236.57" x2="1071.82" y2="237.30" stroke="#3f4788" stroke-width="3.3" stroke-linecap="round"/>
<line x1="1071.82" y1="237.30" x2="1071.38" y2="238.04" stroke="#3e4a89" stroke-width="3.3" stroke-linecap="round"/>
<line x1="1071.38" y1="238.04" x2="1070.94" y2="238.77" stroke="#3d4d8a" stroke-width="3.3" stroke-linecap="round"/>
<line x1="1070.94" y1="238.77" x2="1070.50" y2="239.50" stroke="#3c508b" stroke-width="3.3" stroke-linecap="round"/>
<line x1="1070.50" y1="239.50" x2="1070.06" y2="240.23" stroke="#3a538b" stroke-width="3.3" stroke-linecap="round"/>
<line x1="1070.06" y1="240.23" x2="1069.61" y2="240.98" stroke="#39568c" stroke-width="3.3" stroke-linecap="round"/>
<line x1="1069.61" y1="240.98" x2="1069.15" y2="241.73" stroke="#38598c" stroke-width="3.3" stroke-linecap="round"/>
<line x1="1069.15" y1="241.73" x2="1068.69" y2="242.48" stroke="#365c8d" stroke-width="3.3" stroke-linecap="round"/>
<line x1="1068.69" y1="242.48" x2="1068.23" y2="243.24" stroke="#355f8d" stroke-width="3.3" stroke-linecap="round"/>
<line x1="1068.23" y1="243.24" x2="1067.76" y2="244.00" stroke="#33628d" stroke-width="3.3" stroke-linecap="round"/>
<line x1="1067.76" y1="244.00" x2="1067.30" y2="244.76" stroke="#32658e" stroke-width="3.3" stroke-linecap="round"/>
<line x1="1067.30" y1="244.76" x2="1066.83" y2="245.52" stroke="#31678e" stroke-width="3.3" stroke-linecap="round"/>
<line x1="1066.83" y1="245.52" x2="1066.37" y2="246.27" stroke="#306a8e" stroke-width="3.3" stroke-linecap="round"/>
<line x1="1066.37" y1="246.27" x2="1065.91" y2="247.02" stroke="#2e6d8e" stroke-width="3.3" stroke-linecap="round"/>
<line x1="1065.91" y1="247.02" x2="1065.45" y2="247.77" stroke="#2d708e" stroke-width="3.3" stroke-linecap="round"/>
<line x1="1065.45" y1="247.77" x2="1065.00" y2="248.50" stroke="#2c718e" stroke-width="3.3" stroke-linecap="round"/>
<line x1="1065.00" y1="248.50" x2="1064.55" y2="249.23" stroke="#2b748e" stroke-width="3.3" stroke-linecap="round"/>
<line x1="1064.55" y1="249.23" x2="1064.11" y2="249.95" stroke="#2a778e" stroke-width="3.3" stroke-linecap="round"/>
<line x1="1064.11" y1="249.95" x2="1063.66" y2="250.67" stroke="#29798e" stroke-width="3.3" stroke-linecap="round"/>
<line x1="1063.66" y1="250.67" x2="1063.21" y2="251.39" stroke="#287c8e" stroke-width="3.3" stroke-linecap="round"/>
<line x1="1063.21" y1="251.39" x2="1062.77" y2="252.10" stroke="#277e8e" stroke-width="3.3" stroke-linecap="round"/>
<line x1="1062.77" y1="252.10" x2="1062.32" y2="252.81" stroke="#26818e" stroke-width="3.3" stroke-linecap="round"/>
<line x1="1062.32" y1="252.81" x2="1061.89" y2="253.52" stroke="#26828e" stroke-width="3.3" stroke-linecap="round"/>
<line x1="1061.89" y1="253.52" x2="1061.46" y2="254.22" stroke="#25858e" stroke-width="3.3" stroke-linecap="round"/>
<line x1="1061.46" y1="254.22" x2="1061.03" y2="254.92" stroke="#23888e" stroke-width="3.3" stroke-linecap="round"/>
<line x1="1061.03" y1="254.92" x2="1060.61" y2="255.62" stroke="#238a8d" stroke-width="3.3" stroke-linecap="round"/>
<line x1="1060.61" y1="255.62" x2="1060.20" y2="256.31" stroke="#228d8d" stroke-width="3.3" stroke-linecap="round"/>
<line x1="1060.20" y1="256.31" x2="1059.80" y2="257.00" stroke="#218f8d" stroke-width="3.3" stroke-linecap="round"/>
<line x1="1059.80" y1="257.00" x2="1059.41" y2="257.69" stroke="#20928c" stroke-width="3.3" stroke-linecap="round"/>
<line x1="1059.41" y1="257.69" x2="1059.01" y2="258.38" stroke="#20938c" stroke-width="3.3" stroke-linecap="round"/>
<line x1="1059.01" y1="258.38" x2="1058.62" y2="259.07" stroke="#1f968b" stroke-width="3.3" stroke-linecap="round"/>
<line x1="1058.62" y1="259.07" x2="1058.24" y2="259.76" stroke="#1f988b" stroke-width="3.3" stroke-linecap="round"/>
<line x1="1058.24" y1="259.76" x2="1057.86" y2="260.44" stroke="#1e9b8a" stroke-width="3.3" stroke-linecap="round"/>
<line x1="1057.86" y1="260.44" x2="1057.49" y2="261.12" stroke="#1f9e89" stroke-width="3.3" stroke-linecap="round"/>
<line x1="1057.49" y1="261.12" x2="1057.13" y2="261.80" stroke="#1fa088" stroke-width="3.3" stroke-linecap="round"/>
<line x1="1057.13" y1="261.80" x2="1056.78" y2="262.46" stroke="#1fa287" stroke-width="3.3" stroke-linecap="round"/>
<line x1="1056.78" y1="262.46" x2="1056.44" y2="263.12" stroke="#20a486" stroke-width="3.3" stroke-linecap="round"/>
<line x1="1056.44" y1="263.12" x2="1056.11" y2="263.76" stroke="#22a785" stroke-width="3.3" stroke-linecap="round"/>
<line x1="1056.11" y1="263.76" x2="1055.80" y2="264.39" stroke="#23a983" stroke-width="3.3" stroke-linecap="round"/>
<line x1="1055.80" y1="264.39" x2="1055.50" y2="265.00" stroke="#25ac82" stroke-width="3.3" stroke-linecap="round"/>
<line x1="1055.50" y1="265.00" x2="1055.22" y2="265.60" stroke="#28ae80" stroke-width="3.3" stroke-linecap="round"/>
<line x1="1055.22" y1="265.60" x2="1054.95" y2="266.19" stroke="#2ab07f" stroke-width="3.3" stroke-linecap="round"/>
<line x1="1054.95" y1="266.19" x2="1054.70" y2="266.78" stroke="#2eb37c" stroke-width="3.3" stroke-linecap="round"/>
<line x1="1054.70" y1="266.78" x2="1054.46" y2="267.35" stroke="#32b67a" stroke-width="3.3" stroke-linecap="round"/>
<line x1="1054.46" y1="267.35" x2="1054.23" y2="267.92" stroke="#37b878" stroke-width="3.3" stroke-linecap="round"/>
<line x1="1054.23" y1="267.92" x2="1054.01" y2="268.47" stroke="#3aba76" stroke-width="3.3" stroke-linecap="round"/>
<line x1="1054.01" y1="268.47" x2="1053.79" y2="269.01" stroke="#3fbc73" stroke-width="3.3" stroke-linecap="round"/>
<line x1="1053.79" y1="269.01" x2="1053.59" y2="269.54" stroke="#44bf70" stroke-width="3.3" stroke-linecap="round"/>
<line x1="1053.59" y1="269.54" x2="1053.39" y2="270.05" stroke="#4ac16d" stroke-width="3.3" stroke-linecap="round"/>
<line x1="1053.39" y1="270.05" x2="1053.19" y2="270.55" stroke="#50c46a" stroke-width="3.3" stroke-linecap="round"/>
<line x1="1053.19" y1="270.55" x2="1053.00" y2="271.03" stroke="#54c568" stroke-width="3.3" stroke-linecap="round"/>
<line x1="1053.00" y1="271.03" x2="1052.80" y2="271.50" stroke="#5ac864" stroke-width="3.3" stroke-linecap="round"/>
<line x1="1052.80" y1="271.50" x2="1052.61" y2="271.95" stroke="#60ca60" stroke-width="3.3" stroke-linecap="round"/>
<line x1="1052.61" y1="271.95" x2="1052.43" y2="272.38" stroke="#67cc5c" stroke-width="3.3" stroke-linecap="round"/>
<line x1="1052.43" y1="272.38" x2="1052.26" y2="272.79" stroke="#70cf57" stroke-width="3.3" stroke-linecap="round"/>
<line x1="1052.26" y1="272.79" x2="1052.09" y2="273.19" stroke="#77d153" stroke-width="3.3" stroke-linecap="round"/>
<line x1="1052.09" y1="273.19" x2="1051.93" y2="273.57" stroke="#7fd34e" stroke-width="3.3" stroke-linecap="round"/>
<line x1="1051.93" y1="273.57" x2="1051.78" y2="273.94" stroke="#86d549" stroke-width="3.3" stroke-linecap="round"/>
<line x1="1051.78" y1="273.94" x2="1051.62" y2="274.30" stroke="#8ed645" stroke-width="3.3" stroke-linecap="round"/>
<line x1="1051.62" y1="274.30" x2="1051.46" y2="274.65" stroke="#98d83e" stroke-width="3.3" stroke-linecap="round"/>
<line x1="1051.46" y1="274.65" x2="1051.30" y2="274.99" stroke="#a0da39" stroke-width="3.3" stroke-linecap="round"/>
<line x1="1051.30" y1="274.99" x2="1051.14" y2="275.33" stroke="#a8db34" stroke-width="3.3" stroke-linecap="round"/>
<line x1="1051.14" y1="275.33" x2="1050.97" y2="275.67" stroke="#b0dd2f" stroke-width="3.3" stroke-linecap="round"/>
<line x1="1050.97" y1="275.67" x2="1050.80" y2="276.00" stroke="#b8de29" stroke-width="3.3" stroke-linecap="round"/>
<line x1="1050.80" y1="276.00" x2="1050.62" y2="276.33" stroke="#c0df25" stroke-width="3.3" stroke-linecap="round"/>
<line x1="1050.62" y1="276.33" x2="1050.44" y2="276.64" stroke="#c5e021" stroke-width="3.3" stroke-linecap="round"/>
<line x1="1050.44" y1="276.64" x2="1050.25" y2="276.95" stroke="#cae11f" stroke-width="3.3" stroke-linecap="round"/>
<line x1="1050.25" y1="276.95" x2="1050.06" y2="277.24" stroke="#d0e11c" stroke-width="3.3" stroke-linecap="round"/>
<line x1="1050.06" y1="277.24" x2="1049.87" y2="277.53" stroke="#d8e219" stroke-width="3.3" stroke-linecap="round"/>
<line x1="1049.87" y1="277.53" x2="1049.68" y2="277.81" stroke="#dde318" stroke-width="3.3" stroke-linecap="round"/>
<line x1="1049.68" y1="277.81" x2="1049.49" y2="278.09" stroke="#e2e418" stroke-width="3.3" stroke-linecap="round"/>
<line x1="1049.49" y1="278.09" x2="1049.29" y2="278.37" stroke="#e7e419" stroke-width="3.3" stroke-linecap="round"/>
<line x1="1049.29" y1="278.37" x2="1049.10" y2="278.65" stroke="#ece51b" stroke-width="3.3" stroke-linecap="round"/>
<line x1="1049.10" y1="278.65" x2="1048.90" y2="278.93" stroke="#f1e51d" stroke-width="3.3" stroke-linecap="round"/>
<line x1="1048.90" y1="278.93" x2="1048.70" y2="279.21" stroke="#f6e620" stroke-width="3.3" stroke-linecap="round"/>
<line x1="1048.70" y1="279.21" x2="1048.50" y2="279.50" stroke="#fbe723" stroke-width="3.3" stroke-linecap="round"/>
<line x1="1048.50" y1="279.50" x2="1048.29" y2="279.80" stroke="#fde725" stroke-width="3.3" stroke-linecap="round"/>
<line x1="1048.29" y1="279.80" x2="1048.07" y2="280.12" stroke="#fde725" stroke-width="3.3" stroke-linecap="round"/>
<line x1="1048.07" y1="280.12" x2="1047.83" y2="280.46" stroke="#fde725" stroke-width="3.3" stroke-linecap="round"/>
<line x1="1047.83" y1="280.46" x2="1047.59" y2="280.80" stroke="#fde725" stroke-width="3.3" stroke-linecap="round"/>
<line x1="1047.59" y1="280.80" x2="1047.35" y2="281.14" stroke="#fde725" stroke-width="3.3" stroke-linecap="round"/>
<line x1="1047.35" y1="281.14" x2="1047.11" y2="281.47" stroke="#fde725" stroke-width="3.3" stroke-linecap="round"/>
<line x1="1047.11" y1="281.47" x2="1046.87" y2="281.79" stroke="#fde725" stroke-width="3.3" stroke-linecap="round"/>
<line x1="1046.87" y1="281.79" x2="1046.66" y2="282.09" stroke="#fde725" stroke-width="3.3" stroke-linecap="round"/>
<line x1="1046.66" y1="282.09" x2="1046.45" y2="282.37" stroke="#fde725" stroke-width="3.3" stroke-linecap="round"/>
<line x1="1046.45" y1="282.37" x2="1046.27" y2="282.62" stroke="#fde725" stroke-width="3.3" stroke-linecap="round"/>
<line x1="1046.27" y1="282.62" x2="1046.12" y2="282.83" stroke="#fde725" stroke-width="3.3" stroke-linecap="round"/>
<line x1="1046.12" y1="282.83" x2="1046.00" y2="283.00" stroke="#fde725" stroke-width="3.3" stroke-linecap="round"/>
<line x1="1140.70" y1="402.60" x2="1140.09" y2="402.79" stroke="#414487" stroke-width="3.3" stroke-linecap="round"/>
<line x1="1140.09" y1="402.79" x2="1139.32" y2="403.04" stroke="#404688" stroke-width="3.3" stroke-linecap="round"/>
<line x1="1139.32" y1="403.04" x2="1138.42" y2="403.32" stroke="#3f4788" stroke-width="3.3" stroke-linecap="round"/>
<line x1="1138.42" y1="403.32" x2="1137.42" y2="403.65" stroke="#3f4889" stroke-width="3.3" stroke-linecap="round"/>
<line x1="1137.42" y1="403.65" x2="1136.32" y2="404.00" stroke="#3e4989" stroke-width="3.3" stroke-linecap="round"/>
<line x1="1136.32" y1="404.00" x2="1135.16" y2="404.37" stroke="#3e4c8a" stroke-width="3.3" stroke-linecap="round"/>
<line x1="1135.16" y1="404.37" x2="1133.96" y2="404.75" stroke="#3d4d8a" stroke-width="3.3" stroke-linecap="round"/>
<line x1="1133.96" y1="404.75" x2="1132.73" y2="405.13" stroke="#3d4e8a" stroke-width="3.3" stroke-linecap="round"/>
<line x1="1132.73" y1="405.13" x2="1131.49" y2="405.50" stroke="#3c508b" stroke-width="3.3" stroke-linecap="round"/>
<line x1="1131.49" y1="405.50" x2="1130.28" y2="405.86" stroke="#3b518b" stroke-width="3.3" stroke-linecap="round"/>
<line x1="1130.28" y1="405.86" x2="1129.11" y2="406.20" stroke="#3b528b" stroke-width="3.3" stroke-linecap="round"/>
<line x1="1129.11" y1="406.20" x2="1128.00" y2="406.50" stroke="#3a538b" stroke-width="3.3" stroke-linecap="round"/>
<line x1="1128.00" y1="406.50" x2="1126.93" y2="406.78" stroke="#39558c" stroke-width="3.3" stroke-linecap="round"/>
<line x1="1126.93" y1="406.78" x2="1125.86" y2="407.05" stroke="#39568c" stroke-width="3.3" stroke-linecap="round"/>
<line x1="1125.86" y1="407.05" x2="1124.79" y2="407.31" stroke="#38588c" stroke-width="3.3" stroke-linecap="round"/>
<line x1="1124.79" y1="407.31" x2="1123.73" y2="407.57" stroke="#375a8c" stroke-width="3.3" stroke-linecap="round"/>
<line x1="1123.73" y1="407.57" x2="1122.66" y2="407.82" stroke="#375b8d" stroke-width="3.3" stroke-linecap="round"/>
<line x1="1122.66" y1="407.82" x2="1121.58" y2="408.06" stroke="#365c8d" stroke-width="3.3" stroke-linecap="round"/>
<line x1="1121.58" y1="408.06" x2="1120.50" y2="408.30" stroke="#365d8d" stroke-width="3.3" stroke-linecap="round"/>
<line x1="1120.50" y1="408.30" x2="1119.42" y2="408.53" stroke="#355f8d" stroke-width="3.3" stroke-linecap="round"/>
<line x1="1119.42" y1="408.53" x2="1118.33" y2="408.75" stroke="#34608d" stroke-width="3.3" stroke-linecap="round"/>
<line x1="1118.33" y1="408.75" x2="1117.23" y2="408.97" stroke="#34618d" stroke-width="3.3" stroke-linecap="round"/>
<line x1="1117.23" y1="408.97" x2="1116.12" y2="409.19" stroke="#33638d" stroke-width="3.3" stroke-linecap="round"/>
<line x1="1116.12" y1="409.19" x2="1115.00" y2="409.40" stroke="#32648e" stroke-width="3.3" stroke-linecap="round"/>
<line x1="1115.00" y1="409.40" x2="1113.87" y2="409.60" stroke="#32658e" stroke-width="3.3" stroke-linecap="round"/>
<line x1="1113.87" y1="409.60" x2="1112.72" y2="409.80" stroke="#31678e" stroke-width="3.3" stroke-linecap="round"/>
<line x1="1112.72" y1="409.80" x2="1111.56" y2="409.99" stroke="#30698e" stroke-width="3.3" stroke-linecap="round"/>
<line x1="1111.56" y1="409.99" x2="1110.39" y2="410.18" stroke="#306a8e" stroke-width="3.3" stroke-linecap="round"/>
<line x1="1110.39" y1="410.18" x2="1109.21" y2="410.36" stroke="#2f6c8e" stroke-width="3.3" stroke-linecap="round"/>
<line x1="1109.21" y1="410.36" x2="1108.03" y2="410.53" stroke="#2e6e8e" stroke-width="3.3" stroke-linecap="round"/>
<line x1="1108.03" y1="410.53" x2="1106.85" y2="410.70" stroke="#2d708e" stroke-width="3.3" stroke-linecap="round"/>
<line x1="1106.85" y1="410.70" x2="1105.67" y2="410.87" stroke="#2d718e" stroke-width="3.3" stroke-linecap="round"/>
<line x1="1105.67" y1="410.87" x2="1104.49" y2="411.03" stroke="#2c728e" stroke-width="3.3" stroke-linecap="round"/>
<line x1="1104.49" y1="411.03" x2="1103.32" y2="411.19" stroke="#2b748e" stroke-width="3.3" stroke-linecap="round"/>
<line x1="1103.32" y1="411.19" x2="1102.15" y2="411.35" stroke="#2b758e" stroke-width="3.3" stroke-linecap="round"/>
<line x1="1102.15" y1="411.35" x2="1101.00" y2="411.50" stroke="#2a778e" stroke-width="3.3" stroke-linecap="round"/>
<line x1="1101.00" y1="411.50" x2="1099.85" y2="411.65" stroke="#29798e" stroke-width="3.3" stroke-linecap="round"/>
<line x1="1099.85" y1="411.65" x2="1098.70" y2="411.80" stroke="#297b8e" stroke-width="3.3" stroke-linecap="round"/>
<line x1="1098.70" y1="411.80" x2="1097.55" y2="411.95" stroke="#287d8e" stroke-width="3.3" stroke-linecap="round"/>
<line x1="1097.55" y1="411.95" x2="1096.41" y2="412.09" stroke="#277f8e" stroke-width="3.3" stroke-linecap="round"/>
<line x1="1096.41" y1="412.09" x2="1095.26" y2="412.23" stroke="#26828e" stroke-width="3.3" stroke-linecap="round"/>
<line x1="1095.26" y1="412.23" x2="1094.12" y2="412.37" stroke="#25838e" stroke-width="3.3" stroke-linecap="round"/>
<line x1="1094.12" y1="412.37" x2="1092.99" y2="412.50" stroke="#25858e" stroke-width="3.3" stroke-linecap="round"/>
<line x1="1092.99" y1="412.50" x2="1091.87" y2="412.63" stroke="#24878e" stroke-width="3.3" stroke-linecap="round"/>
<line x1="1091.87" y1="412.63" x2="1090.76" y2="412.75" stroke="#23898e" stroke-width="3.3" stroke-linecap="round"/>
<line x1="1090.76" y1="412.75" x2="1089.66" y2="412.87" stroke="#228b8d" stroke-width="3.3" stroke-linecap="round"/>
<line x1="1089.66" y1="412.87" x2="1088.57" y2="412.99" stroke="#228d8d" stroke-width="3.3" stroke-linecap="round"/>
<line x1="1088.57" y1="412.99" x2="1087.50" y2="413.10" stroke="#218f8d" stroke-width="3.3" stroke-linecap="round"/>
<line x1="1087.50" y1="413.10" x2="1086.45" y2="413.20" stroke="#20928c" stroke-width="3.3" stroke-linecap="round"/>
<line x1="1086.45" y1="413.20" x2="1085.41" y2="413.30" stroke="#20938c" stroke-width="3.3" stroke-linecap="round"/>
<line x1="1085.41" y1="413.30" x2="1084.39" y2="413.40" stroke="#1f958b" stroke-width="3.3" stroke-linecap="round"/>
<line x1="1084.39" y1="413.40" x2="1083.38" y2="413.49" stroke="#1f978b" stroke-width="3.3" stroke-linecap="round"/>
<line x1="1083.38" y1="413.49" x2="1082.38" y2="413.57" stroke="#1f998a" stroke-width="3.3" stroke-linecap="round"/>
<line x1="1082.38" y1="413.57" x2="1081.39" y2="413.65" stroke="#1e9b8a" stroke-width="3.3" stroke-linecap="round"/>
<line x1="1081.39" y1="413.65" x2="1080.41" y2="413.73" stroke="#1e9d89" stroke-width="3.3" stroke-linecap="round"/>
<line x1="1080.41" y1="413.73" x2="1079.43" y2="413.80" stroke="#1fa088" stroke-width="3.3" stroke-linecap="round"/>
<line x1="1079.43" y1="413.80" x2="1078.45" y2="413.88" stroke="#1fa187" stroke-width="3.3" stroke-linecap="round"/>
<line x1="1078.45" y1="413.88" x2="1077.47" y2="413.95" stroke="#20a386" stroke-width="3.3" stroke-linecap="round"/>
<line x1="1077.47" y1="413.95" x2="1076.49" y2="414.03" stroke="#21a585" stroke-width="3.3" stroke-linecap="round"/>
<line x1="1076.49" y1="414.03" x2="1075.50" y2="414.10" stroke="#22a785" stroke-width="3.3" stroke-linecap="round"/>
<line x1="1075.50" y1="414.10" x2="1074.51" y2="414.17" stroke="#23a983" stroke-width="3.3" stroke-linecap="round"/>
<line x1="1074.51" y1="414.17" x2="1073.51" y2="414.24" stroke="#25ac82" stroke-width="3.3" stroke-linecap="round"/>
<line x1="1073.51" y1="414.24" x2="1072.52" y2="414.31" stroke="#28ae80" stroke-width="3.3" stroke-linecap="round"/>
<line x1="1072.52" y1="414.31" x2="1071.53" y2="414.38" stroke="#2ab07f" stroke-width="3.3" stroke-linecap="round"/>
<line x1="1071.53" y1="414.38" x2="1070.54" y2="414.44" stroke="#2eb37c" stroke-width="3.3" stroke-linecap="round"/>
<line x1="1070.54" y1="414.44" x2="1069.55" y2="414.51" stroke="#31b57b" stroke-width="3.3" stroke-linecap="round"/>
<line x1="1069.55" y1="414.51" x2="1068.56" y2="414.57" stroke="#35b779" stroke-width="3.3" stroke-linecap="round"/>
<line x1="1068.56" y1="414.57" x2="1067.58" y2="414.63" stroke="#38b977" stroke-width="3.3" stroke-linecap="round"/>
<line x1="1067.58" y1="414.63" x2="1066.60" y2="414.70" stroke="#3dbc74" stroke-width="3.3" stroke-linecap="round"/>
<line x1="1066.60" y1="414.70" x2="1065.63" y2="414.76" stroke="#40bd72" stroke-width="3.3" stroke-linecap="round"/>
<line x1="1065.63" y1="414.76" x2="1064.66" y2="414.83" stroke="#46c06f" stroke-width="3.3" stroke-linecap="round"/>
<line x1="1064.66" y1="414.83" x2="1063.70" y2="414.90" stroke="#4cc26c" stroke-width="3.3" stroke-linecap="round"/>
<line x1="1063.70" y1="414.90" x2="1062.74" y2="414.97" stroke="#50c46a" stroke-width="3.3" stroke-linecap="round"/>
<line x1="1062.74" y1="414.97" x2="1061.79" y2="415.04" stroke="#52c569" stroke-width="3.3" stroke-linecap="round"/>
<line x1="1061.79" y1="415.04" x2="1060.85" y2="415.12" stroke="#56c667" stroke-width="3.3" stroke-linecap="round"/>
<line x1="1060.85" y1="415.12" x2="1059.91" y2="415.19" stroke="#5ac864" stroke-width="3.3" stroke-linecap="round"/>
<line x1="1059.91" y1="415.19" x2="1058.97" y2="415.26" stroke="#5ec962" stroke-width="3.3" stroke-linecap="round"/>
<line x1="1058.97" y1="415.26" x2="1058.04" y2="415.34" stroke="#60ca60" stroke-width="3.3" stroke-linecap="round"/>
<line x1="1058.04" y1="415.34" x2="1057.11" y2="415.41" stroke="#65cb5e" stroke-width="3.3" stroke-linecap="round"/>
<line x1="1057.11" y1="415.41" x2="1056.18" y2="415.49" stroke="#69cd5b" stroke-width="3.3" stroke-linecap="round"/>
<line x1="1056.18" y1="415.49" x2="1055.26" y2="415.57" stroke="#6ccd5a" stroke-width="3.3" stroke-linecap="round"/>
<line x1="1055.26" y1="415.57" x2="1054.34" y2="415.64" stroke="#70cf57" stroke-width="3.3" stroke-linecap="round"/>
<line x1="1054.34" y1="415.64" x2="1053.42" y2="415.72" stroke="#75d054" stroke-width="3.3" stroke-linecap="round"/>
<line x1="1053.42" y1="415.72" x2="1052.50" y2="415.80" stroke="#77d153" stroke-width="3.3" stroke-linecap="round"/>
<line x1="1052.50" y1="415.80" x2="1051.60" y2="415.88" stroke="#7cd250" stroke-width="3.3" stroke-linecap="round"/>
<line x1="1051.60" y1="415.88" x2="1050.71" y2="415.96" stroke="#81d34d" stroke-width="3.3" stroke-linecap="round"/>
<line x1="1050.71" y1="415.96" x2="1049.84" y2="416.05" stroke="#86d549" stroke-width="3.3" stroke-linecap="round"/>
<line x1="1049.84" y1="416.05" x2="1048.98" y2="416.14" stroke="#89d548" stroke-width="3.3" stroke-linecap="round"/>
<line x1="1048.98" y1="416.14" x2="1048.12" y2="416.22" stroke="#8ed645" stroke-width="3.3" stroke-linecap="round"/>
<line x1="1048.12" y1="416.22" x2="1047.26" y2="416.31" stroke="#93d741" stroke-width="3.3" stroke-linecap="round"/>
<line x1="1047.26" y1="416.31" x2="1046.39" y2="416.40" stroke="#95d840" stroke-width="3.3" stroke-linecap="round"/>
<line x1="1046.39" y1="416.40" x2="1045.50" y2="416.49" stroke="#9bd93c" stroke-width="3.3" stroke-linecap="round"/>
<line x1="1045.50" y1="416.49" x2="1044.59" y2="416.57" stroke="#a0da39" stroke-width="3.3" stroke-linecap="round"/>
<line x1="1044.59" y1="416.57" x2="1043.66" y2="416.65" stroke="#a5db36" stroke-width="3.3" stroke-linecap="round"/>
<line x1="1043.66" y1="416.65" x2="1042.70" y2="416.73" stroke="#a8db34" stroke-width="3.3" stroke-linecap="round"/>
<line x1="1042.70" y1="416.73" x2="1041.70" y2="416.80" stroke="#addc30" stroke-width="3.3" stroke-linecap="round"/>
<line x1="1041.70" y1="416.80" x2="1040.66" y2="416.87" stroke="#b2dd2d" stroke-width="3.3" stroke-linecap="round"/>
<line x1="1040.66" y1="416.87" x2="1039.59" y2="416.94" stroke="#b5de2b" stroke-width="3.3" stroke-linecap="round"/>
<line x1="1039.59" y1="416.94" x2="1038.48" y2="417.00" stroke="#bade28" stroke-width="3.3" stroke-linecap="round"/>
<line x1="1038.48" y1="417.00" x2="1037.35" y2="417.06" stroke="#bddf26" stroke-width="3.3" stroke-linecap="round"/>
<line x1="1037.35" y1="417.06" x2="1036.20" y2="417.12" stroke="#c2df23" stroke-width="3.3" stroke-linecap="round"/>
<line x1="1036.20" y1="417.12" x2="1035.04" y2="417.18" stroke="#c5e021" stroke-width="3.3" stroke-linecap="round"/>
<line x1="1035.04" y1="417.18" x2="1033.86" y2="417.24" stroke="#c8e020" stroke-width="3.3" stroke-linecap="round"/>
<line x1="1033.86" y1="417.24" x2="1032.68" y2="417.29" stroke="#cde11d" stroke-width="3.3" stroke-linecap="round"/>
<line x1="1032.68" y1="417.29" x2="1031.50" y2="417.35" stroke="#d0e11c" stroke-width="3.3" stroke-linecap="round"/>
<line x1="1031.50" y1="417.35" x2="1030.32" y2="417.40" stroke="#d5e21a" stroke-width="3.3" stroke-linecap="round"/>
<line x1="1030.32" y1="417.40" x2="1029.15" y2="417.45" stroke="#d8e219" stroke-width="3.3" stroke-linecap="round"/>
<line x1="1029.15" y1="417.45" x2="1028.00" y2="417.50" stroke="#dde318" stroke-width="3.3" stroke-linecap="round"/>
<line x1="1028.00" y1="417.50" x2="1026.87" y2="417.55" stroke="#dfe318" stroke-width="3.3" stroke-linecap="round"/>
<line x1="1026.87" y1="417.55" x2="1025.76" y2="417.60" stroke="#e2e418" stroke-width="3.3" stroke-linecap="round"/>
<line x1="1025.76" y1="417.60" x2="1024.66" y2="417.66" stroke="#e5e419" stroke-width="3.3" stroke-linecap="round"/>
<line x1="1024.66" y1="417.66" x2="1023.57" y2="417.71" stroke="#e7e419" stroke-width="3.3" stroke-linecap="round"/>
<line x1="1023.57" y1="417.71" x2="1022.48" y2="417.76" stroke="#ece51b" stroke-width="3.3" stroke-linecap="round"/>
<line x1="1022.48" y1="417.76" x2="1021.38" y2="417.81" stroke="#efe51c" stroke-width="3.3" stroke-linecap="round"/>
<line x1="1021.38" y1="417.81" x2="1020.27" y2="417.85" stroke="#f1e51d" stroke-width="3.3" stroke-linecap="round"/>
<line x1="1020.27" y1="417.85" x2="1019.13" y2="417.89" stroke="#f4e61e" stroke-width="3.3" stroke-linecap="round"/>
<line x1="1019.13" y1="417.89" x2="1017.96" y2="417.93" stroke="#f6e620" stroke-width="3.3" stroke-linecap="round"/>
<line x1="1017.96" y1="417.93" x2="1016.76" y2="417.96" stroke="#f8e621" stroke-width="3.3" stroke-linecap="round"/>
<line x1="1016.76" y1="417.96" x2="1015.50" y2="417.98" stroke="#fbe723" stroke-width="3.3" stroke-linecap="round"/>
<line x1="1015.50" y1="417.98" x2="1014.20" y2="418.00" stroke="#fde725" stroke-width="3.3" stroke-linecap="round"/>
<line x1="1014.20" y1="418.00" x2="1012.84" y2="418.01" stroke="#fde725" stroke-width="3.3" stroke-linecap="round"/>
<line x1="1012.84" y1="418.01" x2="1011.42" y2="418.02" stroke="#fde725" stroke-width="3.3" stroke-linecap="round"/>
<line x1="1011.42" y1="418.02" x2="1009.97" y2="418.02" stroke="#fde725" stroke-width="3.3" stroke-linecap="round"/>
<line x1="1009.97" y1="418.02" x2="1008.47" y2="418.01" stroke="#fde725" stroke-width="3.3" stroke-linecap="round"/>
<line x1="1008.47" y1="418.01" x2="1006.94" y2="418.01" stroke="#fde725" stroke-width="3.3" stroke-linecap="round"/>
<line x1="1006.94" y1="418.01" x2="1005.39" y2="417.99" stroke="#fde725" stroke-width="3.3" stroke-linecap="round"/>
<line x1="1005.39" y1="417.99" x2="1003.83" y2="417.98" stroke="#fde725" stroke-width="3.3" stroke-linecap="round"/>
<line x1="1003.83" y1="417.98" x2="1002.25" y2="417.95" stroke="#fde725" stroke-width="3.3" stroke-linecap="round"/>
<line x1="1002.25" y1="417.95" x2="1000.67" y2="417.92" stroke="#fde725" stroke-width="3.3" stroke-linecap="round"/>
<line x1="1000.67" y1="417.92" x2="999.10" y2="417.89" stroke="#fde725" stroke-width="3.3" stroke-linecap="round"/>
<line x1="999.10" y1="417.89" x2="997.54" y2="417.85" stroke="#fde725" stroke-width="3.3" stroke-linecap="round"/>
<line x1="997.54" y1="417.85" x2="996.00" y2="417.80" stroke="#fde725" stroke-width="3.3" stroke-linecap="round"/>
<line x1="996.00" y1="417.80" x2="994.44" y2="417.75" stroke="#fde725" stroke-width="3.3" stroke-linecap="round"/>
<line x1="994.44" y1="417.75" x2="992.82" y2="417.69" stroke="#fde725" stroke-width="3.3" stroke-linecap="round"/>
<line x1="992.82" y1="417.69" x2="991.16" y2="417.64" stroke="#fde725" stroke-width="3.3" stroke-linecap="round"/>
<line x1="991.16" y1="417.64" x2="989.49" y2="417.57" stroke="#fde725" stroke-width="3.3" stroke-linecap="round"/>
<line x1="989.49" y1="417.57" x2="987.81" y2="417.51" stroke="#fde725" stroke-width="3.3" stroke-linecap="round"/>
<line x1="987.81" y1="417.51" x2="986.14" y2="417.43" stroke="#fde725" stroke-width="3.3" stroke-linecap="round"/>
<line x1="986.14" y1="417.43" x2="984.51" y2="417.35" stroke="#fde725" stroke-width="3.3" stroke-linecap="round"/>
<line x1="984.51" y1="417.35" x2="982.94" y2="417.26" stroke="#fde725" stroke-width="3.3" stroke-linecap="round"/>
<line x1="982.94" y1="417.26" x2="981.43" y2="417.16" stroke="#fde725" stroke-width="3.3" stroke-linecap="round"/>
<line x1="981.43" y1="417.16" x2="980.01" y2="417.05" stroke="#fde725" stroke-width="3.3" stroke-linecap="round"/>
<line x1="980.01" y1="417.05" x2="978.69" y2="416.93" stroke="#fde725" stroke-width="3.3" stroke-linecap="round"/>
<line x1="978.69" y1="416.93" x2="977.50" y2="416.80" stroke="#fde725" stroke-width="3.3" stroke-linecap="round"/>
<line x1="977.50" y1="416.80" x2="976.42" y2="416.66" stroke="#fde725" stroke-width="3.3" stroke-linecap="round"/>
<line x1="976.42" y1="416.66" x2="975.41" y2="416.50" stroke="#fde725" stroke-width="3.3" stroke-linecap="round"/>
<line x1="975.41" y1="416.50" x2="974.48" y2="416.33" stroke="#fde725" stroke-width="3.3" stroke-linecap="round"/>
<line x1="974.48" y1="416.33" x2="973.63" y2="416.16" stroke="#fde725" stroke-width="3.3" stroke-linecap="round"/>
<line x1="973.63" y1="416.16" x2="972.84" y2="415.97" stroke="#fde725" stroke-width="3.3" stroke-linecap="round"/>
<line x1="972.84" y1="415.97" x2="972.12" y2="415.78" stroke="#fde725" stroke-width="3.3" stroke-linecap="round"/>
<line x1="972.12" y1="415.78" x2="971.47" y2="415.57" stroke="#fde725" stroke-width="3.3" stroke-linecap="round"/>
<line x1="971.47" y1="415.57" x2="970.87" y2="415.37" stroke="#fde725" stroke-width="3.3" stroke-linecap="round"/>
<line x1="970.87" y1="415.37" x2="970.33" y2="415.15" stroke="#fde725" stroke-width="3.3" stroke-linecap="round"/>
<line x1="970.33" y1="415.15" x2="969.84" y2="414.94" stroke="#fde725" stroke-width="3.3" stroke-linecap="round"/>
<line x1="969.84" y1="414.94" x2="969.40" y2="414.72" stroke="#fde725" stroke-width="3.3" stroke-linecap="round"/>
<line x1="969.40" y1="414.72" x2="969.00" y2="414.50" stroke="#fde725" stroke-width="3.3" stroke-linecap="round"/>
<line x1="969.00" y1="414.50" x2="968.66" y2="414.27" stroke="#fde725" stroke-width="3.3" stroke-linecap="round"/>
<line x1="968.66" y1="414.27" x2="968.38" y2="414.02" stroke="#fde725" stroke-width="3.3" stroke-linecap="round"/>
<line x1="968.38" y1="414.02" x2="968.16" y2="413.76" stroke="#fde725" stroke-width="3.3" stroke-linecap="round"/>
<line x1="968.16" y1="413.76" x2="968.00" y2="413.49" stroke="#fde725" stroke-width="3.3" stroke-linecap="round"/>
<line x1="968.00" y1="413.49" x2="967.90" y2="413.21" stroke="#fde725" stroke-width="3.3" stroke-linecap="round"/>
<line x1="967.90" y1="413.21" x2="967.84" y2="412.94" stroke="#fde725" stroke-width="3.3" stroke-linecap="round"/>
<line x1="967.84" y1="412.94" x2="967.84" y2="412.66" stroke="#fde725" stroke-width="3.3" stroke-linecap="round"/>
<line x1="967.84" y1="412.66" x2="967.89" y2="412.40" stroke="#fde725" stroke-width="3.3" stroke-linecap="round"/>
<line x1="967.89" y1="412.40" x2="967.98" y2="412.15" stroke="#fde725" stroke-width="3.3" stroke-linecap="round"/>
<line x1="967.98" y1="412.15" x2="968.11" y2="411.91" stroke="#fde725" stroke-width="3.3" stroke-linecap="round"/>
<line x1="968.11" y1="411.91" x2="968.29" y2="411.69" stroke="#fde725" stroke-width="3.3" stroke-linecap="round"/>
<line x1="968.29" y1="411.69" x2="968.50" y2="411.50" stroke="#fde725" stroke-width="3.3" stroke-linecap="round"/>
<line x1="968.50" y1="411.50" x2="968.76" y2="411.33" stroke="#fde725" stroke-width="3.3" stroke-linecap="round"/>
<line x1="968.76" y1="411.33" x2="969.07" y2="411.18" stroke="#fde725" stroke-width="3.3" stroke-linecap="round"/>
<line x1="969.07" y1="411.18" x2="969.44" y2="411.04" stroke="#fde725" stroke-width="3.3" stroke-linecap="round"/>
<line x1="969.44" y1="411.04" x2="969.86" y2="410.91" stroke="#fde725" stroke-width="3.3" stroke-linecap="round"/>
<line x1="969.86" y1="410.91" x2="970.32" y2="410.80" stroke="#fde725" stroke-width="3.3" stroke-linecap="round"/>
<line x1="970.32" y1="410.80" x2="970.82" y2="410.70" stroke="#fde725" stroke-width="3.3" stroke-linecap="round"/>
<line x1="970.82" y1="410.70" x2="971.37" y2="410.61" stroke="#fde725" stroke-width="3.3" stroke-linecap="round"/>
<line x1="971.37" y1="410.61" x2="971.94" y2="410.52" stroke="#fde725" stroke-width="3.3" stroke-linecap="round"/>
<line x1="971.94" y1="410.52" x2="972.55" y2="410.44" stroke="#fde725" stroke-width="3.3" stroke-linecap="round"/>
<line x1="972.55" y1="410.44" x2="973.18" y2="410.36" stroke="#fde725" stroke-width="3.3" stroke-linecap="round"/>
<line x1="973.18" y1="410.36" x2="973.83" y2="410.28" stroke="#fde725" stroke-width="3.3" stroke-linecap="round"/>
<line x1="973.83" y1="410.28" x2="974.50" y2="410.20" stroke="#fde725" stroke-width="3.3" stroke-linecap="round"/>
<line x1="974.50" y1="410.20" x2="975.24" y2="410.12" stroke="#fde725" stroke-width="3.3" stroke-linecap="round"/>
<line x1="975.24" y1="410.12" x2="976.09" y2="410.05" stroke="#fde725" stroke-width="3.3" stroke-linecap="round"/>
<line x1="976.09" y1="410.05" x2="977.01" y2="409.99" stroke="#fde725" stroke-width="3.3" stroke-linecap="round"/>
<line x1="977.01" y1="409.99" x2="978.00" y2="409.93" stroke="#fde725" stroke-width="3.3" stroke-linecap="round"/>
<line x1="978.00" y1="409.93" x2="979.01" y2="409.87" stroke="#fde725" stroke-width="3.3" stroke-linecap="round"/>
<line x1="979.01" y1="409.87" x2="980.02" y2="409.82" stroke="#fde725" stroke-width="3.3" stroke-linecap="round"/>
<line x1="980.02" y1="409.82" x2="981.02" y2="409.77" stroke="#fde725" stroke-width="3.3" stroke-linecap="round"/>
<line x1="981.02" y1="409.77" x2="981.97" y2="409.73" stroke="#fde725" stroke-width="3.3" stroke-linecap="round"/>
<line x1="981.97" y1="409.73" x2="982.85" y2="409.69" stroke="#fde725" stroke-width="3.3" stroke-linecap="round"/>
<line x1="982.85" y1="409.69" x2="983.63" y2="409.66" stroke="#fde725" stroke-width="3.3" stroke-linecap="round"/>
<line x1="983.63" y1="409.66" x2="984.29" y2="409.63" stroke="#fde725" stroke-width="3.3" stroke-linecap="round"/>
<line x1="984.29" y1="409.63" x2="984.80" y2="409.60" stroke="#fde725" stroke-width="3.3" stroke-linecap="round"/>
<line x1="1113.70" y1="838.00" x2="1113.38" y2="837.73" stroke="#440154" stroke-width="3.3" stroke-linecap="round"/>
<line x1="1113.38" y1="837.73" x2="1112.97" y2="837.39" stroke="#440256" stroke-width="3.3" stroke-linecap="round"/>
<line x1="1112.97" y1="837.39" x2="1112.49" y2="837.00" stroke="#450559" stroke-width="3.3" stroke-linecap="round"/>
<line x1="1112.49" y1="837.00" x2="1111.95" y2="836.55" stroke="#46075a" stroke-width="3.3" stroke-linecap="round"/>
<line x1="1111.95" y1="836.55" x2="1111.37" y2="836.07" stroke="#46085c" stroke-width="3.3" stroke-linecap="round"/>
<line x1="1111.37" y1="836.07" x2="1110.75" y2="835.56" stroke="#460b5e" stroke-width="3.3" stroke-linecap="round"/>
<line x1="1110.75" y1="835.56" x2="1110.11" y2="835.03" stroke="#470d60" stroke-width="3.3" stroke-linecap="round"/>
<line x1="1110.11" y1="835.03" x2="1109.46" y2="834.49" stroke="#470e61" stroke-width="3.3" stroke-linecap="round"/>
<line x1="1109.46" y1="834.49" x2="1108.81" y2="833.96" stroke="#471063" stroke-width="3.3" stroke-linecap="round"/>
<line x1="1108.81" y1="833.96" x2="1108.18" y2="833.45" stroke="#471365" stroke-width="3.3" stroke-linecap="round"/>
<line x1="1108.18" y1="833.45" x2="1107.57" y2="832.95" stroke="#481467" stroke-width="3.3" stroke-linecap="round"/>
<line x1="1107.57" y1="832.95" x2="1107.00" y2="832.50" stroke="#481668" stroke-width="3.3" stroke-linecap="round"/>
<line x1="1107.00" y1="832.50" x2="1106.46" y2="832.07" stroke="#48186a" stroke-width="3.3" stroke-linecap="round"/>
<line x1="1106.46" y1="832.07" x2="1105.94" y2="831.65" stroke="#481a6c" stroke-width="3.3" stroke-linecap="round"/>
<line x1="1105.94" y1="831.65" x2="1105.42" y2="831.24" stroke="#481b6d" stroke-width="3.3" stroke-linecap="round"/>
<line x1="1105.42" y1="831.24" x2="1104.91" y2="830.83" stroke="#481c6e" stroke-width="3.3" stroke-linecap="round"/>
<line x1="1104.91" y1="830.83" x2="1104.40" y2="830.43" stroke="#481f70" stroke-width="3.3" stroke-linecap="round"/>
<line x1="1104.40" y1="830.43" x2="1103.89" y2="830.03" stroke="#482071" stroke-width="3.3" stroke-linecap="round"/>
<line x1="1103.89" y1="830.03" x2="1103.37" y2="829.63" stroke="#482173" stroke-width="3.3" stroke-linecap="round"/>
<line x1="1103.37" y1="829.63" x2="1102.85" y2="829.23" stroke="#482374" stroke-width="3.3" stroke-linecap="round"/>
<line x1="1102.85" y1="829.23" x2="1102.31" y2="828.83" stroke="#482576" stroke-width="3.3" stroke-linecap="round"/>
<line x1="1102.31" y1="828.83" x2="1101.76" y2="828.42" stroke="#482677" stroke-width="3.3" stroke-linecap="round"/>
<line x1="1101.76" y1="828.42" x2="1101.19" y2="828.01" stroke="#482878" stroke-width="3.3" stroke-linecap="round"/>
<line x1="1101.19" y1="828.01" x2="1100.60" y2="827.60" stroke="#472a7a" stroke-width="3.3" stroke-linecap="round"/>
<line x1="1100.60" y1="827.60" x2="1099.98" y2="827.18" stroke="#472c7a" stroke-width="3.3" stroke-linecap="round"/>
<line x1="1099.98" y1="827.18" x2="1099.34" y2="826.77" stroke="#472d7b" stroke-width="3.3" stroke-linecap="round"/>
<line x1="1099.34" y1="826.77" x2="1098.68" y2="826.35" stroke="#472e7c" stroke-width="3.3" stroke-linecap="round"/>
<line x1="1098.68" y1="826.35" x2="1098.01" y2="825.93" stroke="#472f7d" stroke-width="3.3" stroke-linecap="round"/>
<line x1="1098.01" y1="825.93" x2="1097.32" y2="825.50" stroke="#46307e" stroke-width="3.3" stroke-linecap="round"/>
<line x1="1097.32" y1="825.50" x2="1096.62" y2="825.08" stroke="#46327e" stroke-width="3.3" stroke-linecap="round"/>
<line x1="1096.62" y1="825.08" x2="1095.93" y2="824.66" stroke="#46337f" stroke-width="3.3" stroke-linecap="round"/>
<line x1="1095.93" y1="824.66" x2="1095.23" y2="824.23" stroke="#463480" stroke-width="3.3" stroke-linecap="round"/>
<line x1="1095.23" y1="824.23" x2="1094.53" y2="823.80" stroke="#453581" stroke-width="3.3" stroke-linecap="round"/>
<line x1="1094.53" y1="823.80" x2="1093.84" y2="823.37" stroke="#453781" stroke-width="3.3" stroke-linecap="round"/>
<line x1="1093.84" y1="823.37" x2="1093.16" y2="822.94" stroke="#453882" stroke-width="3.3" stroke-linecap="round"/>
<line x1="1093.16" y1="822.94" x2="1092.50" y2="822.50" stroke="#443983" stroke-width="3.3" stroke-linecap="round"/>
<line x1="1092.50" y1="822.50" x2="1091.85" y2="822.06" stroke="#443b84" stroke-width="3.3" stroke-linecap="round"/>
<line x1="1091.85" y1="822.06" x2="1091.20" y2="821.62" stroke="#433d84" stroke-width="3.3" stroke-linecap="round"/>
<line x1="1091.20" y1="821.62" x2="1090.56" y2="821.18" stroke="#433e85" stroke-width="3.3" stroke-linecap="round"/>
<line x1="1090.56" y1="821.18" x2="1089.92" y2="820.74" stroke="#423f85" stroke-width="3.3" stroke-linecap="round"/>
<line x1="1089.92" y1="820.74" x2="1089.29" y2="820.30" stroke="#424086" stroke-width="3.3" stroke-linecap="round"/>
<line x1="1089.29" y1="820.30" x2="1088.66" y2="819.85" stroke="#424186" stroke-width="3.3" stroke-linecap="round"/>
<line x1="1088.66" y1="819.85" x2="1088.03" y2="819.40" stroke="#414287" stroke-width="3.3" stroke-linecap="round"/>
<line x1="1088.03" y1="819.40" x2="1087.40" y2="818.95" stroke="#414487" stroke-width="3.3" stroke-linecap="round"/>
<line x1="1087.40" y1="818.95" x2="1086.77" y2="818.49" stroke="#404588" stroke-width="3.3" stroke-linecap="round"/>
<line x1="1086.77" y1="818.49" x2="1086.15" y2="818.03" stroke="#404688" stroke-width="3.3" stroke-linecap="round"/>
<line x1="1086.15" y1="818.03" x2="1085.52" y2="817.57" stroke="#3f4788" stroke-width="3.3" stroke-linecap="round"/>
<line x1="1085.52" y1="817.57" x2="1084.90" y2="817.10" stroke="#3f4889" stroke-width="3.3" stroke-linecap="round"/>
<line x1="1084.90" y1="817.10" x2="1084.27" y2="816.63" stroke="#3e4989" stroke-width="3.3" stroke-linecap="round"/>
<line x1="1084.27" y1="816.63" x2="1083.65" y2="816.15" stroke="#3e4c8a" stroke-width="3.3" stroke-linecap="round"/>
<line x1="1083.65" y1="816.15" x2="1083.02" y2="815.67" stroke="#3d4d8a" stroke-width="3.3" stroke-linecap="round"/>
<line x1="1083.02" y1="815.67" x2="1082.39" y2="815.19" stroke="#3d4e8a" stroke-width="3.3" stroke-linecap="round"/>
<line x1="1082.39" y1="815.19" x2="1081.76" y2="814.70" stroke="#3c508b" stroke-width="3.3" stroke-linecap="round"/>
<line x1="1081.76" y1="814.70" x2="1081.14" y2="814.21" stroke="#3b518b" stroke-width="3.3" stroke-linecap="round"/>
<line x1="1081.14" y1="814.21" x2="1080.52" y2="813.72" stroke="#3b528b" stroke-width="3.3" stroke-linecap="round"/>
<line x1="1080.52" y1="813.72" x2="1079.90" y2="813.22" stroke="#3a538b" stroke-width="3.3" stroke-linecap="round"/>
<line x1="1079.90" y1="813.22" x2="1079.29" y2="812.72" stroke="#39558c" stroke-width="3.3" stroke-linecap="round"/>
<line x1="1079.29" y1="812.72" x2="1078.68" y2="812.22" stroke="#39568c" stroke-width="3.3" stroke-linecap="round"/>
<line x1="1078.68" y1="812.22" x2="1078.09" y2="811.71" stroke="#38588c" stroke-width="3.3" stroke-linecap="round"/>
<line x1="1078.09" y1="811.71" x2="1077.50" y2="811.20" stroke="#375a8c" stroke-width="3.3" stroke-linecap="round"/>
<line x1="1077.50" y1="811.20" x2="1076.92" y2="810.68" stroke="#375b8d" stroke-width="3.3" stroke-linecap="round"/>
<line x1="1076.92" y1="810.68" x2="1076.33" y2="810.16" stroke="#365c8d" stroke-width="3.3" stroke-linecap="round"/>
<line x1="1076.33" y1="810.16" x2="1075.75" y2="809.63" stroke="#355e8d" stroke-width="3.3" stroke-linecap="round"/>
<line x1="1075.75" y1="809.63" x2="1075.18" y2="809.10" stroke="#355f8d" stroke-width="3.3" stroke-linecap="round"/>
<line x1="1075.18" y1="809.10" x2="1074.61" y2="808.56" stroke="#34618d" stroke-width="3.3" stroke-linecap="round"/>
<line x1="1074.61" y1="808.56" x2="1074.04" y2="808.02" stroke="#33628d" stroke-width="3.3" stroke-linecap="round"/>
<line x1="1074.04" y1="808.02" x2="1073.49" y2="807.48" stroke="#32648e" stroke-width="3.3" stroke-linecap="round"/>
<line x1="1073.49" y1="807.48" x2="1072.94" y2="806.94" stroke="#32658e" stroke-width="3.3" stroke-linecap="round"/>
<line x1="1072.94" y1="806.94" x2="1072.41" y2="806.40" stroke="#31678e" stroke-width="3.3" stroke-linecap="round"/>
<line x1="1072.41" y1="806.40" x2="1071.89" y2="805.87" stroke="#31688e" stroke-width="3.3" stroke-linecap="round"/>
<line x1="1071.89" y1="805.87" x2="1071.39" y2="805.33" stroke="#306a8e" stroke-width="3.3" stroke-linecap="round"/>
<line x1="1071.39" y1="805.33" x2="1070.90" y2="804.80" stroke="#2f6b8e" stroke-width="3.3" stroke-linecap="round"/>
<line x1="1070.90" y1="804.80" x2="1070.43" y2="804.27" stroke="#2e6d8e" stroke-width="3.3" stroke-linecap="round"/>
<line x1="1070.43" y1="804.27" x2="1069.97" y2="803.74" stroke="#2e6f8e" stroke-width="3.3" stroke-linecap="round"/>
<line x1="1069.97" y1="803.74" x2="1069.53" y2="803.21" stroke="#2d708e" stroke-width="3.3" stroke-linecap="round"/>
<line x1="1069.53" y1="803.21" x2="1069.10" y2="802.68" stroke="#2c718e" stroke-width="3.3" stroke-linecap="round"/>
<line x1="1069.10" y1="802.68" x2="1068.68" y2="802.15" stroke="#2c738e" stroke-width="3.3" stroke-linecap="round"/>
<line x1="1068.68" y1="802.15" x2="1068.28" y2="801.62" stroke="#2b748e" stroke-width="3.3" stroke-linecap="round"/>
<line x1="1068.28" y1="801.62" x2="1067.88" y2="801.09" stroke="#2a768e" stroke-width="3.3" stroke-linecap="round"/>
<line x1="1067.88" y1="801.09" x2="1067.49" y2="800.57" stroke="#2a788e" stroke-width="3.3" stroke-linecap="round"/>
<line x1="1067.49" y1="800.57" x2="1067.11" y2="800.04" stroke="#297a8e" stroke-width="3.3" stroke-linecap="round"/>
<line x1="1067.11" y1="800.04" x2="1066.73" y2="799.53" stroke="#297b8e" stroke-width="3.3" stroke-linecap="round"/>
<line x1="1066.73" y1="799.53" x2="1066.36" y2="799.01" stroke="#287d8e" stroke-width="3.3" stroke-linecap="round"/>
<line x1="1066.36" y1="799.01" x2="1066.00" y2="798.50" stroke="#277f8e" stroke-width="3.3" stroke-linecap="round"/>
<line x1="1066.00" y1="798.50" x2="1065.64" y2="797.99" stroke="#27808e" stroke-width="3.3" stroke-linecap="round"/>
<line x1="1065.64" y1="797.99" x2="1065.30" y2="797.49" stroke="#26828e" stroke-width="3.3" stroke-linecap="round"/>
<line x1="1065.30" y1="797.49" x2="1064.97" y2="796.99" stroke="#26828e" stroke-width="3.3" stroke-linecap="round"/>
<line x1="1064.97" y1="796.99" x2="1064.65" y2="796.49" stroke="#25848e" stroke-width="3.3" stroke-linecap="round"/>
<line x1="1064.65" y1="796.49" x2="1064.33" y2="796.00" stroke="#25858e" stroke-width="3.3" stroke-linecap="round"/>
<line x1="1064.33" y1="796.00" x2="1064.03" y2="795.51" stroke="#24878e" stroke-width="3.3" stroke-linecap="round"/>
<line x1="1064.03" y1="795.51" x2="1063.72" y2="795.02" stroke="#23888e" stroke-width="3.3" stroke-linecap="round"/>
<line x1="1063.72" y1="795.02" x2="1063.42" y2="794.53" stroke="#238a8d" stroke-width="3.3" stroke-linecap="round"/>
<line x1="1063.42" y1="794.53" x2="1063.12" y2="794.04" stroke="#228b8d" stroke-width="3.3" stroke-linecap="round"/>
<line x1="1063.12" y1="794.04" x2="1062.81" y2="793.56" stroke="#228d8d" stroke-width="3.3" stroke-linecap="round"/>
<line x1="1062.81" y1="793.56" x2="1062.51" y2="793.08" stroke="#218e8d" stroke-width="3.3" stroke-linecap="round"/>
<line x1="1062.51" y1="793.08" x2="1062.20" y2="792.60" stroke="#21908d" stroke-width="3.3" stroke-linecap="round"/>
<line x1="1062.20" y1="792.60" x2="1061.89" y2="792.12" stroke="#21918c" stroke-width="3.3" stroke-linecap="round"/>
<line x1="1061.89" y1="792.12" x2="1061.57" y2="791.64" stroke="#20928c" stroke-width="3.3" stroke-linecap="round"/>
<line x1="1061.57" y1="791.64" x2="1061.26" y2="791.16" stroke="#20928c" stroke-width="3.3" stroke-linecap="round"/>
<line x1="1061.26" y1="791.16" x2="1060.94" y2="790.69" stroke="#20938c" stroke-width="3.3" stroke-linecap="round"/>
<line x1="1060.94" y1="790.69" x2="1060.63" y2="790.21" stroke="#1f948c" stroke-width="3.3" stroke-linecap="round"/>
<line x1="1060.63" y1="790.21" x2="1060.32" y2="789.74" stroke="#1f958b" stroke-width="3.3" stroke-linecap="round"/>
<line x1="1060.32" y1="789.74" x2="1060.01" y2="789.27" stroke="#1f968b" stroke-width="3.3" stroke-linecap="round"/>
<line x1="1060.01" y1="789.27" x2="1059.70" y2="788.80" stroke="#1f988b" stroke-width="3.3" stroke-linecap="round"/>
<line x1="1059.70" y1="788.80" x2="1059.39" y2="788.34" stroke="#1f998a" stroke-width="3.3" stroke-linecap="round"/>
<line x1="1059.39" y1="788.34" x2="1059.09" y2="787.89" stroke="#1f9a8a" stroke-width="3.3" stroke-linecap="round"/>
<line x1="1059.09" y1="787.89" x2="1058.79" y2="787.44" stroke="#1e9b8a" stroke-width="3.3" stroke-linecap="round"/>
<line x1="1058.79" y1="787.44" x2="1058.50" y2="787.00" stroke="#1e9c89" stroke-width="3.3" stroke-linecap="round"/>
<line x1="1058.50" y1="787.00" x2="1058.21" y2="786.56" stroke="#1e9d89" stroke-width="3.3" stroke-linecap="round"/>
<line x1="1058.21" y1="786.56" x2="1057.91" y2="786.13" stroke="#1e9d89" stroke-width="3.3" stroke-linecap="round"/>
<line x1="1057.91" y1="786.13" x2="1057.61" y2="785.71" stroke="#1f9e89" stroke-width="3.3" stroke-linecap="round"/>
<line x1="1057.61" y1="785.71" x2="1057.31" y2="785.29" stroke="#1f9f88" stroke-width="3.3" stroke-linecap="round"/>
<line x1="1057.31" y1="785.29" x2="1057.02" y2="784.87" stroke="#1f9f88" stroke-width="3.3" stroke-linecap="round"/>
<line x1="1057.02" y1="784.87" x2="1056.73" y2="784.46" stroke="#1fa088" stroke-width="3.3" stroke-linecap="round"/>
<line x1="1056.73" y1="784.46" x2="1056.44" y2="784.05" stroke="#1fa088" stroke-width="3.3" stroke-linecap="round"/>
<line x1="1056.44" y1="784.05" x2="1056.17" y2="783.65" stroke="#1fa188" stroke-width="3.3" stroke-linecap="round"/>
<line x1="1056.17" y1="783.65" x2="1055.90" y2="783.25" stroke="#1fa187" stroke-width="3.3" stroke-linecap="round"/>
<line x1="1055.90" y1="783.25" x2="1055.65" y2="782.86" stroke="#1fa187" stroke-width="3.3" stroke-linecap="round"/>
<line x1="1055.65" y1="782.86" x2="1055.42" y2="782.48" stroke="#1fa287" stroke-width="3.3" stroke-linecap="round"/>
<line x1="1055.42" y1="782.48" x2="1055.20" y2="782.10" stroke="#20a386" stroke-width="3.3" stroke-linecap="round"/>
<line x1="1055.20" y1="782.10" x2="1055.00" y2="781.72" stroke="#20a386" stroke-width="3.3" stroke-linecap="round"/>
<line x1="1055.00" y1="781.72" x2="1054.80" y2="781.32" stroke="#20a486" stroke-width="3.3" stroke-linecap="round"/>
<line x1="1054.80" y1="781.32" x2="1054.62" y2="780.92" stroke="#20a486" stroke-width="3.3" stroke-linecap="round"/>
<line x1="1054.62" y1="780.92" x2="1054.45" y2="780.52" stroke="#20a486" stroke-width="3.3" stroke-linecap="round"/>
<line x1="1054.45" y1="780.52" x2="1054.29" y2="780.13" stroke="#21a585" stroke-width="3.3" stroke-linecap="round"/>
<line x1="1054.29" y1="780.13" x2="1054.14" y2="779.74" stroke="#21a585" stroke-width="3.3" stroke-linecap="round"/>
<line x1="1054.14" y1="779.74" x2="1054.01" y2="779.38" stroke="#21a685" stroke-width="3.3" stroke-linecap="round"/>
<line x1="1054.01" y1="779.38" x2="1053.88" y2="779.03" stroke="#21a685" stroke-width="3.3" stroke-linecap="round"/>
<line x1="1053.88" y1="779.03" x2="1053.77" y2="778.72" stroke="#22a785" stroke-width="3.3" stroke-linecap="round"/>
<line x1="1053.77" y1="778.72" x2="1053.67" y2="778.44" stroke="#22a785" stroke-width="3.3" stroke-linecap="round"/>
<line x1="1053.67" y1="778.44" x2="1053.58" y2="778.20" stroke="#22a785" stroke-width="3.3" stroke-linecap="round"/>
<line x1="1053.58" y1="778.20" x2="1053.50" y2="778.00" stroke="#22a884" stroke-width="3.3" stroke-linecap="round"/>
<circle cx="254.0" cy="248.1" r="3.9" fill="#f8732c" stroke="#000" stroke-width="1.9"/>
<circle cx="256.9" cy="255.6" r="3.9" fill="#5573b5" stroke="#000" stroke-width="1.9"/>
<polygon points="202.71,139.85 206.41,147.11 201.81,147.55 211.30,154.50 211.25,142.74 208.19,146.21 204.49,138.95" fill="#1f6fbf"/>
<polygon points="184.31,160.42 185.33,168.79 180.86,167.62 187.40,177.40 191.38,166.33 187.32,168.54 186.29,160.18" fill="#e8501e"/>
<circle cx="267.5" cy="457.4" r="3.9" fill="#f8732c" stroke="#000" stroke-width="1.9"/>
<circle cx="261.1" cy="469.5" r="3.9" fill="#5573b5" stroke="#000" stroke-width="1.9"/>
<polygon points="227.70,416.45 227.30,425.16 223.09,423.27 227.90,434.00 233.67,423.75 229.30,425.25 229.70,416.55" fill="#1f6fbf"/>
<polygon points="246.10,415.50 246.10,423.40 241.80,421.70 247.10,432.20 252.40,421.70 248.10,423.40 248.10,415.50" fill="#e8501e"/>
<circle cx="155.9" cy="834.4" r="3.9" fill="#f8732c" stroke="#000" stroke-width="1.9"/>
<circle cx="187.1" cy="741.7" r="4.2" fill="#5573b5" stroke="#000" stroke-width="1.9"/>
<polygon points="223.93,780.94 219.64,774.55 224.15,773.56 213.90,767.80 215.35,779.47 217.98,775.66 222.27,782.06" fill="#1f6fbf"/>
<polygon points="209.95,825.26 203.61,827.61 203.71,822.99 195.70,831.60 207.39,832.93 204.30,829.49 210.65,827.14" fill="#e8501e"/>
<circle cx="1048.3" cy="269.9" r="4.2" fill="#5573b5" stroke="#000" stroke-width="1.9"/>
<circle cx="1044.8" cy="284.8" r="4.2" fill="#f8732c" stroke="#000" stroke-width="1.9"/>
<polygon points="1062.23,234.51 1058.71,240.83 1055.78,237.25 1055.30,249.00 1065.04,242.41 1060.46,241.80 1063.97,235.49" fill="#1f6fbf"/>
<polygon points="1075.38,241.60 1072.42,248.34 1069.17,245.06 1069.80,256.80 1078.87,249.32 1074.25,249.14 1077.22,242.40" fill="#e8501e"/>
<circle cx="998.2" cy="404.8" r="3.9" fill="#f8732c" stroke="#000" stroke-width="1.9"/>
<circle cx="988.9" cy="410.0" r="3.9" fill="#5573b5" stroke="#000" stroke-width="1.9"/>
<polygon points="1084.74,422.30 1076.03,422.80 1077.48,418.41 1067.30,424.30 1078.09,428.99 1076.14,424.80 1084.86,424.30" fill="#1f6fbf"/>
<circle cx="997.5" cy="758.5" r="3.9" fill="#f8732c" stroke="#000" stroke-width="1.9"/>
<circle cx="1053.1" cy="776.9" r="4.2" fill="#5573b5" stroke="#000" stroke-width="1.9"/>
<polygon points="1100.89,819.40 1094.28,814.52 1098.20,812.06 1086.60,810.10 1091.91,820.60 1093.09,816.13 1099.71,821.00" fill="#1f6fbf"/></svg>
</body></html>
